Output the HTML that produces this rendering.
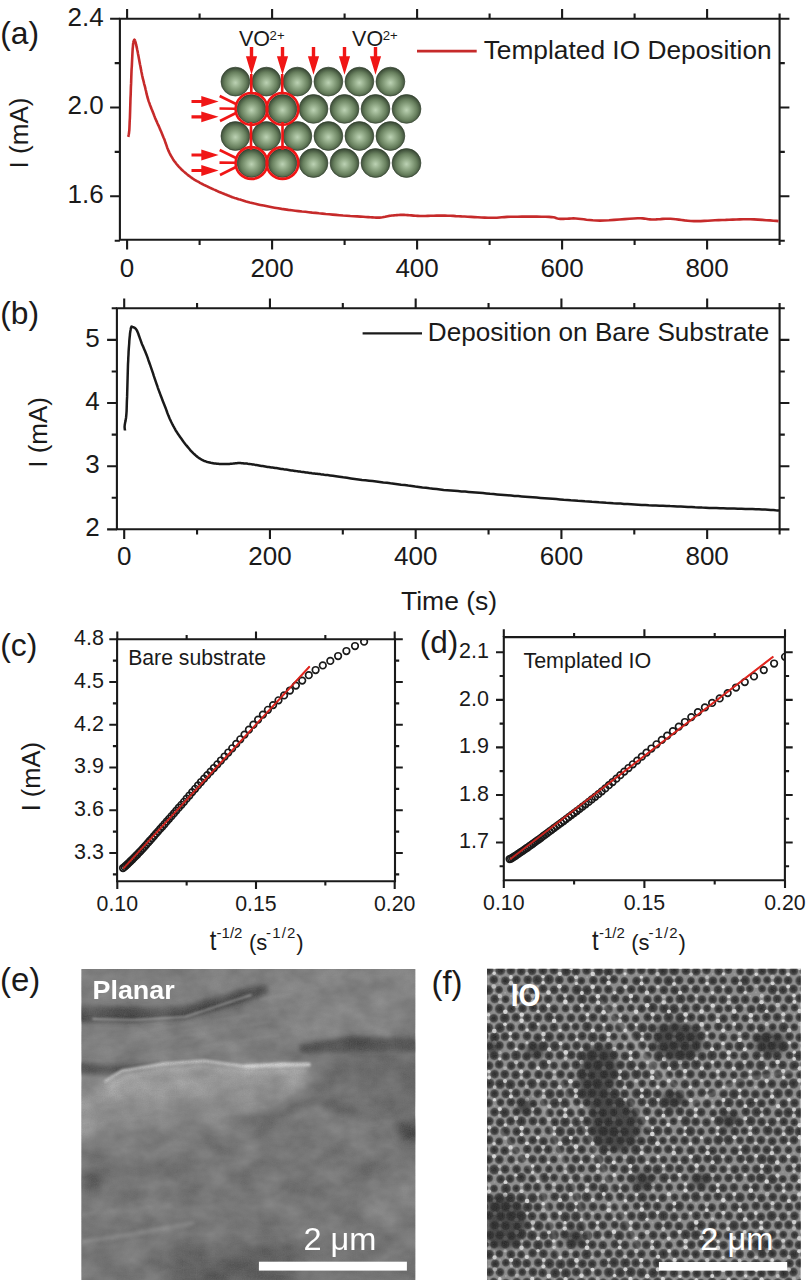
<!DOCTYPE html><html><head><meta charset="utf-8"><style>html,body{margin:0;padding:0;background:#fff;width:809px;height:1280px;overflow:hidden}svg{display:block}</style></head><body>
<svg width="809" height="1280" viewBox="0 0 809 1280" style="font-family:'Liberation Sans',sans-serif">
<defs>
<radialGradient id="sph" cx="50%" cy="54%" r="52%"><stop offset="0" stop-color="#bcd2b4"/><stop offset="0.3" stop-color="#98b08e"/><stop offset="0.7" stop-color="#68805e"/><stop offset="1" stop-color="#3a4a36"/></radialGradient>
</defs>
<rect width="809" height="1280" fill="#fff"/>
<path d="M119.90 18.70 H779.60 V239.80 H119.90 Z" fill="none" stroke="#1a1a1a" stroke-width="2.10"/>
<path d="M127.10 18.70 V8.90 M127.10 239.80 V249.60 M199.60 18.70 V13.50 M199.60 239.80 V245.00 M272.10 18.70 V8.90 M272.10 239.80 V249.60 M344.60 18.70 V13.50 M344.60 239.80 V245.00 M417.10 18.70 V8.90 M417.10 239.80 V249.60 M489.60 18.70 V13.50 M489.60 239.80 V245.00 M562.10 18.70 V8.90 M562.10 239.80 V249.60 M634.60 18.70 V13.50 M634.60 239.80 V245.00 M707.10 18.70 V8.90 M707.10 239.80 V249.60 M779.60 18.70 V13.50 M779.60 239.80 V245.00 M119.90 18.70 H110.10 M779.60 18.70 H789.40 M119.90 63.10 H114.70 M779.60 63.10 H784.80 M119.90 107.50 H110.10 M779.60 107.50 H789.40 M119.90 151.90 H114.70 M779.60 151.90 H784.80 M119.90 196.30 H110.10 M779.60 196.30 H789.40 M119.90 240.70 H114.70 M779.60 240.70 H784.80" fill="none" stroke="#1a1a1a" stroke-width="2.10"/>
<text x="127.10" y="277.00" font-size="26.00" text-anchor="middle" fill="#1a1a1a" font-weight="normal" >0</text>
<text x="272.10" y="277.00" font-size="26.00" text-anchor="middle" fill="#1a1a1a" font-weight="normal" >200</text>
<text x="417.10" y="277.00" font-size="26.00" text-anchor="middle" fill="#1a1a1a" font-weight="normal" >400</text>
<text x="562.10" y="277.00" font-size="26.00" text-anchor="middle" fill="#1a1a1a" font-weight="normal" >600</text>
<text x="707.10" y="277.00" font-size="26.00" text-anchor="middle" fill="#1a1a1a" font-weight="normal" >800</text>
<text x="103.70" y="25.50" font-size="26.00" text-anchor="end" fill="#1a1a1a" font-weight="normal" >2.4</text>
<text x="103.70" y="114.30" font-size="26.00" text-anchor="end" fill="#1a1a1a" font-weight="normal" >2.0</text>
<text x="103.70" y="203.10" font-size="26.00" text-anchor="end" fill="#1a1a1a" font-weight="normal" >1.6</text>
<text x="0.20" y="44.30" font-size="31.80" text-anchor="start" fill="#1a1a1a" font-weight="normal" >(a)</text>
<text transform="translate(27.9,133.0) rotate(-90)" font-size="26" text-anchor="middle" fill="#1a1a1a">I (mA)</text>
<line x1="417.00" y1="51.10" x2="476.70" y2="51.10" stroke="#c62a2a" stroke-width="2.90"/>
<text x="483.70" y="59.40" font-size="26.30" text-anchor="start" fill="#1a1a1a" font-weight="normal" >Templated IO Deposition</text>
<path d="M128.3 136.9 L128.4 136.4 L128.5 135.7 L128.6 135.0 L128.8 134.2 L129.0 133.1 L129.1 131.9 L129.3 130.3 L129.4 128.5 L129.5 126.3 L129.6 123.8 L129.7 121.0 L129.9 118.0 L130.0 114.8 L130.1 111.6 L130.2 108.3 L130.3 105.0 L130.4 101.6 L130.5 98.1 L130.7 94.4 L130.8 90.7 L130.9 87.0 L131.1 83.4 L131.2 80.0 L131.3 76.9 L131.4 74.1 L131.5 71.4 L131.6 69.0 L131.8 66.6 L131.9 64.4 L132.0 62.2 L132.1 60.2 L132.2 58.1 L132.3 56.1 L132.4 54.0 L132.5 52.1 L132.6 50.2 L132.7 48.4 L132.9 46.8 L133.0 45.4 L133.1 44.1 L133.2 43.1 L133.4 42.2 L133.5 41.5 L133.7 40.9 L133.8 40.5 L134.0 40.2 L134.1 40.0 L134.3 39.8 L134.4 39.7 L134.6 39.8 L134.7 39.9 L134.9 40.2 L135.0 40.6 L135.2 41.0 L135.3 41.6 L135.5 42.2 L135.7 42.9 L135.9 43.8 L136.1 44.7 L136.4 45.8 L136.6 46.9 L136.9 48.1 L137.1 49.3 L137.4 50.6 L137.7 51.9 L137.9 53.3 L138.2 54.8 L138.5 56.3 L138.8 57.9 L139.1 59.5 L139.4 61.2 L139.7 62.8 L140.0 64.5 L140.4 66.3 L140.7 68.1 L141.1 69.9 L141.4 71.7 L141.8 73.5 L142.1 75.3 L142.5 76.9 L142.8 78.4 L143.2 79.9 L143.6 81.3 L143.9 82.7 L144.2 84.1 L144.6 85.4 L145.0 86.8 L145.3 88.2 L145.6 89.6 L146.0 91.0 L146.3 92.4 L146.6 93.9 L147.0 95.3 L147.3 96.7 L147.7 98.0 L148.1 99.4 L148.5 100.7 L149.0 102.1 L149.5 103.4 L149.9 104.7 L150.4 105.9 L150.9 107.2 L151.4 108.5 L151.9 109.7 L152.4 110.9 L152.8 112.1 L153.3 113.3 L153.8 114.5 L154.2 115.7 L154.7 116.8 L155.1 118.0 L155.6 119.1 L156.1 120.2 L156.5 121.2 L157.0 122.2 L157.4 123.2 L157.9 124.3 L158.4 125.3 L158.9 126.4 L159.4 127.6 L159.9 128.9 L160.5 130.2 L161.1 131.6 L161.7 133.0 L162.3 134.4 L162.9 135.9 L163.5 137.4 L164.1 138.8 L164.7 140.3 L165.2 141.8 L165.7 143.3 L166.3 144.9 L166.8 146.4 L167.3 147.9 L167.9 149.3 L168.4 150.6 L169.0 151.8 L169.5 153.0 L170.1 154.1 L170.6 155.2 L171.2 156.2 L171.8 157.2 L172.4 158.2 L173.0 159.2 L173.7 160.2 L174.4 161.2 L175.1 162.1 L175.8 163.1 L176.5 164.0 L177.3 164.9 L178.0 165.8 L178.8 166.6 L179.5 167.4 L180.3 168.2 L181.0 169.0 L181.8 169.7 L182.6 170.4 L183.3 171.1 L184.2 171.9 L185.0 172.6 L185.9 173.3 L186.8 174.1 L187.7 174.9 L188.7 175.6 L189.6 176.3 L190.6 177.1 L191.6 177.7 L192.5 178.4 L193.4 179.0 L194.3 179.6 L195.2 180.1 L196.1 180.7 L197.0 181.2 L198.0 181.7 L199.0 182.2 L200.0 182.8 L201.1 183.4 L202.3 184.0 L203.4 184.6 L204.7 185.2 L205.9 185.8 L207.2 186.4 L208.4 187.0 L209.7 187.6 L211.0 188.2 L212.2 188.8 L213.5 189.4 L214.8 189.9 L216.1 190.5 L217.4 191.1 L218.7 191.7 L220.0 192.2 L221.3 192.7 L222.5 193.3 L223.8 193.8 L225.0 194.3 L226.3 194.8 L227.5 195.3 L228.8 195.8 L230.0 196.3 L231.2 196.7 L232.4 197.2 L233.6 197.6 L234.7 198.0 L235.9 198.3 L237.2 198.7 L238.5 199.2 L240.0 199.6 L241.5 200.1 L243.0 200.5 L244.5 201.0 L246.1 201.5 L247.9 202.0 L249.8 202.5 L252.0 203.0 L254.4 203.6 L257.2 204.2 L260.3 204.9 L263.7 205.6 L267.2 206.3 L270.8 207.0 L274.5 207.7 L278.1 208.3 L281.6 208.9 L285.0 209.4 L288.4 209.9 L291.8 210.3 L295.2 210.7 L298.6 211.1 L302.0 211.5 L305.4 211.8 L308.8 212.2 L312.2 212.6 L315.6 212.9 L319.0 213.3 L322.4 213.6 L325.8 214.0 L329.2 214.3 L332.6 214.6 L336.0 214.9 L339.5 215.2 L343.1 215.5 L346.7 215.7 L350.3 216.0 L353.8 216.2 L357.2 216.4 L360.3 216.6 L363.2 216.8 L365.8 217.0 L368.2 217.1 L370.3 217.3 L372.4 217.4 L374.3 217.5 L376.1 217.6 L377.8 217.6 L379.5 217.6 L381.1 217.5 L382.5 217.3 L383.9 217.0 L385.1 216.8 L386.4 216.5 L387.6 216.2 L388.9 215.9 L390.4 215.7 L392.0 215.5 L393.6 215.4 L395.2 215.2 L396.9 215.1 L398.6 215.0 L400.4 214.9 L402.2 214.9 L404.0 214.9 L405.8 215.0 L407.7 215.1 L409.5 215.2 L411.5 215.4 L413.4 215.6 L415.5 215.8 L417.7 215.9 L420.0 216.0 L422.5 216.0 L425.1 216.0 L427.9 215.9 L430.8 215.8 L433.7 215.7 L436.6 215.6 L439.5 215.6 L442.3 215.6 L445.0 215.6 L447.8 215.7 L450.4 215.8 L453.1 215.9 L455.8 216.1 L458.6 216.2 L461.5 216.4 L464.5 216.5 L467.7 216.7 L471.0 216.9 L474.4 217.1 L477.8 217.3 L481.3 217.5 L484.7 217.6 L488.0 217.7 L491.2 217.8 L494.1 217.8 L496.8 217.7 L499.3 217.5 L501.8 217.3 L504.4 217.1 L507.1 216.9 L510.1 216.8 L513.5 216.7 L517.5 216.7 L522.0 216.6 L526.9 216.6 L531.9 216.6 L536.9 216.6 L541.5 216.7 L545.6 216.8 L549.0 216.9 L551.5 217.1 L553.4 217.3 L554.8 217.6 L555.8 217.9 L556.7 218.2 L557.7 218.5 L558.8 218.8 L560.2 218.9 L561.9 218.9 L563.6 218.9 L565.3 218.8 L567.2 218.7 L569.1 218.6 L571.2 218.5 L573.4 218.4 L575.8 218.5 L578.3 218.7 L580.9 219.0 L583.7 219.3 L586.5 219.7 L589.6 220.0 L592.8 220.3 L596.3 220.5 L600.0 220.6 L604.2 220.5 L609.0 220.3 L614.2 219.9 L619.4 219.5 L624.6 219.1 L629.5 218.7 L633.9 218.5 L637.6 218.3 L640.5 218.3 L642.7 218.4 L644.4 218.6 L645.8 218.8 L647.1 219.0 L648.4 219.3 L649.9 219.4 L651.7 219.5 L653.8 219.5 L656.0 219.4 L658.2 219.2 L660.5 219.1 L662.9 218.9 L665.4 218.8 L667.9 218.8 L670.5 218.8 L673.2 219.0 L675.9 219.2 L678.8 219.6 L681.7 220.0 L684.6 220.4 L687.7 220.7 L690.8 221.0 L694.0 221.1 L697.3 221.1 L700.7 221.1 L704.2 220.9 L707.8 220.7 L711.4 220.5 L715.0 220.3 L718.6 220.1 L722.1 220.0 L725.6 219.9 L729.1 219.7 L732.7 219.6 L736.2 219.5 L739.7 219.4 L743.2 219.3 L746.8 219.3 L750.3 219.3 L754.0 219.4 L758.0 219.6 L762.1 219.9 L766.2 220.2 L770.0 220.4 L773.4 220.7 L776.3 220.9 L778.5 221.1" fill="none" stroke="#c62a2a" stroke-width="2.6" stroke-linejoin="round"/>
<circle cx="235.4" cy="81.6" r="14.4" fill="url(#sph)" stroke="#34422f" stroke-width="0.7"/>
<circle cx="266.4" cy="81.6" r="14.4" fill="url(#sph)" stroke="#34422f" stroke-width="0.7"/>
<circle cx="297.4" cy="81.6" r="14.4" fill="url(#sph)" stroke="#34422f" stroke-width="0.7"/>
<circle cx="328.4" cy="81.6" r="14.4" fill="url(#sph)" stroke="#34422f" stroke-width="0.7"/>
<circle cx="359.4" cy="81.6" r="14.4" fill="url(#sph)" stroke="#34422f" stroke-width="0.7"/>
<circle cx="390.4" cy="81.6" r="14.4" fill="url(#sph)" stroke="#34422f" stroke-width="0.7"/>
<circle cx="251.5" cy="108.9" r="14.4" fill="url(#sph)" stroke="#34422f" stroke-width="0.7"/>
<circle cx="282.5" cy="108.9" r="14.4" fill="url(#sph)" stroke="#34422f" stroke-width="0.7"/>
<circle cx="313.5" cy="108.9" r="14.4" fill="url(#sph)" stroke="#34422f" stroke-width="0.7"/>
<circle cx="344.5" cy="108.9" r="14.4" fill="url(#sph)" stroke="#34422f" stroke-width="0.7"/>
<circle cx="375.5" cy="108.9" r="14.4" fill="url(#sph)" stroke="#34422f" stroke-width="0.7"/>
<circle cx="406.5" cy="108.9" r="14.4" fill="url(#sph)" stroke="#34422f" stroke-width="0.7"/>
<circle cx="235.4" cy="136.0" r="14.4" fill="url(#sph)" stroke="#34422f" stroke-width="0.7"/>
<circle cx="266.4" cy="136.0" r="14.4" fill="url(#sph)" stroke="#34422f" stroke-width="0.7"/>
<circle cx="297.4" cy="136.0" r="14.4" fill="url(#sph)" stroke="#34422f" stroke-width="0.7"/>
<circle cx="328.4" cy="136.0" r="14.4" fill="url(#sph)" stroke="#34422f" stroke-width="0.7"/>
<circle cx="359.4" cy="136.0" r="14.4" fill="url(#sph)" stroke="#34422f" stroke-width="0.7"/>
<circle cx="390.4" cy="136.0" r="14.4" fill="url(#sph)" stroke="#34422f" stroke-width="0.7"/>
<circle cx="251.5" cy="163.0" r="14.4" fill="url(#sph)" stroke="#34422f" stroke-width="0.7"/>
<circle cx="282.5" cy="163.0" r="14.4" fill="url(#sph)" stroke="#34422f" stroke-width="0.7"/>
<circle cx="313.5" cy="163.0" r="14.4" fill="url(#sph)" stroke="#34422f" stroke-width="0.7"/>
<circle cx="344.5" cy="163.0" r="14.4" fill="url(#sph)" stroke="#34422f" stroke-width="0.7"/>
<circle cx="375.5" cy="163.0" r="14.4" fill="url(#sph)" stroke="#34422f" stroke-width="0.7"/>
<circle cx="406.5" cy="163.0" r="14.4" fill="url(#sph)" stroke="#34422f" stroke-width="0.7"/>
<g fill="none" stroke="#f01616" stroke-width="2.6"><circle cx="251.5" cy="108.9" r="15.9"/><circle cx="282.5" cy="108.9" r="15.9"/><circle cx="251.5" cy="163.0" r="15.9"/><circle cx="282.5" cy="163.0" r="15.9"/><path d="M251 122 V150 M282.5 122 V150 M251.3 74 V93 M282.2 74 V93"/><path d="M219.7 96 L236 104 M219.5 108.5 L235.6 108.7 M220 121 L236 113 M219.7 150 L236 158 M219.5 162.6 L235.6 162.8 M220 175 L236 167"/></g>
<path d="M249.8 47 L249.8 56.3 L245.9 56.3 L251.5 74.8 L257.1 56.3 L253.2 56.3 L253.2 47 Z" fill="#f01616"/>
<path d="M280.8 47 L280.8 56.3 L276.9 56.3 L282.5 74.8 L288.1 56.3 L284.2 56.3 L284.2 47 Z" fill="#f01616"/>
<path d="M311.8 47 L311.8 56.3 L307.9 56.3 L313.5 74.8 L319.1 56.3 L315.2 56.3 L315.2 47 Z" fill="#f01616"/>
<path d="M342.8 47 L342.8 56.3 L338.9 56.3 L344.5 74.8 L350.1 56.3 L346.2 56.3 L346.2 47 Z" fill="#f01616"/>
<path d="M373.8 47 L373.8 56.3 L369.9 56.3 L375.5 74.8 L381.1 56.3 L377.2 56.3 L377.2 47 Z" fill="#f01616"/>
<path d="M191.5 99.9 L201.3 99.9 L201.3 96.1 L218.6 101.5 L201.3 106.9 L201.3 103.1 L191.5 103.1 Z" fill="#f01616"/>
<path d="M191.5 115.2 L201.3 115.2 L201.3 111.4 L218.6 116.8 L201.3 122.2 L201.3 118.4 L191.5 118.4 Z" fill="#f01616"/>
<path d="M191.5 153.4 L201.3 153.4 L201.3 149.6 L218.6 155.0 L201.3 160.4 L201.3 156.6 L191.5 156.6 Z" fill="#f01616"/>
<path d="M191.5 168.9 L201.3 168.9 L201.3 165.1 L218.6 170.5 L201.3 175.9 L201.3 172.1 L191.5 172.1 Z" fill="#f01616"/>
<text x="239.0" y="45.9" font-size="21.5" fill="#1a1a1a">VO</text>
<text x="269.6" y="40.0" font-size="13.2" fill="#1a1a1a">2+</text>
<text x="352.1" y="45.9" font-size="21.5" fill="#1a1a1a">VO</text>
<text x="382.7" y="40.0" font-size="13.2" fill="#1a1a1a">2+</text>
<path d="M116.90 308.30 H779.60 V529.30 H116.90 Z" fill="none" stroke="#1a1a1a" stroke-width="2.10"/>
<path d="M124.20 308.30 V298.50 M124.20 529.30 V539.10 M197.07 308.30 V303.10 M197.07 529.30 V534.50 M269.94 308.30 V298.50 M269.94 529.30 V539.10 M342.81 308.30 V303.10 M342.81 529.30 V534.50 M415.68 308.30 V298.50 M415.68 529.30 V539.10 M488.55 308.30 V303.10 M488.55 529.30 V534.50 M561.42 308.30 V298.50 M561.42 529.30 V539.10 M634.29 308.30 V303.10 M634.29 529.30 V534.50 M707.16 308.30 V298.50 M707.16 529.30 V539.10 M779.60 308.30 V303.10 M779.60 529.30 V534.50 M116.90 308.32 H111.70 M779.60 308.32 H784.80 M116.90 339.90 H107.10 M779.60 339.90 H789.40 M116.90 371.47 H111.70 M779.60 371.47 H784.80 M116.90 403.05 H107.10 M779.60 403.05 H789.40 M116.90 434.62 H111.70 M779.60 434.62 H784.80 M116.90 466.20 H107.10 M779.60 466.20 H789.40 M116.90 497.77 H111.70 M779.60 497.77 H784.80 M116.90 529.35 H107.10 M779.60 529.35 H789.40" fill="none" stroke="#1a1a1a" stroke-width="2.10"/>
<text x="124.20" y="565.20" font-size="26.00" text-anchor="middle" fill="#1a1a1a" font-weight="normal" >0</text>
<text x="269.94" y="565.20" font-size="26.00" text-anchor="middle" fill="#1a1a1a" font-weight="normal" >200</text>
<text x="415.68" y="565.20" font-size="26.00" text-anchor="middle" fill="#1a1a1a" font-weight="normal" >400</text>
<text x="561.42" y="565.20" font-size="26.00" text-anchor="middle" fill="#1a1a1a" font-weight="normal" >600</text>
<text x="707.16" y="565.20" font-size="26.00" text-anchor="middle" fill="#1a1a1a" font-weight="normal" >800</text>
<text x="99.70" y="346.80" font-size="26.00" text-anchor="end" fill="#1a1a1a" font-weight="normal" >5</text>
<text x="99.70" y="409.95" font-size="26.00" text-anchor="end" fill="#1a1a1a" font-weight="normal" >4</text>
<text x="99.70" y="473.10" font-size="26.00" text-anchor="end" fill="#1a1a1a" font-weight="normal" >3</text>
<text x="99.70" y="536.25" font-size="26.00" text-anchor="end" fill="#1a1a1a" font-weight="normal" >2</text>
<text x="0.20" y="323.90" font-size="31.80" text-anchor="start" fill="#1a1a1a" font-weight="normal" >(b)</text>
<text transform="translate(46.6,432.4) rotate(-90)" font-size="26" text-anchor="middle" fill="#1a1a1a">I (mA)</text>
<line x1="362.60" y1="333.30" x2="422.00" y2="333.30" stroke="#1a1a1a" stroke-width="2.30"/>
<text x="427.80" y="340.90" font-size="26.15" text-anchor="start" fill="#1a1a1a" font-weight="normal" >Deposition on Bare Substrate</text>
<text x="401.00" y="609.80" font-size="26.50" text-anchor="start" fill="#1a1a1a" font-weight="normal" >Time (s)</text>
<path d="M125.0 430.6 L125.0 430.3 L124.9 429.8 L124.8 429.4 L124.7 428.8 L124.7 428.1 L124.6 427.4 L124.6 426.5 L124.7 425.5 L124.8 424.5 L125.0 423.4 L125.2 422.3 L125.5 421.1 L125.7 419.7 L126.0 418.0 L126.2 416.1 L126.4 413.8 L126.6 411.1 L126.7 407.9 L126.8 404.4 L126.9 400.7 L127.1 396.9 L127.2 393.0 L127.3 389.2 L127.4 385.6 L127.5 382.0 L127.6 378.4 L127.7 374.7 L127.8 371.1 L127.9 367.5 L128.0 364.0 L128.2 360.7 L128.3 357.5 L128.5 354.5 L128.6 351.6 L128.8 348.7 L129.0 346.0 L129.2 343.5 L129.3 341.1 L129.5 338.9 L129.7 336.9 L129.9 335.1 L130.0 333.6 L130.2 332.2 L130.4 330.9 L130.6 329.9 L130.7 329.0 L130.9 328.2 L131.1 327.5 L131.3 327.0 L131.4 326.7 L131.6 326.6 L131.7 326.6 L131.9 326.7 L132.1 326.8 L132.3 326.9 L132.5 327.0 L132.8 327.1 L133.1 327.2 L133.5 327.3 L133.8 327.4 L134.2 327.6 L134.6 327.8 L135.0 328.1 L135.3 328.4 L135.6 328.7 L135.9 329.0 L136.2 329.4 L136.4 329.7 L136.7 330.2 L137.0 330.7 L137.3 331.4 L137.7 332.2 L138.1 333.2 L138.5 334.3 L138.9 335.5 L139.4 336.9 L139.9 338.3 L140.4 339.7 L140.9 341.1 L141.4 342.5 L141.9 343.9 L142.5 345.2 L143.1 346.6 L143.7 348.0 L144.3 349.4 L144.9 350.8 L145.5 352.3 L146.1 353.8 L146.7 355.3 L147.3 356.9 L147.9 358.5 L148.4 360.2 L149.0 361.8 L149.6 363.5 L150.2 365.2 L150.8 366.9 L151.4 368.6 L152.0 370.4 L152.6 372.1 L153.2 373.9 L153.7 375.7 L154.3 377.4 L154.9 379.2 L155.5 380.9 L156.1 382.6 L156.7 384.3 L157.3 386.0 L157.8 387.6 L158.4 389.3 L159.0 390.9 L159.6 392.5 L160.2 394.1 L160.8 395.7 L161.4 397.2 L162.0 398.8 L162.5 400.3 L163.1 401.8 L163.7 403.3 L164.3 404.8 L164.9 406.3 L165.5 407.8 L166.1 409.4 L166.7 411.0 L167.2 412.5 L167.8 414.1 L168.4 415.6 L169.0 417.0 L169.6 418.4 L170.2 419.7 L170.8 421.0 L171.4 422.3 L172.0 423.5 L172.6 424.6 L173.2 425.8 L173.8 426.8 L174.3 427.8 L174.8 428.7 L175.2 429.4 L175.5 430.1 L175.9 430.7 L176.3 431.3 L176.7 432.0 L177.3 432.8 L177.9 433.8 L178.7 434.9 L179.6 436.2 L180.5 437.6 L181.6 439.1 L182.6 440.5 L183.7 442.0 L184.8 443.4 L185.8 444.7 L186.8 445.9 L187.8 447.1 L188.8 448.3 L189.8 449.5 L190.7 450.6 L191.7 451.6 L192.7 452.6 L193.7 453.6 L194.7 454.5 L195.7 455.4 L196.7 456.2 L197.6 457.0 L198.6 457.7 L199.6 458.4 L200.6 459.0 L201.6 459.6 L202.6 460.1 L203.6 460.6 L204.5 461.0 L205.5 461.3 L206.5 461.7 L207.5 462.0 L208.5 462.2 L209.6 462.5 L210.7 462.8 L211.9 463.0 L213.1 463.2 L214.4 463.4 L215.6 463.5 L216.9 463.7 L218.2 463.8 L219.4 463.9 L220.6 464.0 L221.9 464.0 L223.1 464.0 L224.3 464.0 L225.6 464.0 L226.8 464.0 L228.1 463.9 L229.3 463.9 L230.5 463.8 L231.8 463.7 L233.0 463.6 L234.2 463.4 L235.5 463.3 L236.7 463.2 L238.0 463.1 L239.2 463.1 L240.4 463.1 L241.7 463.2 L242.9 463.2 L244.1 463.4 L245.4 463.5 L246.6 463.6 L247.9 463.8 L249.1 463.9 L250.3 464.1 L251.6 464.2 L252.8 464.4 L254.1 464.6 L255.3 464.9 L256.5 465.1 L257.8 465.3 L259.0 465.5 L260.2 465.7 L261.5 465.9 L262.7 466.1 L263.9 466.3 L265.2 466.5 L266.4 466.7 L267.7 466.9 L268.9 467.1 L270.1 467.3 L271.4 467.5 L272.6 467.6 L273.8 467.8 L275.1 468.0 L276.3 468.1 L277.6 468.3 L278.8 468.5 L280.0 468.7 L281.3 468.9 L282.5 469.1 L283.8 469.3 L285.0 469.4 L286.2 469.6 L287.5 469.8 L288.7 470.0 L289.9 470.2 L291.2 470.4 L292.4 470.5 L293.7 470.7 L294.9 470.9 L296.1 471.1 L297.4 471.2 L298.6 471.4 L299.8 471.6 L301.1 471.8 L302.3 471.9 L303.5 472.1 L304.7 472.3 L305.9 472.5 L307.2 472.6 L308.4 472.8 L309.6 473.0 L310.8 473.1 L312.0 473.3 L313.2 473.4 L314.5 473.5 L315.7 473.7 L317.0 473.8 L318.3 474.0 L319.6 474.1 L320.7 474.3 L321.8 474.4 L323.0 474.5 L324.3 474.7 L325.9 474.9 L327.7 475.1 L330.0 475.4 L332.8 475.8 L335.9 476.2 L339.4 476.7 L343.2 477.3 L347.0 477.8 L350.9 478.4 L354.7 478.9 L358.4 479.4 L362.0 479.9 L365.5 480.3 L369.1 480.7 L372.6 481.1 L376.2 481.5 L379.8 481.9 L383.3 482.4 L386.9 482.8 L390.5 483.3 L394.0 483.7 L397.6 484.2 L401.1 484.7 L404.7 485.1 L408.2 485.6 L411.8 486.0 L415.3 486.5 L418.8 486.9 L422.4 487.4 L425.9 487.8 L429.5 488.3 L433.0 488.7 L436.6 489.1 L440.1 489.5 L443.7 489.9 L447.3 490.2 L450.8 490.5 L454.4 490.8 L457.9 491.1 L461.5 491.4 L465.1 491.6 L468.6 491.9 L472.2 492.2 L475.8 492.5 L479.3 492.8 L482.9 493.1 L486.4 493.4 L490.0 493.8 L493.5 494.1 L497.1 494.4 L500.6 494.7 L504.1 495.0 L507.6 495.3 L511.1 495.6 L514.6 495.9 L518.2 496.1 L521.7 496.4 L525.3 496.7 L529.0 497.0 L532.8 497.3 L536.6 497.6 L540.5 497.9 L544.5 498.2 L548.5 498.5 L552.4 498.8 L556.2 499.1 L560.0 499.4 L563.7 499.7 L567.3 499.9 L570.8 500.2 L574.4 500.4 L577.9 500.7 L581.4 500.9 L584.9 501.2 L588.4 501.4 L592.0 501.7 L595.5 501.9 L599.1 502.2 L602.6 502.4 L606.2 502.7 L609.8 502.9 L613.3 503.2 L616.9 503.4 L620.5 503.6 L624.0 503.9 L627.6 504.1 L631.1 504.3 L634.7 504.5 L638.2 504.7 L641.8 504.9 L645.3 505.1 L648.8 505.3 L652.4 505.4 L655.9 505.5 L659.5 505.7 L663.0 505.8 L666.6 505.9 L670.1 506.1 L673.7 506.2 L677.3 506.4 L680.8 506.5 L684.4 506.7 L688.0 506.9 L691.5 507.1 L695.1 507.3 L698.6 507.4 L702.2 507.6 L705.8 507.7 L709.3 507.9 L712.9 508.0 L716.4 508.1 L720.0 508.2 L723.5 508.3 L727.1 508.4 L730.6 508.5 L734.2 508.6 L737.9 508.7 L741.6 508.8 L745.3 508.9 L749.0 509.0 L752.5 509.1 L755.9 509.2 L759.0 509.3 L762.0 509.4 L765.1 509.6 L768.0 509.8 L770.8 510.0 L773.3 510.1 L775.6 510.3 L777.5 510.4 L779.0 510.5" fill="none" stroke="#1a1a1a" stroke-width="2.5" stroke-linejoin="round"/>
<path d="M117.10 639.30 H395.00 V881.30 H117.10 Z" fill="none" stroke="#1a1a1a" stroke-width="2.10"/>
<path d="M117.30 639.30 V631.50 M117.30 881.30 V889.10 M186.65 639.30 V635.10 M186.65 881.30 V885.50 M256.00 639.30 V631.50 M256.00 881.30 V889.10 M325.35 639.30 V635.10 M325.35 881.30 V885.50 M394.70 639.30 V631.50 M394.70 881.30 V889.10 M117.10 639.30 H109.30 M395.00 639.30 H402.80 M117.10 660.67 H112.90 M395.00 660.67 H399.20 M117.10 682.05 H109.30 M395.00 682.05 H402.80 M117.10 703.42 H112.90 M395.00 703.42 H399.20 M117.10 724.80 H109.30 M395.00 724.80 H402.80 M117.10 746.17 H112.90 M395.00 746.17 H399.20 M117.10 767.55 H109.30 M395.00 767.55 H402.80 M117.10 788.92 H112.90 M395.00 788.92 H399.20 M117.10 810.30 H109.30 M395.00 810.30 H402.80 M117.10 831.67 H112.90 M395.00 831.67 H399.20 M117.10 853.05 H109.30 M395.00 853.05 H402.80 M117.10 874.42 H112.90 M395.00 874.42 H399.20" fill="none" stroke="#1a1a1a" stroke-width="2.10"/>
<text x="117.30" y="911.00" font-size="21.30" text-anchor="middle" fill="#1a1a1a" font-weight="normal" >0.10</text>
<text x="256.00" y="911.00" font-size="21.30" text-anchor="middle" fill="#1a1a1a" font-weight="normal" >0.15</text>
<text x="394.70" y="911.00" font-size="21.30" text-anchor="middle" fill="#1a1a1a" font-weight="normal" >0.20</text>
<text x="103.90" y="645.10" font-size="21.50" text-anchor="end" fill="#1a1a1a" font-weight="normal" >4.8</text>
<text x="103.90" y="687.85" font-size="21.50" text-anchor="end" fill="#1a1a1a" font-weight="normal" >4.5</text>
<text x="103.90" y="730.60" font-size="21.50" text-anchor="end" fill="#1a1a1a" font-weight="normal" >4.2</text>
<text x="103.90" y="773.35" font-size="21.50" text-anchor="end" fill="#1a1a1a" font-weight="normal" >3.9</text>
<text x="103.90" y="816.10" font-size="21.50" text-anchor="end" fill="#1a1a1a" font-weight="normal" >3.6</text>
<text x="103.90" y="858.85" font-size="21.50" text-anchor="end" fill="#1a1a1a" font-weight="normal" >3.3</text>
<text x="0.20" y="655.80" font-size="31.80" text-anchor="start" fill="#1a1a1a" font-weight="normal" >(c)</text>
<text transform="translate(40.4,776.6) rotate(-90)" font-size="25.5" text-anchor="middle" fill="#1a1a1a">I (mA)</text>
<text x="128.20" y="665.20" font-size="21.20" text-anchor="start" fill="#1a1a1a" font-weight="normal" >Bare substrate</text>
<g font-size="22.0" fill="#1a1a1a">
<text transform="translate(209.70,950.00) scale(1.08,1.22)">t</text>
<text x="216.60" y="938.00" font-size="15.0">-1/2</text>
<text x="249.00" y="950.00">(s</text>
<text x="266.10" y="938.00" font-size="15.0" letter-spacing="1.1">-1/2</text>
<text x="296.30" y="950.00">)</text>
</g>
<path d="M123.2 868.6 L309.7 666.3" stroke="#e0261f" stroke-width="1.7"/>
<clipPath id="clipC"><rect x="117.1" y="639.3" width="277.9" height="242.0"/></clipPath>
<g fill="none" stroke="#1a1a1a" stroke-width="1.65" clip-path="url(#clipC)"><circle cx="123.0" cy="868.0" r="3.3"/><circle cx="124.5" cy="866.9" r="3.3"/><circle cx="126.0" cy="865.5" r="3.3"/><circle cx="127.6" cy="864.0" r="3.3"/><circle cx="129.1" cy="862.6" r="3.3"/><circle cx="130.7" cy="861.0" r="3.3"/><circle cx="132.3" cy="859.5" r="3.3"/><circle cx="133.9" cy="857.9" r="3.3"/><circle cx="135.6" cy="856.2" r="3.3"/><circle cx="137.3" cy="854.5" r="3.3"/><circle cx="139.0" cy="852.7" r="3.3"/><circle cx="140.8" cy="850.8" r="3.3"/><circle cx="142.6" cy="848.9" r="3.3"/><circle cx="144.4" cy="846.9" r="3.3"/><circle cx="146.2" cy="844.8" r="3.3"/><circle cx="148.1" cy="842.7" r="3.3"/><circle cx="150.0" cy="840.5" r="3.3"/><circle cx="152.0" cy="838.3" r="3.3"/><circle cx="154.0" cy="836.0" r="3.3"/><circle cx="156.0" cy="833.7" r="3.3"/><circle cx="158.1" cy="831.3" r="3.3"/><circle cx="160.2" cy="828.9" r="3.3"/><circle cx="162.4" cy="826.5" r="3.3"/><circle cx="164.6" cy="824.0" r="3.3"/><circle cx="166.8" cy="821.4" r="3.3"/><circle cx="169.1" cy="818.8" r="3.3"/><circle cx="171.5" cy="816.1" r="3.3"/><circle cx="173.9" cy="813.4" r="3.3"/><circle cx="176.3" cy="810.6" r="3.3"/><circle cx="178.8" cy="807.7" r="3.3"/><circle cx="181.4" cy="804.8" r="3.3"/><circle cx="184.0" cy="801.8" r="3.3"/><circle cx="186.6" cy="798.7" r="3.3"/><circle cx="189.4" cy="795.5" r="3.3"/><circle cx="192.2" cy="792.1" r="3.3"/><circle cx="195.1" cy="788.8" r="3.3"/><circle cx="198.0" cy="785.4" r="3.3"/><circle cx="201.0" cy="782.0" r="3.3"/><circle cx="204.1" cy="778.6" r="3.3"/><circle cx="207.3" cy="775.1" r="3.3"/><circle cx="210.6" cy="771.6" r="3.3"/><circle cx="213.9" cy="768.0" r="3.3"/><circle cx="217.4" cy="764.3" r="3.3"/><circle cx="220.9" cy="760.5" r="3.3"/><circle cx="224.6" cy="756.5" r="3.3"/><circle cx="228.3" cy="752.5" r="3.3"/><circle cx="232.2" cy="748.3" r="3.3"/><circle cx="236.2" cy="743.9" r="3.3"/><circle cx="240.3" cy="739.3" r="3.3"/><circle cx="244.5" cy="734.6" r="3.3"/><circle cx="248.9" cy="729.7" r="3.3"/><circle cx="253.4" cy="724.7" r="3.3"/><circle cx="258.1" cy="719.6" r="3.3"/><circle cx="262.9" cy="714.6" r="3.3"/><circle cx="267.9" cy="709.8" r="3.3"/><circle cx="273.1" cy="705.1" r="3.3"/><circle cx="278.5" cy="700.3" r="3.3"/><circle cx="284.1" cy="695.4" r="3.3"/><circle cx="289.9" cy="690.5" r="3.3"/><circle cx="295.9" cy="685.6" r="3.3"/><circle cx="302.2" cy="680.6" r="3.3"/><circle cx="308.8" cy="675.2" r="3.3"/><circle cx="315.6" cy="670.0" r="3.3"/><circle cx="322.8" cy="665.4" r="3.3"/><circle cx="330.3" cy="660.9" r="3.3"/><circle cx="338.1" cy="656.0" r="3.3"/><circle cx="346.4" cy="651.0" r="3.3"/><circle cx="355.0" cy="646.0" r="3.3"/><circle cx="364.1" cy="641.7" r="3.3"/></g>
<path d="M123.2 868.6 L309.7 666.3" stroke="#e0261f" stroke-width="1.9" opacity="0.85"/>
<path d="M503.80 637.10 H784.90 V880.20 H503.80 Z" fill="none" stroke="#1a1a1a" stroke-width="2.10"/>
<path d="M503.80 637.10 V629.30 M503.80 880.20 V888.00 M574.10 637.10 V632.90 M574.10 880.20 V884.40 M644.40 637.10 V629.30 M644.40 880.20 V888.00 M714.70 637.10 V632.90 M714.70 880.20 V884.40 M785.00 637.10 V629.30 M785.00 880.20 V888.00 M503.80 652.30 H496.00 M784.90 652.30 H792.70 M503.80 676.07 H499.60 M784.90 676.07 H789.10 M503.80 699.85 H496.00 M784.90 699.85 H792.70 M503.80 723.62 H499.60 M784.90 723.62 H789.10 M503.80 747.40 H496.00 M784.90 747.40 H792.70 M503.80 771.17 H499.60 M784.90 771.17 H789.10 M503.80 794.95 H496.00 M784.90 794.95 H792.70 M503.80 818.73 H499.60 M784.90 818.73 H789.10 M503.80 842.50 H496.00 M784.90 842.50 H792.70 M503.80 866.27 H499.60 M784.90 866.27 H789.10" fill="none" stroke="#1a1a1a" stroke-width="2.10"/>
<text x="503.80" y="910.40" font-size="21.30" text-anchor="middle" fill="#1a1a1a" font-weight="normal" >0.10</text>
<text x="644.40" y="910.40" font-size="21.30" text-anchor="middle" fill="#1a1a1a" font-weight="normal" >0.15</text>
<text x="785.00" y="910.40" font-size="21.30" text-anchor="middle" fill="#1a1a1a" font-weight="normal" >0.20</text>
<text x="488.90" y="658.10" font-size="21.50" text-anchor="end" fill="#1a1a1a" font-weight="normal" >2.1</text>
<text x="488.90" y="705.65" font-size="21.50" text-anchor="end" fill="#1a1a1a" font-weight="normal" >2.0</text>
<text x="488.90" y="753.20" font-size="21.50" text-anchor="end" fill="#1a1a1a" font-weight="normal" >1.9</text>
<text x="488.90" y="800.75" font-size="21.50" text-anchor="end" fill="#1a1a1a" font-weight="normal" >1.8</text>
<text x="488.90" y="848.30" font-size="21.50" text-anchor="end" fill="#1a1a1a" font-weight="normal" >1.7</text>
<text x="419.80" y="653.20" font-size="31.50" text-anchor="start" fill="#1a1a1a" font-weight="normal" >(d)</text>
<text x="523.40" y="668.00" font-size="21.50" text-anchor="start" fill="#1a1a1a" font-weight="normal" >Templated IO</text>
<g font-size="22.0" fill="#1a1a1a">
<text transform="translate(592.00,950.00) scale(1.08,1.22)">t</text>
<text x="598.90" y="938.00" font-size="15.0">-1/2</text>
<text x="631.30" y="950.00">(s</text>
<text x="648.40" y="938.00" font-size="15.0" letter-spacing="1.1">-1/2</text>
<text x="678.60" y="950.00">)</text>
</g>
<path d="M510.2 859.3 L773.3 656.6" stroke="#e0261f" stroke-width="1.7"/>
<clipPath id="clipD"><rect x="503.8" y="637.1" width="281.1" height="243.1"/></clipPath>
<g fill="none" stroke="#1a1a1a" stroke-width="1.65" clip-path="url(#clipD)"><circle cx="509.6" cy="859.0" r="3.3"/><circle cx="511.1" cy="858.5" r="3.3"/><circle cx="512.6" cy="857.5" r="3.3"/><circle cx="514.2" cy="856.5" r="3.3"/><circle cx="515.8" cy="855.5" r="3.3"/><circle cx="517.4" cy="854.4" r="3.3"/><circle cx="519.0" cy="853.3" r="3.3"/><circle cx="520.7" cy="852.2" r="3.3"/><circle cx="522.4" cy="851.1" r="3.3"/><circle cx="524.1" cy="849.9" r="3.3"/><circle cx="525.8" cy="848.7" r="3.3"/><circle cx="527.6" cy="847.5" r="3.3"/><circle cx="529.4" cy="846.2" r="3.3"/><circle cx="531.3" cy="844.9" r="3.3"/><circle cx="533.1" cy="843.5" r="3.3"/><circle cx="535.0" cy="842.1" r="3.3"/><circle cx="537.0" cy="840.7" r="3.3"/><circle cx="539.0" cy="839.3" r="3.3"/><circle cx="541.0" cy="837.8" r="3.3"/><circle cx="543.1" cy="836.2" r="3.3"/><circle cx="545.2" cy="834.7" r="3.3"/><circle cx="547.3" cy="833.1" r="3.3"/><circle cx="549.5" cy="831.4" r="3.3"/><circle cx="551.7" cy="829.8" r="3.3"/><circle cx="554.0" cy="828.0" r="3.3"/><circle cx="556.3" cy="826.3" r="3.3"/><circle cx="558.7" cy="824.6" r="3.3"/><circle cx="561.1" cy="822.8" r="3.3"/><circle cx="563.6" cy="821.0" r="3.3"/><circle cx="566.1" cy="819.1" r="3.3"/><circle cx="568.7" cy="817.2" r="3.3"/><circle cx="571.4" cy="815.1" r="3.3"/><circle cx="574.1" cy="813.1" r="3.3"/><circle cx="576.9" cy="811.0" r="3.3"/><circle cx="579.7" cy="808.8" r="3.3"/><circle cx="582.6" cy="806.6" r="3.3"/><circle cx="585.6" cy="804.3" r="3.3"/><circle cx="588.7" cy="801.9" r="3.3"/><circle cx="591.8" cy="799.4" r="3.3"/><circle cx="595.1" cy="796.8" r="3.3"/><circle cx="598.4" cy="794.2" r="3.3"/><circle cx="601.8" cy="791.3" r="3.3"/><circle cx="605.3" cy="788.4" r="3.3"/><circle cx="608.9" cy="785.2" r="3.3"/><circle cx="612.6" cy="782.0" r="3.3"/><circle cx="616.4" cy="778.7" r="3.3"/><circle cx="620.3" cy="775.2" r="3.3"/><circle cx="624.3" cy="771.6" r="3.3"/><circle cx="628.5" cy="768.0" r="3.3"/><circle cx="632.8" cy="764.3" r="3.3"/><circle cx="637.2" cy="760.6" r="3.3"/><circle cx="641.8" cy="756.7" r="3.3"/><circle cx="646.5" cy="752.7" r="3.3"/><circle cx="651.4" cy="748.5" r="3.3"/><circle cx="656.5" cy="744.3" r="3.3"/><circle cx="661.8" cy="739.9" r="3.3"/><circle cx="667.2" cy="735.6" r="3.3"/><circle cx="672.9" cy="731.2" r="3.3"/><circle cx="678.8" cy="726.6" r="3.3"/><circle cx="684.9" cy="722.0" r="3.3"/><circle cx="691.3" cy="717.1" r="3.3"/><circle cx="697.9" cy="712.2" r="3.3"/><circle cx="704.9" cy="707.4" r="3.3"/><circle cx="712.1" cy="702.9" r="3.3"/><circle cx="719.7" cy="698.4" r="3.3"/><circle cx="727.7" cy="693.1" r="3.3"/><circle cx="736.0" cy="687.5" r="3.3"/><circle cx="744.8" cy="682.1" r="3.3"/><circle cx="754.0" cy="676.4" r="3.3"/><circle cx="763.8" cy="670.1" r="3.3"/><circle cx="774.1" cy="663.5" r="3.3"/><circle cx="785.0" cy="656.8" r="3.3"/></g>
<path d="M510.2 859.3 L773.3 656.6" stroke="#e0261f" stroke-width="1.9" opacity="0.85"/>
<defs><clipPath id="clipE"><rect x="81.5" y="969.0" width="333.8" height="311.0"/></clipPath>
<filter id="b10" x="-50%" y="-50%" width="200%" height="200%"><feGaussianBlur stdDeviation="10"/></filter>
<filter id="b6" x="-50%" y="-50%" width="200%" height="200%"><feGaussianBlur stdDeviation="6"/></filter>
<filter id="b4" x="-50%" y="-50%" width="200%" height="200%"><feGaussianBlur stdDeviation="4"/></filter>
<filter id="b25" x="-50%" y="-50%" width="200%" height="200%"><feGaussianBlur stdDeviation="2.5"/></filter>
<filter id="b15" x="-50%" y="-50%" width="200%" height="200%"><feGaussianBlur stdDeviation="1.5"/></filter>
<filter id="b1" x="-50%" y="-50%" width="200%" height="200%"><feGaussianBlur stdDeviation="1.0"/></filter>
<filter id="b06" x="-50%" y="-50%" width="200%" height="200%"><feGaussianBlur stdDeviation="0.6"/></filter>
<filter id="mottle" x="0" y="0" width="100%" height="100%" color-interpolation-filters="sRGB"><feTurbulence type="fractalNoise" baseFrequency="0.035 0.05" numOctaves="3" seed="8"/><feColorMatrix type="matrix" values="1.3 0 0 0 -0.2  1.3 0 0 0 -0.2  1.3 0 0 0 -0.2  0 0 0 0 1"/></filter>
<filter id="grain" x="0" y="0" width="100%" height="100%" color-interpolation-filters="sRGB"><feTurbulence type="fractalNoise" baseFrequency="0.85" numOctaves="2" seed="3"/><feColorMatrix type="matrix" values="0 0 0 0 0.5  0 0 0 0 0.5  0 0 0 0 0.5  0.7 0.7 0 0 -0.35"/></filter>
</defs>
<g clip-path="url(#clipE)">
<rect x="81.5" y="969.0" width="333.8" height="311.0" fill="#7a7a7a"/>
<g filter="url(#b10)">
<path d="M60 960 L260 960 L250 990 L180 1008 L100 1010 L60 1005 Z" fill="#838383"/>
<path d="M260 960 L430 960 L430 1035 L330 1040 L280 1020 Z" fill="#878787"/>
<path d="M60 1025 L200 1020 L300 1030 L310 1050 L200 1055 L60 1062 Z" fill="#838383"/>
<path d="M60 1078 L160 1068 L250 1070 L310 1072 L300 1100 L240 1118 L150 1132 L60 1138 Z" fill="#919191"/>
<path d="M60 1095 L100 1095 L100 1140 L60 1140 Z" fill="#a5a5a5"/>
<path d="M320 1050 L430 1048 L430 1108 L340 1106 Z" fill="#6b6b6b"/>
<path d="M60 1140 L250 1125 L430 1130 L430 1290 L60 1290 Z" fill="#777777"/>
<path d="M170 1250 L300 1248 L300 1290 L170 1290 Z" fill="#555555"/>
<path d="M360 1190 L430 1188 L430 1220 L365 1222 Z" fill="#858585"/>
</g>
<g filter="url(#b4)">
<ellipse cx="92" cy="1182" rx="11" ry="10" fill="#575757"/>
<ellipse cx="360" cy="1167" rx="18" ry="8" fill="#6a6a6a"/>
<path d="M395 1122 L430 1118 L430 1142 L400 1140 Z" fill="#444"/>
<path d="M238 1118 L276 1112 L313 1097 L350 1105 L380 1122 L350 1112 L313 1104 L276 1119 L240 1124 Z" fill="#5c5c5c"/>
</g>
<g filter="url(#b25)">
<path d="M78 1005 L120 1007 L150 1008 L185 1006 L210 998 L249 987 L268 985 L268 994 L249 999 L212 1010 L186 1017 L130 1021 L100 1022 L78 1022 Z" fill="#4c4c4c"/>
<path d="M78 1011 L130 1015 L186 1012 L249 993 L262 990 L262 996 L249 1000 L186 1019 L130 1022 L78 1022 Z" fill="#3c3c3c"/>
<path d="M300 1045 L313 1043 L350 1036 L416 1038 L420 1052 L350 1051 L313 1053 L300 1052 Z" fill="#4a4a4a"/>
<path d="M78 1062 L100 1064 L133 1066 L160 1062 L160 1066 L133 1073 L100 1075 L78 1074 Z" fill="#4e4e4e"/>
</g>
<g filter="url(#b6)">
<path d="M100 1082 L164 1068 L250 1070 L310 1070 L300 1090 L200 1095 L120 1105 L90 1110 Z" fill="#a3a3a3"/>
</g>
<g filter="url(#b25)">
<path d="M106 1083 L122 1073 L164 1066 L205 1063 L247 1069 L280 1068 L309 1067 L305 1074 L250 1076 L205 1071 L164 1074 L125 1082 L110 1090 Z" fill="#b2b2b2"/>
</g>
<g filter="url(#b1)" fill="none" stroke-linecap="round" stroke-linejoin="round">
<path d="M93 1019 L135 1020 L185 1017 L218 1006 L251 995" stroke="#9c9c9c" stroke-width="2"/>
<path d="M106 1081 L122 1071 L164 1064 L205 1061 L247 1067 L280 1066 L309 1065" stroke="#cdcdcd" stroke-width="3.5"/>
<path d="M245 1066 L280 1064 L309 1064" stroke="#dddddd" stroke-width="3"/>
<path d="M82 1242 L120 1236 L160 1229 L193 1223" stroke="#a8a8a8" stroke-width="3.5" opacity="0.6" filter="url(#b15)"/>
<path d="M82 1214 L130 1210 L170 1205" stroke="#8e8e8e" stroke-width="4" opacity="0.5" filter="url(#b15)"/>
<path d="M150 1030 L250 1015 M160 1040 L270 1022 M180 1050 L280 1035 M260 1000 L330 985 M270 1010 L340 995" stroke="#8e8e8e" stroke-width="1.5" opacity="0.6"/>
</g>
<rect x="81.5" y="969.0" width="333.8" height="311.0" filter="url(#mottle)" opacity="0.13"/>
<rect x="81.5" y="969.0" width="333.8" height="311.0" filter="url(#grain)" opacity="0.4"/>
</g>
<text x="0.00" y="990.60" font-size="33.00" text-anchor="start" fill="#1a1a1a" font-weight="normal" >(e)</text>
<text transform="translate(92.50,999.20) scale(1.035,1)" font-size="26.00" text-anchor="start" fill="#fff" font-weight="bold" >Planar</text>
<rect x="258.9" y="1261.7" width="148" height="8.9" fill="#fff"/>
<text transform="translate(303.45,1250.40) scale(1.050,1)" font-size="31.00" text-anchor="start" fill="#fff" font-weight="normal" >2 μm</text>
<defs><clipPath id="clipF"><rect x="487.0" y="968.7" width="313.8" height="311.3"/></clipPath>
<radialGradient id="hg"><stop offset="0" stop-color="#262626"/><stop offset="0.45" stop-color="#333"/><stop offset="0.75" stop-color="#4a4a4a"/><stop offset="1" stop-color="#6a6a6a" stop-opacity="0.5"/></radialGradient>
</defs>
<g clip-path="url(#clipF)">
<rect x="487.0" y="968.7" width="313.8" height="311.3" fill="#8e8e8e"/>
<g filter="url(#b06)" fill="url(#hg)"><circle cx="483.5" cy="961.4" r="4.8"/><circle cx="495.1" cy="961.2" r="4.3"/><circle cx="505.4" cy="961.4" r="4.3"/><circle cx="515.7" cy="961.3" r="4.8"/><circle cx="527.4" cy="961.7" r="4.8"/><circle cx="537.4" cy="960.9" r="4.8"/><circle cx="548.3" cy="961.8" r="5.5"/><circle cx="560.2" cy="960.5" r="4.3"/><circle cx="571.5" cy="962.0" r="4.8"/><circle cx="581.9" cy="961.4" r="4.3"/><circle cx="592.0" cy="960.5" r="4.8"/><circle cx="603.5" cy="960.6" r="4.8"/><circle cx="613.9" cy="960.8" r="4.3"/><circle cx="624.5" cy="961.2" r="4.8"/><circle cx="636.1" cy="961.8" r="4.8"/><circle cx="647.1" cy="961.5" r="4.3"/><circle cx="657.9" cy="961.5" r="4.8"/><circle cx="668.8" cy="960.9" r="4.8"/><circle cx="680.5" cy="962.1" r="5.5"/><circle cx="691.2" cy="961.6" r="5.5"/><circle cx="701.3" cy="960.8" r="4.8"/><circle cx="712.1" cy="960.6" r="4.8"/><circle cx="723.8" cy="961.1" r="4.8"/><circle cx="734.8" cy="961.1" r="5.5"/><circle cx="745.9" cy="961.8" r="4.8"/><circle cx="755.3" cy="960.8" r="4.8"/><circle cx="767.6" cy="961.2" r="4.8"/><circle cx="778.6" cy="961.1" r="4.8"/><circle cx="788.1" cy="961.5" r="5.5"/><circle cx="800.1" cy="960.9" r="5.5"/><circle cx="809.9" cy="961.0" r="5.5"/><circle cx="822.2" cy="961.7" r="4.8"/><circle cx="477.5" cy="970.3" r="4.8"/><circle cx="488.4" cy="970.0" r="5.5"/><circle cx="500.4" cy="970.2" r="5.5"/><circle cx="510.9" cy="970.6" r="4.8"/><circle cx="521.2" cy="971.1" r="4.8"/><circle cx="532.0" cy="970.9" r="4.8"/><circle cx="542.9" cy="970.6" r="4.8"/><circle cx="553.9" cy="970.3" r="4.8"/><circle cx="566.1" cy="971.2" r="5.5"/><circle cx="575.9" cy="971.3" r="4.8"/><circle cx="586.6" cy="970.5" r="4.8"/><circle cx="598.6" cy="970.9" r="5.5"/><circle cx="608.3" cy="971.5" r="5.5"/><circle cx="619.3" cy="970.3" r="4.8"/><circle cx="631.1" cy="970.4" r="4.8"/><circle cx="641.3" cy="970.0" r="4.8"/><circle cx="651.8" cy="970.8" r="4.8"/><circle cx="663.0" cy="970.9" r="5.5"/><circle cx="674.1" cy="970.6" r="5.5"/><circle cx="685.9" cy="970.7" r="4.8"/><circle cx="696.2" cy="971.3" r="4.8"/><circle cx="706.5" cy="970.1" r="4.8"/><circle cx="718.6" cy="971.2" r="4.8"/><circle cx="728.4" cy="970.2" r="4.3"/><circle cx="740.1" cy="971.4" r="4.3"/><circle cx="750.1" cy="971.4" r="4.8"/><circle cx="762.1" cy="970.9" r="4.8"/><circle cx="772.3" cy="970.1" r="5.5"/><circle cx="782.6" cy="971.4" r="4.3"/><circle cx="793.8" cy="971.0" r="4.8"/><circle cx="804.7" cy="971.2" r="5.5"/><circle cx="816.2" cy="970.4" r="4.8"/><circle cx="483.0" cy="980.5" r="4.3"/><circle cx="493.8" cy="979.7" r="4.8"/><circle cx="505.4" cy="980.7" r="4.8"/><circle cx="516.4" cy="979.8" r="4.8"/><circle cx="527.8" cy="979.7" r="4.8"/><circle cx="537.3" cy="979.8" r="5.5"/><circle cx="548.9" cy="979.4" r="5.5"/><circle cx="559.3" cy="979.9" r="4.8"/><circle cx="570.9" cy="979.6" r="4.3"/><circle cx="581.4" cy="980.8" r="4.3"/><circle cx="593.3" cy="980.4" r="4.8"/><circle cx="603.8" cy="980.3" r="4.8"/><circle cx="613.8" cy="979.4" r="4.8"/><circle cx="624.5" cy="980.8" r="4.3"/><circle cx="636.5" cy="980.9" r="4.8"/><circle cx="646.3" cy="980.4" r="4.3"/><circle cx="657.9" cy="980.5" r="4.8"/><circle cx="668.6" cy="980.9" r="5.5"/><circle cx="679.1" cy="980.2" r="4.8"/><circle cx="691.0" cy="980.8" r="4.3"/><circle cx="701.9" cy="980.5" r="4.3"/><circle cx="712.9" cy="980.8" r="4.8"/><circle cx="723.1" cy="980.4" r="4.3"/><circle cx="734.9" cy="980.7" r="4.8"/><circle cx="745.0" cy="980.6" r="5.5"/><circle cx="756.6" cy="980.3" r="4.8"/><circle cx="767.1" cy="980.0" r="4.3"/><circle cx="778.0" cy="980.3" r="4.8"/><circle cx="788.1" cy="980.4" r="4.8"/><circle cx="800.4" cy="980.7" r="5.5"/><circle cx="810.9" cy="980.0" r="4.3"/><circle cx="821.8" cy="980.3" r="4.8"/><circle cx="478.0" cy="990.1" r="4.8"/><circle cx="488.3" cy="990.0" r="5.5"/><circle cx="499.1" cy="989.7" r="4.3"/><circle cx="510.8" cy="989.1" r="4.3"/><circle cx="522.0" cy="989.6" r="4.8"/><circle cx="532.8" cy="990.3" r="4.8"/><circle cx="543.1" cy="988.8" r="4.8"/><circle cx="554.1" cy="989.9" r="4.8"/><circle cx="564.8" cy="989.1" r="4.8"/><circle cx="576.8" cy="989.8" r="5.5"/><circle cx="587.0" cy="990.2" r="5.5"/><circle cx="597.7" cy="989.8" r="4.8"/><circle cx="608.4" cy="989.5" r="4.8"/><circle cx="620.3" cy="990.2" r="4.8"/><circle cx="631.3" cy="989.4" r="4.8"/><circle cx="641.7" cy="989.3" r="4.8"/><circle cx="651.9" cy="989.6" r="4.8"/><circle cx="663.9" cy="990.1" r="4.8"/><circle cx="674.6" cy="990.3" r="4.8"/><circle cx="684.8" cy="989.0" r="4.8"/><circle cx="696.0" cy="989.2" r="4.8"/><circle cx="706.5" cy="989.4" r="4.3"/><circle cx="718.1" cy="989.6" r="4.8"/><circle cx="728.5" cy="990.1" r="4.8"/><circle cx="740.5" cy="989.5" r="4.8"/><circle cx="749.9" cy="988.8" r="4.3"/><circle cx="762.1" cy="988.8" r="4.3"/><circle cx="772.7" cy="989.7" r="5.5"/><circle cx="783.0" cy="990.0" r="4.8"/><circle cx="793.4" cy="989.0" r="4.8"/><circle cx="805.0" cy="988.8" r="5.5"/><circle cx="816.5" cy="989.2" r="4.8"/><circle cx="483.0" cy="998.3" r="4.3"/><circle cx="494.7" cy="998.9" r="4.8"/><circle cx="505.6" cy="999.3" r="4.3"/><circle cx="516.7" cy="999.8" r="4.8"/><circle cx="527.4" cy="998.5" r="4.8"/><circle cx="538.0" cy="998.5" r="4.8"/><circle cx="548.2" cy="999.0" r="4.8"/><circle cx="560.2" cy="998.5" r="4.8"/><circle cx="570.4" cy="998.8" r="4.8"/><circle cx="582.0" cy="999.1" r="5.5"/><circle cx="592.7" cy="999.4" r="4.8"/><circle cx="603.3" cy="999.5" r="5.5"/><circle cx="615.0" cy="998.4" r="4.8"/><circle cx="625.9" cy="999.4" r="4.3"/><circle cx="635.6" cy="998.9" r="4.8"/><circle cx="647.3" cy="999.7" r="4.8"/><circle cx="657.8" cy="999.1" r="4.8"/><circle cx="669.5" cy="999.5" r="4.3"/><circle cx="680.5" cy="999.0" r="5.5"/><circle cx="690.9" cy="998.5" r="4.8"/><circle cx="701.9" cy="999.5" r="4.8"/><circle cx="712.7" cy="999.4" r="4.8"/><circle cx="722.9" cy="999.7" r="4.8"/><circle cx="735.0" cy="999.8" r="4.8"/><circle cx="745.2" cy="999.5" r="4.8"/><circle cx="755.8" cy="999.7" r="4.3"/><circle cx="767.5" cy="998.8" r="4.3"/><circle cx="777.2" cy="998.9" r="4.8"/><circle cx="788.8" cy="999.4" r="4.8"/><circle cx="799.6" cy="998.3" r="4.8"/><circle cx="811.0" cy="998.3" r="4.8"/><circle cx="821.9" cy="998.5" r="5.5"/><circle cx="477.8" cy="1008.9" r="4.3"/><circle cx="488.4" cy="1007.9" r="4.8"/><circle cx="499.9" cy="1008.8" r="5.5"/><circle cx="511.3" cy="1008.8" r="4.8"/><circle cx="522.4" cy="1008.4" r="4.8"/><circle cx="533.3" cy="1007.8" r="4.8"/><circle cx="543.1" cy="1008.5" r="4.8"/><circle cx="554.1" cy="1008.8" r="4.8"/><circle cx="565.5" cy="1008.5" r="4.3"/><circle cx="576.7" cy="1008.6" r="4.8"/><circle cx="586.8" cy="1008.3" r="4.3"/><circle cx="598.6" cy="1009.1" r="4.8"/><circle cx="608.4" cy="1009.0" r="4.8"/><circle cx="620.5" cy="1008.5" r="4.3"/><circle cx="630.8" cy="1008.0" r="4.3"/><circle cx="641.7" cy="1008.5" r="4.8"/><circle cx="652.7" cy="1007.7" r="5.5"/><circle cx="664.2" cy="1008.5" r="5.5"/><circle cx="674.1" cy="1008.9" r="5.5"/><circle cx="685.3" cy="1008.4" r="4.8"/><circle cx="696.4" cy="1007.8" r="4.8"/><circle cx="707.1" cy="1008.3" r="4.3"/><circle cx="718.6" cy="1009.1" r="4.8"/><circle cx="728.4" cy="1008.4" r="4.3"/><circle cx="739.1" cy="1008.4" r="4.8"/><circle cx="751.1" cy="1009.1" r="4.8"/><circle cx="761.5" cy="1008.2" r="5.5"/><circle cx="771.9" cy="1008.6" r="4.8"/><circle cx="784.0" cy="1007.9" r="4.3"/><circle cx="794.6" cy="1007.7" r="4.3"/><circle cx="804.6" cy="1008.0" r="4.3"/><circle cx="816.3" cy="1008.2" r="5.5"/><circle cx="483.3" cy="1018.1" r="4.3"/><circle cx="493.8" cy="1018.3" r="4.8"/><circle cx="504.7" cy="1017.9" r="5.5"/><circle cx="515.9" cy="1017.4" r="4.8"/><circle cx="527.2" cy="1017.8" r="4.8"/><circle cx="537.9" cy="1017.8" r="4.8"/><circle cx="549.0" cy="1017.4" r="5.5"/><circle cx="559.4" cy="1018.1" r="4.8"/><circle cx="571.0" cy="1017.9" r="4.8"/><circle cx="582.2" cy="1018.1" r="4.8"/><circle cx="593.1" cy="1017.5" r="4.8"/><circle cx="603.8" cy="1018.4" r="4.8"/><circle cx="615.0" cy="1017.6" r="4.3"/><circle cx="625.0" cy="1018.6" r="4.8"/><circle cx="635.7" cy="1018.7" r="4.3"/><circle cx="647.7" cy="1017.3" r="4.8"/><circle cx="657.5" cy="1018.3" r="4.8"/><circle cx="668.5" cy="1017.3" r="5.5"/><circle cx="680.3" cy="1017.8" r="5.5"/><circle cx="691.1" cy="1017.3" r="4.8"/><circle cx="701.4" cy="1018.2" r="4.8"/><circle cx="711.7" cy="1017.4" r="4.8"/><circle cx="723.6" cy="1018.6" r="4.8"/><circle cx="735.0" cy="1017.3" r="4.8"/><circle cx="745.2" cy="1018.3" r="4.3"/><circle cx="756.1" cy="1018.2" r="4.3"/><circle cx="766.5" cy="1017.2" r="4.8"/><circle cx="777.2" cy="1017.2" r="4.8"/><circle cx="788.8" cy="1017.9" r="4.8"/><circle cx="799.8" cy="1017.3" r="4.8"/><circle cx="810.0" cy="1017.4" r="5.5"/><circle cx="822.0" cy="1018.7" r="5.5"/><circle cx="478.8" cy="1026.7" r="4.8"/><circle cx="488.3" cy="1028.1" r="5.5"/><circle cx="499.8" cy="1027.8" r="5.5"/><circle cx="510.5" cy="1027.3" r="4.8"/><circle cx="521.7" cy="1027.2" r="4.3"/><circle cx="532.8" cy="1026.6" r="5.5"/><circle cx="543.8" cy="1027.9" r="4.3"/><circle cx="553.9" cy="1027.3" r="4.8"/><circle cx="565.7" cy="1027.2" r="4.8"/><circle cx="575.7" cy="1026.8" r="4.3"/><circle cx="587.1" cy="1026.6" r="5.5"/><circle cx="598.6" cy="1027.8" r="4.8"/><circle cx="609.2" cy="1027.9" r="4.8"/><circle cx="620.0" cy="1027.2" r="5.5"/><circle cx="630.9" cy="1027.3" r="4.8"/><circle cx="642.4" cy="1027.8" r="5.5"/><circle cx="652.1" cy="1028.0" r="4.8"/><circle cx="663.8" cy="1027.8" r="4.8"/><circle cx="674.8" cy="1027.2" r="4.3"/><circle cx="685.8" cy="1027.9" r="4.3"/><circle cx="696.4" cy="1027.8" r="4.8"/><circle cx="707.4" cy="1027.2" r="4.3"/><circle cx="718.3" cy="1026.7" r="4.8"/><circle cx="728.5" cy="1027.3" r="4.3"/><circle cx="738.9" cy="1027.1" r="4.8"/><circle cx="750.8" cy="1027.5" r="4.8"/><circle cx="761.1" cy="1028.0" r="4.8"/><circle cx="772.7" cy="1027.1" r="4.3"/><circle cx="783.6" cy="1027.4" r="5.5"/><circle cx="794.3" cy="1027.2" r="4.3"/><circle cx="805.9" cy="1027.6" r="4.3"/><circle cx="816.3" cy="1027.8" r="4.8"/><circle cx="484.3" cy="1036.0" r="4.8"/><circle cx="494.6" cy="1037.2" r="5.5"/><circle cx="505.0" cy="1036.6" r="4.8"/><circle cx="515.5" cy="1036.3" r="4.8"/><circle cx="527.0" cy="1036.1" r="4.8"/><circle cx="537.7" cy="1037.4" r="4.8"/><circle cx="549.0" cy="1036.8" r="5.5"/><circle cx="560.6" cy="1036.9" r="4.8"/><circle cx="571.5" cy="1037.0" r="4.8"/><circle cx="582.1" cy="1036.1" r="4.8"/><circle cx="592.7" cy="1037.2" r="5.5"/><circle cx="602.7" cy="1037.5" r="4.8"/><circle cx="613.8" cy="1036.7" r="4.3"/><circle cx="624.7" cy="1036.8" r="4.3"/><circle cx="636.3" cy="1036.1" r="5.5"/><circle cx="647.8" cy="1036.7" r="4.8"/><circle cx="658.0" cy="1036.9" r="4.8"/><circle cx="668.6" cy="1036.4" r="4.3"/><circle cx="680.0" cy="1036.9" r="5.5"/><circle cx="690.3" cy="1037.1" r="4.8"/><circle cx="701.2" cy="1036.0" r="4.8"/><circle cx="712.0" cy="1036.0" r="4.3"/><circle cx="722.8" cy="1037.2" r="4.8"/><circle cx="734.1" cy="1037.4" r="4.3"/><circle cx="745.5" cy="1036.1" r="4.8"/><circle cx="756.8" cy="1037.5" r="4.8"/><circle cx="766.3" cy="1037.4" r="5.5"/><circle cx="777.7" cy="1036.7" r="4.3"/><circle cx="789.5" cy="1036.4" r="4.8"/><circle cx="799.7" cy="1037.5" r="4.8"/><circle cx="810.9" cy="1036.7" r="4.8"/><circle cx="822.2" cy="1037.3" r="5.5"/><circle cx="478.3" cy="1045.6" r="4.8"/><circle cx="489.2" cy="1046.1" r="4.3"/><circle cx="499.4" cy="1045.5" r="4.8"/><circle cx="510.8" cy="1045.6" r="4.8"/><circle cx="521.6" cy="1046.5" r="4.3"/><circle cx="532.5" cy="1045.8" r="4.8"/><circle cx="543.6" cy="1046.1" r="5.5"/><circle cx="554.8" cy="1046.3" r="5.5"/><circle cx="566.1" cy="1046.9" r="4.8"/><circle cx="576.6" cy="1045.8" r="4.8"/><circle cx="586.5" cy="1046.8" r="4.8"/><circle cx="598.5" cy="1046.4" r="4.8"/><circle cx="608.7" cy="1045.9" r="4.3"/><circle cx="620.1" cy="1046.3" r="4.3"/><circle cx="630.8" cy="1046.4" r="4.8"/><circle cx="642.0" cy="1045.7" r="4.8"/><circle cx="652.1" cy="1047.0" r="4.8"/><circle cx="664.1" cy="1046.8" r="4.8"/><circle cx="673.6" cy="1045.5" r="4.8"/><circle cx="684.8" cy="1046.1" r="4.8"/><circle cx="696.3" cy="1045.6" r="4.8"/><circle cx="707.1" cy="1045.5" r="4.8"/><circle cx="717.2" cy="1046.5" r="4.8"/><circle cx="728.9" cy="1046.4" r="4.8"/><circle cx="739.5" cy="1046.2" r="5.5"/><circle cx="750.1" cy="1046.0" r="4.3"/><circle cx="761.9" cy="1046.8" r="4.8"/><circle cx="771.7" cy="1045.6" r="4.8"/><circle cx="783.8" cy="1046.4" r="5.5"/><circle cx="794.6" cy="1045.8" r="4.3"/><circle cx="805.0" cy="1045.8" r="4.8"/><circle cx="816.5" cy="1046.0" r="4.8"/><circle cx="483.8" cy="1056.4" r="5.5"/><circle cx="494.2" cy="1055.7" r="4.8"/><circle cx="505.7" cy="1056.3" r="4.8"/><circle cx="516.1" cy="1055.4" r="5.5"/><circle cx="526.5" cy="1056.3" r="4.8"/><circle cx="537.4" cy="1055.0" r="4.3"/><circle cx="549.1" cy="1055.6" r="4.8"/><circle cx="560.1" cy="1055.3" r="4.8"/><circle cx="571.2" cy="1055.0" r="4.8"/><circle cx="581.2" cy="1055.9" r="5.5"/><circle cx="591.9" cy="1055.3" r="5.5"/><circle cx="603.8" cy="1056.0" r="4.8"/><circle cx="614.0" cy="1055.1" r="4.8"/><circle cx="625.0" cy="1056.0" r="4.8"/><circle cx="635.9" cy="1055.0" r="4.8"/><circle cx="647.4" cy="1055.8" r="4.8"/><circle cx="658.6" cy="1056.4" r="5.5"/><circle cx="669.5" cy="1055.6" r="4.3"/><circle cx="680.2" cy="1055.3" r="5.5"/><circle cx="690.4" cy="1055.5" r="5.5"/><circle cx="702.2" cy="1056.3" r="4.8"/><circle cx="712.0" cy="1055.4" r="5.5"/><circle cx="723.1" cy="1055.4" r="4.8"/><circle cx="734.1" cy="1055.5" r="4.3"/><circle cx="744.7" cy="1055.8" r="4.8"/><circle cx="756.5" cy="1055.7" r="4.8"/><circle cx="767.5" cy="1055.8" r="4.8"/><circle cx="777.3" cy="1056.1" r="4.8"/><circle cx="789.4" cy="1055.3" r="4.3"/><circle cx="798.9" cy="1055.7" r="5.5"/><circle cx="810.6" cy="1055.8" r="4.8"/><circle cx="822.2" cy="1055.9" r="4.8"/><circle cx="478.6" cy="1064.4" r="4.8"/><circle cx="489.1" cy="1065.6" r="4.8"/><circle cx="499.2" cy="1064.4" r="4.8"/><circle cx="511.2" cy="1065.7" r="4.8"/><circle cx="521.0" cy="1065.3" r="4.3"/><circle cx="532.0" cy="1065.5" r="4.8"/><circle cx="543.7" cy="1064.7" r="5.5"/><circle cx="554.0" cy="1065.5" r="4.3"/><circle cx="565.3" cy="1065.5" r="4.8"/><circle cx="576.0" cy="1064.8" r="4.8"/><circle cx="587.8" cy="1065.4" r="4.3"/><circle cx="598.0" cy="1065.2" r="5.5"/><circle cx="609.3" cy="1065.4" r="4.8"/><circle cx="620.5" cy="1065.0" r="4.8"/><circle cx="631.2" cy="1065.4" r="5.5"/><circle cx="642.2" cy="1065.6" r="4.8"/><circle cx="653.0" cy="1065.7" r="4.8"/><circle cx="664.1" cy="1065.3" r="4.8"/><circle cx="674.3" cy="1065.4" r="5.5"/><circle cx="685.7" cy="1065.0" r="4.8"/><circle cx="696.0" cy="1064.5" r="5.5"/><circle cx="707.4" cy="1065.9" r="4.8"/><circle cx="717.7" cy="1064.6" r="4.3"/><circle cx="728.3" cy="1065.0" r="4.8"/><circle cx="739.4" cy="1065.8" r="5.5"/><circle cx="749.9" cy="1064.8" r="4.8"/><circle cx="760.9" cy="1065.3" r="5.5"/><circle cx="772.8" cy="1064.6" r="4.3"/><circle cx="782.6" cy="1065.0" r="4.8"/><circle cx="794.3" cy="1065.8" r="5.5"/><circle cx="804.4" cy="1064.5" r="4.8"/><circle cx="815.5" cy="1064.6" r="5.5"/><circle cx="483.1" cy="1074.9" r="4.8"/><circle cx="494.6" cy="1074.1" r="4.8"/><circle cx="504.8" cy="1074.2" r="4.8"/><circle cx="515.7" cy="1074.9" r="4.8"/><circle cx="526.8" cy="1074.6" r="4.8"/><circle cx="538.6" cy="1074.5" r="4.8"/><circle cx="548.6" cy="1075.2" r="4.8"/><circle cx="560.5" cy="1074.3" r="4.8"/><circle cx="570.8" cy="1075.3" r="4.3"/><circle cx="581.6" cy="1074.1" r="5.5"/><circle cx="591.8" cy="1075.3" r="4.3"/><circle cx="603.9" cy="1074.4" r="4.8"/><circle cx="614.4" cy="1074.6" r="4.8"/><circle cx="624.9" cy="1075.3" r="5.5"/><circle cx="636.4" cy="1074.1" r="5.5"/><circle cx="646.3" cy="1074.5" r="4.8"/><circle cx="657.7" cy="1075.0" r="5.5"/><circle cx="669.2" cy="1074.7" r="4.3"/><circle cx="679.2" cy="1074.0" r="4.8"/><circle cx="690.4" cy="1074.2" r="4.8"/><circle cx="702.1" cy="1074.6" r="4.8"/><circle cx="712.7" cy="1075.3" r="4.3"/><circle cx="723.0" cy="1074.6" r="4.3"/><circle cx="733.7" cy="1075.0" r="4.3"/><circle cx="744.4" cy="1075.1" r="4.8"/><circle cx="756.6" cy="1075.1" r="5.5"/><circle cx="766.3" cy="1074.2" r="4.8"/><circle cx="778.2" cy="1073.9" r="4.8"/><circle cx="788.7" cy="1074.5" r="4.8"/><circle cx="800.4" cy="1074.7" r="4.8"/><circle cx="811.1" cy="1074.2" r="4.8"/><circle cx="821.9" cy="1074.4" r="4.8"/><circle cx="478.8" cy="1083.3" r="4.8"/><circle cx="489.5" cy="1083.5" r="5.5"/><circle cx="500.0" cy="1084.0" r="5.5"/><circle cx="510.3" cy="1084.5" r="5.5"/><circle cx="521.4" cy="1083.7" r="4.3"/><circle cx="531.9" cy="1083.7" r="5.5"/><circle cx="543.4" cy="1084.3" r="4.8"/><circle cx="554.2" cy="1084.3" r="4.8"/><circle cx="564.7" cy="1083.8" r="4.8"/><circle cx="576.1" cy="1084.7" r="4.8"/><circle cx="587.6" cy="1084.2" r="4.8"/><circle cx="597.2" cy="1083.8" r="5.5"/><circle cx="609.2" cy="1083.6" r="4.8"/><circle cx="619.9" cy="1083.9" r="4.8"/><circle cx="629.9" cy="1084.8" r="4.8"/><circle cx="642.1" cy="1083.5" r="4.3"/><circle cx="652.7" cy="1083.6" r="4.3"/><circle cx="663.2" cy="1084.0" r="4.3"/><circle cx="674.0" cy="1083.7" r="4.3"/><circle cx="685.0" cy="1084.2" r="4.8"/><circle cx="695.7" cy="1083.5" r="4.8"/><circle cx="707.4" cy="1083.7" r="4.3"/><circle cx="718.6" cy="1084.1" r="4.8"/><circle cx="729.2" cy="1083.7" r="4.3"/><circle cx="740.2" cy="1083.3" r="5.5"/><circle cx="750.0" cy="1083.3" r="4.3"/><circle cx="761.8" cy="1084.3" r="4.8"/><circle cx="771.9" cy="1083.8" r="4.8"/><circle cx="783.8" cy="1084.1" r="4.8"/><circle cx="793.5" cy="1083.5" r="5.5"/><circle cx="804.6" cy="1083.4" r="4.8"/><circle cx="815.9" cy="1083.3" r="4.8"/><circle cx="484.2" cy="1093.3" r="4.8"/><circle cx="494.5" cy="1093.7" r="4.8"/><circle cx="505.8" cy="1093.9" r="4.8"/><circle cx="516.1" cy="1093.1" r="4.8"/><circle cx="527.0" cy="1092.6" r="4.3"/><circle cx="537.9" cy="1093.7" r="4.8"/><circle cx="549.7" cy="1093.9" r="5.5"/><circle cx="560.1" cy="1093.6" r="4.8"/><circle cx="570.0" cy="1093.1" r="5.5"/><circle cx="581.4" cy="1093.7" r="5.5"/><circle cx="591.9" cy="1093.2" r="4.8"/><circle cx="603.5" cy="1093.9" r="4.8"/><circle cx="614.9" cy="1093.6" r="5.5"/><circle cx="624.7" cy="1093.8" r="4.8"/><circle cx="636.8" cy="1093.5" r="5.5"/><circle cx="646.8" cy="1093.4" r="5.5"/><circle cx="657.4" cy="1093.8" r="4.8"/><circle cx="669.6" cy="1093.4" r="4.8"/><circle cx="680.1" cy="1094.0" r="4.8"/><circle cx="690.2" cy="1094.1" r="4.8"/><circle cx="701.8" cy="1092.9" r="4.8"/><circle cx="711.8" cy="1093.0" r="4.8"/><circle cx="723.5" cy="1093.7" r="4.8"/><circle cx="734.0" cy="1094.1" r="5.5"/><circle cx="744.9" cy="1093.4" r="4.8"/><circle cx="755.4" cy="1094.2" r="4.8"/><circle cx="766.4" cy="1094.1" r="4.8"/><circle cx="777.9" cy="1093.5" r="5.5"/><circle cx="788.8" cy="1093.0" r="4.8"/><circle cx="800.3" cy="1094.2" r="4.8"/><circle cx="811.1" cy="1093.6" r="4.8"/><circle cx="820.8" cy="1093.9" r="4.8"/><circle cx="477.8" cy="1103.5" r="4.8"/><circle cx="488.6" cy="1103.0" r="4.8"/><circle cx="500.4" cy="1102.4" r="4.3"/><circle cx="510.9" cy="1102.2" r="4.8"/><circle cx="521.0" cy="1102.3" r="4.8"/><circle cx="533.4" cy="1103.6" r="4.3"/><circle cx="543.8" cy="1102.5" r="4.3"/><circle cx="554.7" cy="1103.2" r="5.5"/><circle cx="565.1" cy="1103.0" r="5.5"/><circle cx="576.7" cy="1102.1" r="4.3"/><circle cx="586.6" cy="1102.8" r="4.3"/><circle cx="597.4" cy="1102.7" r="4.8"/><circle cx="609.0" cy="1102.3" r="4.3"/><circle cx="619.8" cy="1102.5" r="5.5"/><circle cx="630.8" cy="1102.6" r="4.8"/><circle cx="641.8" cy="1102.1" r="4.8"/><circle cx="652.8" cy="1102.3" r="5.5"/><circle cx="664.1" cy="1103.0" r="5.5"/><circle cx="674.3" cy="1102.7" r="4.8"/><circle cx="685.4" cy="1103.2" r="4.3"/><circle cx="696.5" cy="1103.3" r="4.3"/><circle cx="707.0" cy="1103.6" r="4.8"/><circle cx="718.4" cy="1103.4" r="4.3"/><circle cx="728.7" cy="1102.7" r="5.5"/><circle cx="739.8" cy="1103.5" r="4.8"/><circle cx="750.6" cy="1102.9" r="5.5"/><circle cx="761.4" cy="1103.5" r="4.8"/><circle cx="772.1" cy="1102.1" r="4.3"/><circle cx="783.7" cy="1103.5" r="4.8"/><circle cx="794.6" cy="1103.0" r="4.8"/><circle cx="805.5" cy="1102.5" r="4.3"/><circle cx="816.1" cy="1102.2" r="4.8"/><circle cx="482.9" cy="1112.2" r="4.8"/><circle cx="494.5" cy="1112.1" r="4.8"/><circle cx="504.6" cy="1112.6" r="5.5"/><circle cx="516.3" cy="1111.9" r="4.3"/><circle cx="526.8" cy="1112.1" r="4.8"/><circle cx="537.6" cy="1111.6" r="4.8"/><circle cx="549.6" cy="1113.0" r="4.8"/><circle cx="560.1" cy="1112.9" r="4.3"/><circle cx="570.6" cy="1112.8" r="4.8"/><circle cx="581.2" cy="1112.7" r="4.8"/><circle cx="592.7" cy="1112.9" r="4.8"/><circle cx="602.8" cy="1112.8" r="4.8"/><circle cx="613.7" cy="1112.4" r="4.3"/><circle cx="626.0" cy="1111.5" r="4.3"/><circle cx="635.7" cy="1112.0" r="4.8"/><circle cx="646.8" cy="1111.6" r="4.8"/><circle cx="658.6" cy="1112.8" r="4.8"/><circle cx="668.7" cy="1112.1" r="5.5"/><circle cx="679.9" cy="1111.6" r="4.8"/><circle cx="689.9" cy="1112.9" r="4.8"/><circle cx="701.2" cy="1112.3" r="4.8"/><circle cx="713.1" cy="1113.1" r="4.3"/><circle cx="723.3" cy="1111.8" r="4.8"/><circle cx="733.9" cy="1113.0" r="4.3"/><circle cx="745.8" cy="1111.8" r="4.8"/><circle cx="756.6" cy="1112.1" r="5.5"/><circle cx="766.9" cy="1111.8" r="4.8"/><circle cx="778.5" cy="1113.1" r="4.8"/><circle cx="788.3" cy="1112.5" r="5.5"/><circle cx="799.2" cy="1112.9" r="5.5"/><circle cx="809.8" cy="1111.7" r="4.8"/><circle cx="821.8" cy="1112.0" r="5.5"/><circle cx="478.7" cy="1122.3" r="4.8"/><circle cx="489.3" cy="1121.2" r="4.8"/><circle cx="500.2" cy="1122.4" r="4.8"/><circle cx="510.7" cy="1121.1" r="4.8"/><circle cx="521.3" cy="1121.4" r="5.5"/><circle cx="532.9" cy="1121.2" r="4.8"/><circle cx="543.0" cy="1121.3" r="4.8"/><circle cx="554.7" cy="1122.2" r="4.8"/><circle cx="565.1" cy="1122.0" r="5.5"/><circle cx="576.8" cy="1121.9" r="5.5"/><circle cx="586.7" cy="1121.4" r="5.5"/><circle cx="598.7" cy="1122.0" r="4.8"/><circle cx="608.5" cy="1122.0" r="4.8"/><circle cx="619.1" cy="1122.5" r="4.3"/><circle cx="630.6" cy="1121.8" r="4.8"/><circle cx="641.6" cy="1121.0" r="4.8"/><circle cx="652.7" cy="1121.4" r="4.8"/><circle cx="663.0" cy="1122.2" r="4.3"/><circle cx="673.6" cy="1121.4" r="4.3"/><circle cx="685.6" cy="1121.3" r="5.5"/><circle cx="695.7" cy="1121.8" r="4.8"/><circle cx="706.5" cy="1122.4" r="4.8"/><circle cx="718.7" cy="1121.0" r="5.5"/><circle cx="728.7" cy="1122.1" r="4.8"/><circle cx="739.5" cy="1122.4" r="4.8"/><circle cx="750.6" cy="1121.2" r="5.5"/><circle cx="761.6" cy="1122.0" r="4.8"/><circle cx="772.2" cy="1122.0" r="4.8"/><circle cx="783.8" cy="1121.8" r="4.8"/><circle cx="794.2" cy="1122.3" r="4.3"/><circle cx="805.4" cy="1121.8" r="4.8"/><circle cx="816.7" cy="1121.2" r="5.5"/><circle cx="484.0" cy="1130.6" r="5.5"/><circle cx="494.6" cy="1130.8" r="4.8"/><circle cx="505.3" cy="1131.6" r="5.5"/><circle cx="516.7" cy="1131.6" r="4.8"/><circle cx="526.7" cy="1131.2" r="4.3"/><circle cx="537.6" cy="1131.3" r="4.3"/><circle cx="548.9" cy="1130.4" r="4.8"/><circle cx="560.0" cy="1131.5" r="5.5"/><circle cx="570.9" cy="1131.8" r="4.8"/><circle cx="581.1" cy="1130.6" r="5.5"/><circle cx="591.8" cy="1131.2" r="4.8"/><circle cx="603.3" cy="1131.1" r="5.5"/><circle cx="614.0" cy="1131.7" r="5.5"/><circle cx="624.6" cy="1131.8" r="4.8"/><circle cx="636.3" cy="1131.2" r="4.3"/><circle cx="647.5" cy="1130.8" r="4.8"/><circle cx="657.4" cy="1130.9" r="5.5"/><circle cx="668.1" cy="1130.9" r="4.8"/><circle cx="679.9" cy="1131.2" r="4.3"/><circle cx="690.3" cy="1131.3" r="5.5"/><circle cx="700.9" cy="1131.7" r="4.3"/><circle cx="711.9" cy="1130.8" r="4.3"/><circle cx="722.8" cy="1131.5" r="4.8"/><circle cx="734.8" cy="1131.6" r="4.8"/><circle cx="744.4" cy="1131.0" r="4.3"/><circle cx="755.8" cy="1130.7" r="4.8"/><circle cx="767.7" cy="1130.4" r="5.5"/><circle cx="777.8" cy="1131.6" r="4.8"/><circle cx="789.5" cy="1130.6" r="5.5"/><circle cx="799.6" cy="1131.6" r="5.5"/><circle cx="809.8" cy="1130.8" r="5.5"/><circle cx="822.1" cy="1130.6" r="4.3"/><circle cx="477.9" cy="1140.3" r="5.5"/><circle cx="488.9" cy="1139.9" r="4.8"/><circle cx="499.2" cy="1141.4" r="4.3"/><circle cx="511.2" cy="1141.0" r="4.8"/><circle cx="521.3" cy="1140.2" r="4.8"/><circle cx="532.7" cy="1140.2" r="4.8"/><circle cx="543.4" cy="1141.3" r="4.8"/><circle cx="554.2" cy="1140.4" r="4.8"/><circle cx="566.1" cy="1140.8" r="5.5"/><circle cx="575.5" cy="1140.5" r="4.8"/><circle cx="587.3" cy="1139.9" r="5.5"/><circle cx="597.7" cy="1140.9" r="5.5"/><circle cx="609.5" cy="1140.8" r="4.3"/><circle cx="620.4" cy="1140.6" r="4.3"/><circle cx="630.5" cy="1141.2" r="4.8"/><circle cx="641.4" cy="1141.1" r="4.8"/><circle cx="652.0" cy="1140.4" r="5.5"/><circle cx="662.9" cy="1140.7" r="4.3"/><circle cx="673.8" cy="1140.1" r="4.8"/><circle cx="684.7" cy="1140.6" r="4.8"/><circle cx="695.8" cy="1140.5" r="4.8"/><circle cx="707.8" cy="1140.9" r="4.8"/><circle cx="718.5" cy="1140.1" r="5.5"/><circle cx="728.6" cy="1139.9" r="5.5"/><circle cx="740.0" cy="1140.4" r="4.3"/><circle cx="750.2" cy="1139.8" r="4.8"/><circle cx="761.0" cy="1140.2" r="4.8"/><circle cx="772.2" cy="1141.3" r="4.8"/><circle cx="783.6" cy="1140.2" r="4.8"/><circle cx="794.0" cy="1140.1" r="4.8"/><circle cx="805.8" cy="1140.4" r="4.3"/><circle cx="816.4" cy="1141.0" r="4.8"/><circle cx="484.2" cy="1149.3" r="4.3"/><circle cx="494.2" cy="1149.9" r="4.8"/><circle cx="504.7" cy="1150.7" r="4.8"/><circle cx="516.0" cy="1150.5" r="4.3"/><circle cx="527.2" cy="1149.3" r="4.8"/><circle cx="537.9" cy="1149.6" r="4.8"/><circle cx="548.2" cy="1149.5" r="4.8"/><circle cx="560.0" cy="1149.3" r="4.8"/><circle cx="570.4" cy="1149.9" r="4.8"/><circle cx="581.7" cy="1149.5" r="4.8"/><circle cx="592.9" cy="1149.7" r="4.3"/><circle cx="603.8" cy="1150.3" r="5.5"/><circle cx="613.8" cy="1149.6" r="4.3"/><circle cx="624.9" cy="1150.4" r="4.3"/><circle cx="636.0" cy="1149.9" r="5.5"/><circle cx="647.6" cy="1149.6" r="4.8"/><circle cx="657.6" cy="1149.8" r="4.8"/><circle cx="668.4" cy="1149.3" r="4.8"/><circle cx="679.0" cy="1150.3" r="4.8"/><circle cx="690.8" cy="1150.5" r="4.8"/><circle cx="702.3" cy="1149.7" r="4.8"/><circle cx="712.7" cy="1150.7" r="4.8"/><circle cx="722.9" cy="1150.4" r="4.3"/><circle cx="734.5" cy="1150.8" r="4.8"/><circle cx="745.7" cy="1149.6" r="5.5"/><circle cx="756.3" cy="1149.4" r="4.8"/><circle cx="766.8" cy="1149.9" r="4.8"/><circle cx="777.1" cy="1149.9" r="4.8"/><circle cx="788.5" cy="1150.0" r="4.3"/><circle cx="799.3" cy="1149.5" r="4.3"/><circle cx="810.4" cy="1150.0" r="4.8"/><circle cx="820.9" cy="1150.3" r="4.8"/><circle cx="477.7" cy="1158.8" r="4.8"/><circle cx="488.7" cy="1159.4" r="4.8"/><circle cx="499.3" cy="1159.6" r="4.8"/><circle cx="511.1" cy="1159.6" r="4.3"/><circle cx="522.0" cy="1158.7" r="4.8"/><circle cx="532.4" cy="1159.3" r="4.8"/><circle cx="542.8" cy="1159.3" r="4.8"/><circle cx="553.7" cy="1159.5" r="4.3"/><circle cx="565.4" cy="1159.4" r="4.3"/><circle cx="575.9" cy="1159.1" r="4.8"/><circle cx="586.3" cy="1159.2" r="4.8"/><circle cx="598.6" cy="1159.6" r="5.5"/><circle cx="608.5" cy="1159.8" r="4.8"/><circle cx="619.3" cy="1159.4" r="4.3"/><circle cx="630.9" cy="1160.2" r="5.5"/><circle cx="641.4" cy="1159.6" r="4.8"/><circle cx="653.2" cy="1159.9" r="4.3"/><circle cx="663.6" cy="1159.7" r="4.3"/><circle cx="674.2" cy="1159.4" r="4.3"/><circle cx="684.8" cy="1160.0" r="4.8"/><circle cx="696.7" cy="1159.3" r="5.5"/><circle cx="707.7" cy="1158.8" r="4.8"/><circle cx="717.3" cy="1159.5" r="5.5"/><circle cx="728.5" cy="1159.3" r="4.8"/><circle cx="740.5" cy="1158.9" r="4.8"/><circle cx="750.1" cy="1159.1" r="4.8"/><circle cx="761.8" cy="1159.1" r="5.5"/><circle cx="771.6" cy="1159.6" r="5.5"/><circle cx="783.1" cy="1159.1" r="4.8"/><circle cx="794.2" cy="1159.7" r="4.8"/><circle cx="805.2" cy="1159.7" r="5.5"/><circle cx="816.1" cy="1160.0" r="4.3"/><circle cx="484.3" cy="1168.7" r="4.8"/><circle cx="494.2" cy="1169.6" r="5.5"/><circle cx="505.1" cy="1169.3" r="4.8"/><circle cx="516.6" cy="1169.2" r="4.8"/><circle cx="527.9" cy="1169.5" r="4.8"/><circle cx="537.5" cy="1169.1" r="4.8"/><circle cx="548.9" cy="1169.0" r="4.3"/><circle cx="559.6" cy="1168.6" r="4.3"/><circle cx="571.1" cy="1169.0" r="5.5"/><circle cx="581.2" cy="1168.5" r="4.3"/><circle cx="592.3" cy="1168.4" r="4.8"/><circle cx="603.5" cy="1168.3" r="4.8"/><circle cx="613.7" cy="1168.2" r="4.8"/><circle cx="624.6" cy="1169.3" r="4.8"/><circle cx="635.5" cy="1168.9" r="4.8"/><circle cx="647.5" cy="1168.9" r="4.8"/><circle cx="657.4" cy="1169.5" r="5.5"/><circle cx="669.4" cy="1168.2" r="4.8"/><circle cx="679.4" cy="1168.9" r="4.8"/><circle cx="691.1" cy="1168.8" r="4.8"/><circle cx="701.9" cy="1168.5" r="4.3"/><circle cx="712.8" cy="1168.7" r="4.8"/><circle cx="723.1" cy="1169.3" r="4.3"/><circle cx="734.8" cy="1169.5" r="4.8"/><circle cx="745.3" cy="1168.8" r="4.8"/><circle cx="756.4" cy="1169.1" r="4.8"/><circle cx="767.5" cy="1169.4" r="5.5"/><circle cx="777.3" cy="1168.7" r="4.3"/><circle cx="789.0" cy="1168.5" r="4.3"/><circle cx="799.1" cy="1168.2" r="4.8"/><circle cx="810.7" cy="1169.6" r="4.8"/><circle cx="822.2" cy="1168.3" r="4.8"/><circle cx="478.4" cy="1178.2" r="4.3"/><circle cx="489.2" cy="1178.2" r="4.3"/><circle cx="500.6" cy="1179.2" r="4.8"/><circle cx="510.1" cy="1178.7" r="4.8"/><circle cx="521.1" cy="1177.6" r="5.5"/><circle cx="532.3" cy="1178.7" r="4.3"/><circle cx="544.3" cy="1177.8" r="5.5"/><circle cx="554.1" cy="1177.6" r="4.3"/><circle cx="565.4" cy="1178.3" r="4.8"/><circle cx="576.0" cy="1178.1" r="4.8"/><circle cx="587.6" cy="1178.9" r="4.8"/><circle cx="597.7" cy="1178.2" r="4.8"/><circle cx="609.1" cy="1178.8" r="4.8"/><circle cx="620.6" cy="1178.2" r="4.3"/><circle cx="631.0" cy="1178.4" r="4.8"/><circle cx="642.1" cy="1177.8" r="4.8"/><circle cx="652.0" cy="1177.7" r="4.3"/><circle cx="664.1" cy="1178.0" r="5.5"/><circle cx="674.3" cy="1177.8" r="4.8"/><circle cx="684.9" cy="1177.6" r="4.3"/><circle cx="696.2" cy="1177.8" r="4.8"/><circle cx="707.2" cy="1178.0" r="5.5"/><circle cx="717.5" cy="1178.3" r="4.8"/><circle cx="728.6" cy="1178.0" r="4.8"/><circle cx="739.0" cy="1177.7" r="4.8"/><circle cx="751.2" cy="1178.1" r="4.8"/><circle cx="760.8" cy="1177.9" r="5.5"/><circle cx="772.4" cy="1179.2" r="5.5"/><circle cx="782.8" cy="1179.0" r="4.3"/><circle cx="794.2" cy="1178.2" r="4.8"/><circle cx="805.6" cy="1178.2" r="4.3"/><circle cx="815.3" cy="1178.5" r="4.8"/><circle cx="483.8" cy="1188.0" r="4.8"/><circle cx="494.1" cy="1188.5" r="4.3"/><circle cx="505.9" cy="1188.6" r="5.5"/><circle cx="516.2" cy="1188.3" r="4.3"/><circle cx="527.5" cy="1187.3" r="4.8"/><circle cx="537.3" cy="1187.3" r="4.8"/><circle cx="548.3" cy="1187.1" r="4.3"/><circle cx="559.6" cy="1188.2" r="4.8"/><circle cx="570.4" cy="1187.8" r="5.5"/><circle cx="580.9" cy="1187.3" r="4.8"/><circle cx="593.3" cy="1187.0" r="4.8"/><circle cx="603.5" cy="1188.3" r="5.5"/><circle cx="614.8" cy="1188.2" r="4.8"/><circle cx="625.1" cy="1188.3" r="4.8"/><circle cx="636.7" cy="1188.2" r="4.8"/><circle cx="647.8" cy="1187.2" r="4.8"/><circle cx="658.7" cy="1187.7" r="4.8"/><circle cx="669.2" cy="1187.4" r="4.3"/><circle cx="680.4" cy="1187.1" r="4.3"/><circle cx="690.8" cy="1187.4" r="4.8"/><circle cx="701.4" cy="1187.6" r="4.8"/><circle cx="712.7" cy="1188.3" r="4.8"/><circle cx="723.1" cy="1188.0" r="4.8"/><circle cx="734.0" cy="1187.5" r="4.8"/><circle cx="745.8" cy="1187.5" r="4.3"/><circle cx="755.4" cy="1187.5" r="4.8"/><circle cx="767.3" cy="1187.4" r="4.8"/><circle cx="778.2" cy="1187.9" r="4.8"/><circle cx="789.0" cy="1187.3" r="4.8"/><circle cx="799.0" cy="1187.2" r="4.3"/><circle cx="810.3" cy="1187.7" r="5.5"/><circle cx="820.7" cy="1187.8" r="4.3"/><circle cx="477.9" cy="1197.0" r="4.8"/><circle cx="489.1" cy="1198.0" r="4.8"/><circle cx="499.4" cy="1197.9" r="5.5"/><circle cx="510.5" cy="1197.7" r="5.5"/><circle cx="521.1" cy="1198.0" r="5.5"/><circle cx="532.5" cy="1198.0" r="5.5"/><circle cx="543.1" cy="1197.1" r="4.8"/><circle cx="554.7" cy="1196.7" r="4.8"/><circle cx="564.9" cy="1197.5" r="4.8"/><circle cx="576.9" cy="1197.0" r="4.8"/><circle cx="586.6" cy="1197.0" r="5.5"/><circle cx="598.8" cy="1196.7" r="4.8"/><circle cx="609.1" cy="1197.1" r="4.8"/><circle cx="620.0" cy="1196.8" r="4.8"/><circle cx="630.9" cy="1197.9" r="4.8"/><circle cx="642.2" cy="1197.5" r="5.5"/><circle cx="652.5" cy="1197.4" r="4.3"/><circle cx="662.8" cy="1197.8" r="4.8"/><circle cx="674.6" cy="1197.2" r="4.3"/><circle cx="685.5" cy="1197.1" r="4.8"/><circle cx="695.9" cy="1196.8" r="5.5"/><circle cx="707.2" cy="1197.4" r="4.8"/><circle cx="717.9" cy="1196.5" r="4.8"/><circle cx="729.0" cy="1197.2" r="4.8"/><circle cx="739.8" cy="1197.4" r="5.5"/><circle cx="751.3" cy="1196.7" r="4.8"/><circle cx="761.4" cy="1198.0" r="4.8"/><circle cx="772.8" cy="1197.0" r="4.8"/><circle cx="783.7" cy="1198.0" r="4.8"/><circle cx="794.0" cy="1197.8" r="4.3"/><circle cx="804.5" cy="1198.0" r="4.8"/><circle cx="816.0" cy="1196.8" r="4.8"/><circle cx="484.1" cy="1206.9" r="4.8"/><circle cx="495.2" cy="1207.2" r="5.5"/><circle cx="505.8" cy="1206.7" r="5.5"/><circle cx="517.0" cy="1206.0" r="4.8"/><circle cx="527.7" cy="1207.0" r="5.5"/><circle cx="537.7" cy="1207.2" r="4.8"/><circle cx="548.9" cy="1206.8" r="4.8"/><circle cx="560.4" cy="1206.2" r="4.8"/><circle cx="570.4" cy="1206.9" r="5.5"/><circle cx="581.0" cy="1206.8" r="5.5"/><circle cx="593.0" cy="1206.7" r="4.8"/><circle cx="603.0" cy="1207.2" r="4.3"/><circle cx="614.9" cy="1207.1" r="4.3"/><circle cx="625.3" cy="1207.3" r="4.3"/><circle cx="636.6" cy="1206.1" r="4.3"/><circle cx="646.8" cy="1206.1" r="4.8"/><circle cx="657.2" cy="1206.4" r="4.8"/><circle cx="669.4" cy="1207.2" r="4.8"/><circle cx="679.1" cy="1206.2" r="5.5"/><circle cx="690.5" cy="1207.3" r="4.3"/><circle cx="701.7" cy="1207.3" r="4.3"/><circle cx="711.8" cy="1207.5" r="4.8"/><circle cx="722.9" cy="1206.9" r="4.8"/><circle cx="734.9" cy="1207.1" r="4.8"/><circle cx="744.7" cy="1207.0" r="4.8"/><circle cx="755.9" cy="1205.9" r="4.8"/><circle cx="766.7" cy="1206.4" r="4.8"/><circle cx="778.1" cy="1206.3" r="4.8"/><circle cx="788.9" cy="1207.0" r="4.8"/><circle cx="799.1" cy="1206.1" r="4.8"/><circle cx="810.9" cy="1206.6" r="5.5"/><circle cx="820.9" cy="1206.1" r="4.8"/><circle cx="478.8" cy="1216.3" r="4.8"/><circle cx="488.8" cy="1215.6" r="4.8"/><circle cx="500.7" cy="1216.4" r="4.8"/><circle cx="511.2" cy="1215.9" r="5.5"/><circle cx="521.4" cy="1216.0" r="5.5"/><circle cx="532.0" cy="1216.3" r="4.8"/><circle cx="543.4" cy="1216.6" r="4.8"/><circle cx="554.3" cy="1216.1" r="4.8"/><circle cx="565.3" cy="1216.8" r="5.5"/><circle cx="576.0" cy="1216.5" r="5.5"/><circle cx="586.7" cy="1216.3" r="4.8"/><circle cx="597.7" cy="1216.7" r="4.3"/><circle cx="608.6" cy="1216.7" r="4.8"/><circle cx="620.1" cy="1216.1" r="4.8"/><circle cx="631.4" cy="1216.0" r="4.8"/><circle cx="642.0" cy="1216.3" r="5.5"/><circle cx="652.4" cy="1215.4" r="4.8"/><circle cx="663.3" cy="1215.8" r="5.5"/><circle cx="674.2" cy="1216.9" r="4.8"/><circle cx="684.9" cy="1216.4" r="4.3"/><circle cx="696.4" cy="1215.7" r="4.8"/><circle cx="706.9" cy="1215.5" r="4.3"/><circle cx="718.5" cy="1215.7" r="4.3"/><circle cx="728.7" cy="1215.9" r="4.8"/><circle cx="740.2" cy="1216.7" r="4.8"/><circle cx="750.7" cy="1216.2" r="4.8"/><circle cx="760.9" cy="1216.8" r="4.8"/><circle cx="771.7" cy="1215.9" r="5.5"/><circle cx="783.1" cy="1216.5" r="4.8"/><circle cx="794.5" cy="1215.9" r="4.8"/><circle cx="805.7" cy="1216.9" r="4.3"/><circle cx="815.2" cy="1216.3" r="4.3"/><circle cx="483.5" cy="1225.4" r="4.3"/><circle cx="494.4" cy="1225.3" r="4.8"/><circle cx="505.6" cy="1225.7" r="4.8"/><circle cx="517.0" cy="1226.3" r="4.3"/><circle cx="527.9" cy="1225.4" r="4.3"/><circle cx="538.6" cy="1225.8" r="5.5"/><circle cx="549.3" cy="1226.4" r="4.8"/><circle cx="559.2" cy="1225.5" r="4.3"/><circle cx="570.6" cy="1225.8" r="4.8"/><circle cx="581.2" cy="1226.4" r="5.5"/><circle cx="592.1" cy="1225.4" r="4.8"/><circle cx="602.9" cy="1225.4" r="4.8"/><circle cx="614.7" cy="1224.9" r="4.3"/><circle cx="624.7" cy="1225.8" r="5.5"/><circle cx="636.3" cy="1226.0" r="4.8"/><circle cx="646.7" cy="1226.1" r="4.3"/><circle cx="658.3" cy="1226.0" r="4.8"/><circle cx="668.2" cy="1225.5" r="4.8"/><circle cx="679.0" cy="1226.1" r="4.8"/><circle cx="691.4" cy="1226.2" r="5.5"/><circle cx="700.8" cy="1225.3" r="5.5"/><circle cx="712.5" cy="1225.6" r="4.8"/><circle cx="722.7" cy="1226.0" r="4.3"/><circle cx="733.9" cy="1225.6" r="5.5"/><circle cx="744.5" cy="1225.7" r="4.8"/><circle cx="755.5" cy="1224.9" r="4.8"/><circle cx="767.0" cy="1225.2" r="4.8"/><circle cx="778.3" cy="1225.2" r="4.8"/><circle cx="788.6" cy="1224.9" r="4.8"/><circle cx="799.2" cy="1225.5" r="4.8"/><circle cx="810.6" cy="1225.5" r="4.8"/><circle cx="822.0" cy="1224.9" r="4.3"/><circle cx="478.7" cy="1234.5" r="4.8"/><circle cx="489.8" cy="1235.1" r="4.8"/><circle cx="499.8" cy="1235.2" r="4.8"/><circle cx="511.4" cy="1235.8" r="4.8"/><circle cx="521.6" cy="1234.2" r="5.5"/><circle cx="532.0" cy="1235.5" r="5.5"/><circle cx="543.9" cy="1235.4" r="4.8"/><circle cx="553.9" cy="1235.1" r="5.5"/><circle cx="564.5" cy="1234.4" r="4.8"/><circle cx="575.9" cy="1235.8" r="4.3"/><circle cx="587.3" cy="1235.6" r="5.5"/><circle cx="597.3" cy="1234.9" r="4.8"/><circle cx="608.2" cy="1234.6" r="4.8"/><circle cx="619.2" cy="1235.7" r="5.5"/><circle cx="630.4" cy="1235.0" r="4.8"/><circle cx="641.8" cy="1235.6" r="4.3"/><circle cx="653.2" cy="1235.1" r="4.8"/><circle cx="663.4" cy="1235.7" r="4.3"/><circle cx="674.1" cy="1234.7" r="4.8"/><circle cx="685.6" cy="1234.6" r="5.5"/><circle cx="695.9" cy="1234.9" r="5.5"/><circle cx="707.0" cy="1234.8" r="4.8"/><circle cx="717.8" cy="1234.9" r="4.8"/><circle cx="728.1" cy="1235.5" r="4.8"/><circle cx="739.0" cy="1235.1" r="4.8"/><circle cx="750.7" cy="1234.9" r="4.8"/><circle cx="761.1" cy="1234.4" r="4.8"/><circle cx="772.2" cy="1234.7" r="4.8"/><circle cx="783.3" cy="1234.6" r="4.3"/><circle cx="794.6" cy="1235.0" r="4.3"/><circle cx="804.3" cy="1234.9" r="4.3"/><circle cx="816.7" cy="1234.2" r="4.8"/><circle cx="483.7" cy="1245.2" r="5.5"/><circle cx="494.2" cy="1244.6" r="4.3"/><circle cx="505.1" cy="1244.1" r="4.8"/><circle cx="516.4" cy="1244.6" r="4.8"/><circle cx="526.9" cy="1244.4" r="4.8"/><circle cx="538.1" cy="1244.9" r="5.5"/><circle cx="548.2" cy="1243.8" r="4.8"/><circle cx="559.5" cy="1244.1" r="4.3"/><circle cx="571.2" cy="1244.3" r="5.5"/><circle cx="582.2" cy="1244.3" r="4.8"/><circle cx="592.2" cy="1244.7" r="4.8"/><circle cx="602.8" cy="1245.2" r="4.8"/><circle cx="614.9" cy="1244.2" r="4.8"/><circle cx="625.0" cy="1245.0" r="4.8"/><circle cx="636.6" cy="1244.7" r="4.8"/><circle cx="646.3" cy="1244.9" r="4.8"/><circle cx="657.2" cy="1244.7" r="4.8"/><circle cx="668.9" cy="1245.1" r="4.3"/><circle cx="680.0" cy="1243.7" r="4.3"/><circle cx="691.3" cy="1244.9" r="4.8"/><circle cx="701.7" cy="1243.7" r="4.8"/><circle cx="712.8" cy="1244.3" r="4.8"/><circle cx="723.6" cy="1245.2" r="4.8"/><circle cx="734.9" cy="1243.8" r="4.8"/><circle cx="745.6" cy="1244.4" r="4.8"/><circle cx="756.5" cy="1244.3" r="4.3"/><circle cx="766.9" cy="1244.3" r="4.3"/><circle cx="777.2" cy="1244.2" r="5.5"/><circle cx="789.1" cy="1243.8" r="4.8"/><circle cx="799.0" cy="1245.0" r="4.8"/><circle cx="810.8" cy="1244.5" r="4.8"/><circle cx="820.8" cy="1243.8" r="4.8"/><circle cx="477.8" cy="1254.6" r="4.8"/><circle cx="489.1" cy="1254.6" r="5.5"/><circle cx="499.4" cy="1253.8" r="4.3"/><circle cx="510.9" cy="1254.4" r="4.8"/><circle cx="521.1" cy="1254.5" r="4.3"/><circle cx="532.6" cy="1253.1" r="4.8"/><circle cx="543.4" cy="1253.7" r="4.8"/><circle cx="554.7" cy="1254.6" r="4.8"/><circle cx="565.3" cy="1254.2" r="4.3"/><circle cx="576.0" cy="1254.3" r="4.3"/><circle cx="586.5" cy="1254.3" r="5.5"/><circle cx="597.5" cy="1254.0" r="4.3"/><circle cx="608.4" cy="1253.6" r="4.8"/><circle cx="619.3" cy="1253.6" r="4.8"/><circle cx="630.8" cy="1253.9" r="4.8"/><circle cx="641.4" cy="1254.0" r="4.8"/><circle cx="653.0" cy="1253.7" r="4.3"/><circle cx="663.5" cy="1253.9" r="5.5"/><circle cx="675.1" cy="1253.6" r="4.8"/><circle cx="685.5" cy="1253.5" r="4.8"/><circle cx="695.7" cy="1254.3" r="4.8"/><circle cx="707.1" cy="1253.5" r="4.8"/><circle cx="717.2" cy="1254.4" r="4.8"/><circle cx="728.6" cy="1254.2" r="4.8"/><circle cx="739.6" cy="1254.1" r="4.8"/><circle cx="750.7" cy="1254.7" r="4.3"/><circle cx="762.2" cy="1253.8" r="4.8"/><circle cx="772.4" cy="1253.5" r="4.8"/><circle cx="783.7" cy="1253.3" r="4.8"/><circle cx="793.9" cy="1254.4" r="5.5"/><circle cx="804.4" cy="1254.2" r="4.8"/><circle cx="816.1" cy="1254.0" r="4.8"/><circle cx="483.3" cy="1262.8" r="4.3"/><circle cx="495.2" cy="1263.8" r="4.8"/><circle cx="505.8" cy="1262.7" r="4.3"/><circle cx="516.7" cy="1262.9" r="5.5"/><circle cx="526.7" cy="1263.4" r="4.8"/><circle cx="538.2" cy="1262.7" r="4.8"/><circle cx="549.4" cy="1263.5" r="5.5"/><circle cx="560.5" cy="1264.0" r="5.5"/><circle cx="571.1" cy="1263.1" r="5.5"/><circle cx="582.4" cy="1263.7" r="4.8"/><circle cx="592.2" cy="1263.9" r="4.8"/><circle cx="603.8" cy="1263.0" r="4.8"/><circle cx="613.9" cy="1262.6" r="5.5"/><circle cx="625.3" cy="1262.9" r="5.5"/><circle cx="635.8" cy="1262.9" r="4.8"/><circle cx="646.5" cy="1263.3" r="4.8"/><circle cx="657.6" cy="1263.0" r="5.5"/><circle cx="668.5" cy="1263.3" r="4.8"/><circle cx="680.3" cy="1262.8" r="4.8"/><circle cx="691.2" cy="1263.9" r="4.8"/><circle cx="701.7" cy="1263.4" r="4.8"/><circle cx="712.8" cy="1263.4" r="4.8"/><circle cx="723.6" cy="1264.0" r="4.8"/><circle cx="734.7" cy="1262.9" r="4.3"/><circle cx="744.4" cy="1264.0" r="4.3"/><circle cx="755.8" cy="1263.8" r="5.5"/><circle cx="766.5" cy="1263.3" r="4.3"/><circle cx="777.6" cy="1263.7" r="4.8"/><circle cx="789.5" cy="1263.3" r="4.8"/><circle cx="799.8" cy="1263.1" r="4.8"/><circle cx="810.1" cy="1264.0" r="4.8"/><circle cx="820.8" cy="1264.0" r="4.8"/><circle cx="478.4" cy="1272.1" r="4.8"/><circle cx="489.6" cy="1272.1" r="4.8"/><circle cx="500.0" cy="1272.2" r="4.8"/><circle cx="511.6" cy="1272.5" r="4.8"/><circle cx="522.3" cy="1272.1" r="4.3"/><circle cx="532.9" cy="1272.1" r="4.8"/><circle cx="542.7" cy="1272.9" r="4.8"/><circle cx="555.2" cy="1273.1" r="5.5"/><circle cx="565.9" cy="1273.2" r="5.5"/><circle cx="576.2" cy="1272.1" r="4.8"/><circle cx="587.1" cy="1272.3" r="4.8"/><circle cx="598.0" cy="1272.5" r="4.3"/><circle cx="608.9" cy="1272.3" r="5.5"/><circle cx="620.1" cy="1272.6" r="5.5"/><circle cx="630.7" cy="1272.1" r="5.5"/><circle cx="641.6" cy="1272.9" r="5.5"/><circle cx="653.3" cy="1272.9" r="5.5"/><circle cx="662.8" cy="1272.5" r="4.8"/><circle cx="674.0" cy="1273.1" r="4.8"/><circle cx="685.9" cy="1273.5" r="4.8"/><circle cx="696.8" cy="1273.5" r="4.8"/><circle cx="707.6" cy="1273.5" r="4.8"/><circle cx="717.1" cy="1272.8" r="4.8"/><circle cx="728.9" cy="1273.1" r="4.3"/><circle cx="739.9" cy="1273.0" r="4.8"/><circle cx="751.3" cy="1272.1" r="4.8"/><circle cx="761.5" cy="1273.5" r="4.8"/><circle cx="771.7" cy="1272.1" r="4.8"/><circle cx="783.9" cy="1273.5" r="5.5"/><circle cx="793.4" cy="1272.0" r="4.8"/><circle cx="805.6" cy="1273.1" r="4.8"/><circle cx="816.0" cy="1272.9" r="4.8"/><circle cx="484.0" cy="1282.7" r="4.8"/><circle cx="493.7" cy="1281.5" r="4.3"/><circle cx="505.8" cy="1283.0" r="4.8"/><circle cx="516.8" cy="1282.1" r="4.8"/><circle cx="526.9" cy="1282.0" r="4.8"/><circle cx="537.3" cy="1282.6" r="5.5"/><circle cx="548.6" cy="1282.3" r="4.3"/><circle cx="559.9" cy="1281.9" r="4.8"/><circle cx="571.0" cy="1282.1" r="4.8"/><circle cx="581.2" cy="1282.8" r="5.5"/><circle cx="592.0" cy="1281.6" r="4.8"/><circle cx="603.1" cy="1282.2" r="4.3"/><circle cx="614.8" cy="1281.9" r="4.8"/><circle cx="624.8" cy="1282.5" r="5.5"/><circle cx="635.8" cy="1282.2" r="4.3"/><circle cx="646.7" cy="1282.8" r="5.5"/><circle cx="657.4" cy="1281.8" r="4.8"/><circle cx="668.5" cy="1281.9" r="4.8"/><circle cx="680.1" cy="1282.5" r="4.8"/><circle cx="691.1" cy="1282.3" r="4.3"/><circle cx="700.9" cy="1282.6" r="4.3"/><circle cx="712.0" cy="1281.8" r="4.8"/><circle cx="723.2" cy="1283.0" r="4.8"/><circle cx="734.0" cy="1282.0" r="4.8"/><circle cx="745.8" cy="1283.0" r="4.8"/><circle cx="755.9" cy="1281.6" r="4.8"/><circle cx="767.4" cy="1282.7" r="4.8"/><circle cx="777.6" cy="1282.7" r="4.8"/><circle cx="788.6" cy="1281.9" r="4.8"/><circle cx="799.8" cy="1282.6" r="4.3"/><circle cx="810.5" cy="1282.7" r="4.8"/><circle cx="820.7" cy="1282.2" r="5.5"/><circle cx="477.9" cy="1291.0" r="4.8"/><circle cx="489.7" cy="1291.1" r="4.8"/><circle cx="499.4" cy="1292.3" r="4.8"/><circle cx="511.5" cy="1292.3" r="4.3"/><circle cx="521.4" cy="1292.3" r="4.3"/><circle cx="532.0" cy="1292.0" r="4.8"/><circle cx="544.2" cy="1291.2" r="4.3"/><circle cx="553.8" cy="1291.9" r="4.3"/><circle cx="565.9" cy="1292.0" r="5.5"/><circle cx="576.9" cy="1291.6" r="5.5"/><circle cx="586.9" cy="1291.0" r="4.3"/><circle cx="597.6" cy="1292.4" r="4.8"/><circle cx="608.2" cy="1291.1" r="4.8"/><circle cx="619.6" cy="1290.9" r="4.8"/><circle cx="630.4" cy="1291.1" r="5.5"/><circle cx="641.0" cy="1291.7" r="4.8"/><circle cx="652.6" cy="1291.8" r="4.8"/><circle cx="663.8" cy="1291.7" r="4.8"/><circle cx="675.0" cy="1291.0" r="4.3"/><circle cx="684.8" cy="1291.0" r="5.5"/><circle cx="695.8" cy="1292.1" r="4.8"/><circle cx="707.7" cy="1291.7" r="4.8"/><circle cx="717.4" cy="1291.4" r="4.8"/><circle cx="728.9" cy="1291.3" r="4.8"/><circle cx="740.2" cy="1292.4" r="4.8"/><circle cx="750.5" cy="1291.8" r="4.8"/><circle cx="762.1" cy="1291.6" r="5.5"/><circle cx="771.9" cy="1292.4" r="5.5"/><circle cx="784.1" cy="1290.9" r="4.3"/><circle cx="794.6" cy="1291.5" r="4.8"/><circle cx="804.4" cy="1291.1" r="4.8"/><circle cx="815.5" cy="1292.0" r="4.3"/></g>
<g fill="#dedede" filter="url(#b06)"><circle cx="489.0" cy="964.2" r="1.7" opacity="0.50"/><circle cx="483.1" cy="967.2" r="1.0" opacity="0.30"/><circle cx="500.3" cy="964.3" r="1.0" opacity="0.10"/><circle cx="494.6" cy="967.1" r="1.0" opacity="0.10"/><circle cx="510.7" cy="964.4" r="1.0" opacity="0.20"/><circle cx="505.5" cy="967.4" r="2.0" opacity="0.90"/><circle cx="521.4" cy="964.7" r="2.3" opacity="1.00"/><circle cx="515.9" cy="967.7" r="1.0" opacity="0.20"/><circle cx="532.3" cy="964.5" r="1.0" opacity="0.20"/><circle cx="526.9" cy="967.9" r="1.0" opacity="0.10"/><circle cx="542.9" cy="964.4" r="1.0" opacity="0.20"/><circle cx="537.4" cy="967.5" r="2.1" opacity="1.00"/><circle cx="554.1" cy="964.2" r="1.7" opacity="0.90"/><circle cx="548.4" cy="967.6" r="1.0" opacity="0.30"/><circle cx="565.9" cy="964.6" r="1.0" opacity="0.10"/><circle cx="560.1" cy="967.3" r="1.0" opacity="0.10"/><circle cx="576.4" cy="964.9" r="1.0" opacity="0.30"/><circle cx="571.2" cy="968.2" r="2.0" opacity="1.00"/><circle cx="586.8" cy="964.2" r="2.2" opacity="1.00"/><circle cx="581.5" cy="967.8" r="1.0" opacity="0.30"/><circle cx="598.0" cy="964.0" r="1.0" opacity="0.20"/><circle cx="592.4" cy="967.3" r="1.0" opacity="0.10"/><circle cx="608.5" cy="964.3" r="1.0" opacity="0.10"/><circle cx="603.4" cy="967.7" r="2.1" opacity="0.70"/><circle cx="619.2" cy="964.1" r="2.3" opacity="0.90"/><circle cx="613.8" cy="967.5" r="1.0" opacity="0.10"/><circle cx="630.6" cy="964.5" r="1.0" opacity="0.20"/><circle cx="625.0" cy="967.3" r="1.0" opacity="0.10"/><circle cx="641.5" cy="964.4" r="1.0" opacity="0.20"/><circle cx="636.2" cy="967.4" r="1.7" opacity="1.00"/><circle cx="652.3" cy="964.6" r="1.8" opacity="1.00"/><circle cx="646.7" cy="967.4" r="1.0" opacity="0.20"/><circle cx="663.2" cy="964.4" r="1.0" opacity="0.10"/><circle cx="657.6" cy="967.7" r="1.0" opacity="0.20"/><circle cx="674.5" cy="964.5" r="1.0" opacity="0.20"/><circle cx="668.6" cy="967.5" r="1.6" opacity="1.00"/><circle cx="685.9" cy="964.8" r="1.9" opacity="0.70"/><circle cx="680.2" cy="967.8" r="1.0" opacity="0.10"/><circle cx="696.2" cy="964.6" r="1.0" opacity="0.20"/><circle cx="691.1" cy="967.9" r="1.0" opacity="0.20"/><circle cx="706.6" cy="963.8" r="1.0" opacity="0.30"/><circle cx="701.3" cy="967.4" r="2.1" opacity="1.00"/><circle cx="718.1" cy="964.3" r="2.1" opacity="0.70"/><circle cx="712.4" cy="967.3" r="1.0" opacity="0.20"/><circle cx="729.0" cy="964.1" r="1.0" opacity="0.20"/><circle cx="723.6" cy="967.5" r="1.0" opacity="0.30"/><circle cx="740.3" cy="964.8" r="1.0" opacity="0.30"/><circle cx="734.4" cy="967.6" r="1.7" opacity="1.00"/><circle cx="750.4" cy="964.7" r="1.6" opacity="0.50"/><circle cx="745.4" cy="968.2" r="1.0" opacity="0.30"/><circle cx="761.7" cy="964.3" r="1.0" opacity="0.20"/><circle cx="755.8" cy="967.7" r="1.0" opacity="0.10"/><circle cx="772.8" cy="964.1" r="1.0" opacity="0.30"/><circle cx="767.3" cy="967.4" r="1.7" opacity="0.70"/><circle cx="783.1" cy="964.7" r="2.0" opacity="1.00"/><circle cx="777.8" cy="967.5" r="1.0" opacity="0.30"/><circle cx="794.0" cy="964.5" r="1.0" opacity="0.20"/><circle cx="788.1" cy="968.0" r="1.0" opacity="0.10"/><circle cx="804.9" cy="964.4" r="1.0" opacity="0.10"/><circle cx="799.5" cy="967.7" r="2.2" opacity="1.00"/><circle cx="816.1" cy="964.3" r="2.0" opacity="1.00"/><circle cx="810.3" cy="967.5" r="1.0" opacity="0.30"/><circle cx="483.0" cy="973.6" r="1.0" opacity="0.20"/><circle cx="494.2" cy="973.3" r="1.7" opacity="1.00"/><circle cx="488.4" cy="976.7" r="1.0" opacity="0.30"/><circle cx="505.6" cy="973.8" r="1.0" opacity="0.10"/><circle cx="499.9" cy="976.9" r="1.0" opacity="0.30"/><circle cx="516.2" cy="973.8" r="1.0" opacity="0.10"/><circle cx="510.9" cy="977.0" r="1.9" opacity="1.00"/><circle cx="527.0" cy="973.9" r="1.8" opacity="0.50"/><circle cx="521.8" cy="976.8" r="1.0" opacity="0.10"/><circle cx="537.4" cy="973.8" r="1.0" opacity="0.20"/><circle cx="532.4" cy="976.8" r="1.0" opacity="0.10"/><circle cx="548.6" cy="973.4" r="1.0" opacity="0.20"/><circle cx="543.0" cy="976.6" r="1.7" opacity="0.90"/><circle cx="559.8" cy="973.8" r="2.1" opacity="1.00"/><circle cx="554.0" cy="976.6" r="1.0" opacity="0.20"/><circle cx="570.9" cy="974.0" r="1.0" opacity="0.20"/><circle cx="565.4" cy="976.9" r="1.0" opacity="0.20"/><circle cx="581.3" cy="974.2" r="1.0" opacity="0.10"/><circle cx="576.1" cy="977.2" r="1.9" opacity="0.90"/><circle cx="592.8" cy="973.9" r="2.2" opacity="1.00"/><circle cx="587.1" cy="977.2" r="1.0" opacity="0.30"/><circle cx="603.5" cy="974.2" r="1.0" opacity="0.30"/><circle cx="598.5" cy="977.2" r="1.0" opacity="0.20"/><circle cx="613.8" cy="973.7" r="1.0" opacity="0.30"/><circle cx="608.6" cy="977.1" r="2.1" opacity="0.70"/><circle cx="625.0" cy="973.8" r="1.6" opacity="1.00"/><circle cx="619.2" cy="976.8" r="1.0" opacity="0.30"/><circle cx="636.3" cy="973.8" r="1.0" opacity="0.20"/><circle cx="630.7" cy="977.4" r="1.0" opacity="0.10"/><circle cx="646.5" cy="973.7" r="1.0" opacity="0.30"/><circle cx="641.3" cy="977.1" r="1.7" opacity="1.00"/><circle cx="657.6" cy="974.1" r="2.1" opacity="0.70"/><circle cx="652.0" cy="977.2" r="1.0" opacity="0.20"/><circle cx="668.5" cy="974.1" r="1.0" opacity="0.10"/><circle cx="663.2" cy="977.4" r="1.0" opacity="0.10"/><circle cx="679.7" cy="973.8" r="1.0" opacity="0.20"/><circle cx="673.9" cy="977.3" r="1.8" opacity="0.50"/><circle cx="691.1" cy="974.2" r="1.8" opacity="0.70"/><circle cx="685.3" cy="977.2" r="1.0" opacity="0.10"/><circle cx="701.5" cy="974.0" r="1.0" opacity="0.30"/><circle cx="696.4" cy="977.5" r="1.0" opacity="0.30"/><circle cx="712.7" cy="974.1" r="1.0" opacity="0.30"/><circle cx="707.1" cy="977.1" r="1.9" opacity="0.70"/><circle cx="723.4" cy="973.9" r="1.7" opacity="0.90"/><circle cx="718.2" cy="977.5" r="1.0" opacity="0.10"/><circle cx="734.5" cy="974.1" r="1.0" opacity="0.20"/><circle cx="728.8" cy="977.1" r="1.0" opacity="0.10"/><circle cx="745.1" cy="974.5" r="1.0" opacity="0.10"/><circle cx="740.0" cy="977.6" r="2.1" opacity="0.50"/><circle cx="756.3" cy="974.2" r="1.7" opacity="1.00"/><circle cx="750.6" cy="977.4" r="1.0" opacity="0.20"/><circle cx="767.2" cy="973.6" r="1.0" opacity="0.20"/><circle cx="762.0" cy="977.0" r="1.0" opacity="0.10"/><circle cx="777.6" cy="973.9" r="1.0" opacity="0.30"/><circle cx="772.5" cy="976.8" r="2.2" opacity="0.50"/><circle cx="788.1" cy="974.3" r="1.9" opacity="0.90"/><circle cx="782.9" cy="977.4" r="1.0" opacity="0.10"/><circle cx="799.6" cy="974.3" r="1.0" opacity="0.20"/><circle cx="794.1" cy="977.4" r="1.0" opacity="0.10"/><circle cx="810.6" cy="973.8" r="1.0" opacity="0.20"/><circle cx="805.4" cy="977.3" r="2.3" opacity="0.50"/><circle cx="816.3" cy="976.9" r="1.0" opacity="0.20"/><circle cx="488.4" cy="983.4" r="1.0" opacity="0.30"/><circle cx="483.1" cy="986.9" r="1.0" opacity="0.20"/><circle cx="499.5" cy="983.4" r="1.0" opacity="0.30"/><circle cx="493.7" cy="986.5" r="2.3" opacity="0.70"/><circle cx="510.9" cy="983.2" r="2.2" opacity="0.90"/><circle cx="505.1" cy="986.5" r="1.0" opacity="0.10"/><circle cx="522.1" cy="983.0" r="1.0" opacity="0.10"/><circle cx="516.4" cy="986.2" r="1.0" opacity="0.10"/><circle cx="532.6" cy="983.2" r="1.0" opacity="0.20"/><circle cx="527.5" cy="986.5" r="1.8" opacity="1.00"/><circle cx="543.1" cy="982.7" r="1.7" opacity="1.00"/><circle cx="537.7" cy="986.3" r="1.0" opacity="0.30"/><circle cx="554.1" cy="983.1" r="1.0" opacity="0.20"/><circle cx="548.7" cy="986.0" r="1.0" opacity="0.10"/><circle cx="565.0" cy="982.8" r="1.0" opacity="0.10"/><circle cx="559.4" cy="986.3" r="2.2" opacity="1.00"/><circle cx="576.4" cy="983.4" r="1.6" opacity="0.90"/><circle cx="570.8" cy="986.1" r="1.0" opacity="0.20"/><circle cx="587.3" cy="983.8" r="1.0" opacity="0.20"/><circle cx="581.8" cy="986.9" r="1.0" opacity="0.20"/><circle cx="598.3" cy="983.5" r="1.0" opacity="0.20"/><circle cx="592.7" cy="986.8" r="2.3" opacity="1.00"/><circle cx="608.6" cy="983.0" r="2.2" opacity="1.00"/><circle cx="603.3" cy="986.5" r="1.0" opacity="0.10"/><circle cx="619.5" cy="983.5" r="1.0" opacity="0.20"/><circle cx="614.2" cy="986.4" r="1.0" opacity="0.10"/><circle cx="630.8" cy="983.7" r="1.0" opacity="0.20"/><circle cx="625.4" cy="986.8" r="2.1" opacity="0.90"/><circle cx="641.5" cy="983.5" r="1.9" opacity="1.00"/><circle cx="636.5" cy="986.5" r="1.0" opacity="0.10"/><circle cx="652.0" cy="983.5" r="1.0" opacity="0.10"/><circle cx="646.6" cy="986.4" r="1.0" opacity="0.20"/><circle cx="663.5" cy="983.9" r="1.0" opacity="0.20"/><circle cx="657.9" cy="986.7" r="1.8" opacity="0.90"/><circle cx="674.1" cy="983.8" r="1.9" opacity="1.00"/><circle cx="669.0" cy="987.1" r="1.0" opacity="0.30"/><circle cx="685.0" cy="983.3" r="1.0" opacity="0.20"/><circle cx="679.5" cy="986.5" r="1.0" opacity="0.20"/><circle cx="696.3" cy="983.5" r="1.0" opacity="0.10"/><circle cx="690.6" cy="986.3" r="1.9" opacity="0.50"/><circle cx="707.1" cy="983.6" r="1.8" opacity="1.00"/><circle cx="701.5" cy="986.4" r="1.0" opacity="0.20"/><circle cx="718.0" cy="983.6" r="1.0" opacity="0.10"/><circle cx="712.5" cy="986.6" r="1.0" opacity="0.20"/><circle cx="728.8" cy="983.8" r="1.0" opacity="0.30"/><circle cx="723.2" cy="986.7" r="1.6" opacity="0.90"/><circle cx="740.1" cy="983.6" r="2.1" opacity="0.70"/><circle cx="734.6" cy="986.8" r="1.0" opacity="0.10"/><circle cx="750.5" cy="983.2" r="1.0" opacity="0.10"/><circle cx="745.1" cy="986.3" r="1.0" opacity="0.10"/><circle cx="762.0" cy="983.0" r="1.0" opacity="0.20"/><circle cx="756.2" cy="986.0" r="2.0" opacity="0.50"/><circle cx="772.6" cy="983.3" r="1.9" opacity="1.00"/><circle cx="767.3" cy="986.2" r="1.0" opacity="0.30"/><circle cx="783.0" cy="983.6" r="1.0" opacity="0.30"/><circle cx="777.9" cy="986.7" r="1.0" opacity="0.10"/><circle cx="794.0" cy="983.4" r="1.0" opacity="0.10"/><circle cx="788.2" cy="986.5" r="1.9" opacity="1.00"/><circle cx="805.5" cy="983.2" r="2.1" opacity="1.00"/><circle cx="799.6" cy="986.2" r="1.0" opacity="0.30"/><circle cx="816.4" cy="983.1" r="1.0" opacity="0.20"/><circle cx="810.8" cy="986.0" r="1.0" opacity="0.10"/><circle cx="483.1" cy="992.8" r="1.8" opacity="0.90"/><circle cx="494.0" cy="992.9" r="1.0" opacity="0.30"/><circle cx="488.7" cy="995.7" r="1.0" opacity="0.20"/><circle cx="505.2" cy="992.7" r="1.0" opacity="0.30"/><circle cx="499.8" cy="996.0" r="2.2" opacity="0.70"/><circle cx="516.5" cy="992.8" r="2.1" opacity="1.00"/><circle cx="511.0" cy="996.1" r="1.0" opacity="0.30"/><circle cx="527.4" cy="992.8" r="1.0" opacity="0.30"/><circle cx="522.1" cy="996.0" r="1.0" opacity="0.30"/><circle cx="538.0" cy="992.5" r="1.0" opacity="0.30"/><circle cx="532.7" cy="995.8" r="2.2" opacity="0.50"/><circle cx="548.5" cy="992.5" r="2.2" opacity="1.00"/><circle cx="543.1" cy="995.4" r="1.0" opacity="0.30"/><circle cx="559.7" cy="992.5" r="1.0" opacity="0.30"/><circle cx="554.1" cy="995.8" r="1.0" opacity="0.30"/><circle cx="570.7" cy="992.6" r="1.0" opacity="0.10"/><circle cx="565.1" cy="995.4" r="2.0" opacity="0.70"/><circle cx="581.9" cy="993.0" r="1.9" opacity="1.00"/><circle cx="576.4" cy="995.9" r="1.0" opacity="0.10"/><circle cx="592.5" cy="993.2" r="1.0" opacity="0.30"/><circle cx="587.2" cy="996.2" r="1.0" opacity="0.20"/><circle cx="603.1" cy="992.9" r="1.0" opacity="0.10"/><circle cx="597.9" cy="996.3" r="2.2" opacity="1.00"/><circle cx="614.6" cy="992.7" r="1.7" opacity="0.90"/><circle cx="608.9" cy="995.8" r="1.0" opacity="0.20"/><circle cx="625.8" cy="993.0" r="1.0" opacity="0.10"/><circle cx="620.4" cy="996.0" r="1.0" opacity="0.20"/><circle cx="636.2" cy="992.5" r="1.0" opacity="0.10"/><circle cx="630.9" cy="995.9" r="2.2" opacity="1.00"/><circle cx="647.0" cy="992.8" r="2.2" opacity="0.90"/><circle cx="641.5" cy="996.0" r="1.0" opacity="0.10"/><circle cx="657.9" cy="992.9" r="1.0" opacity="0.20"/><circle cx="652.3" cy="996.1" r="1.0" opacity="0.30"/><circle cx="669.3" cy="993.3" r="1.0" opacity="0.20"/><circle cx="663.7" cy="996.3" r="2.1" opacity="0.50"/><circle cx="680.0" cy="992.8" r="2.0" opacity="1.00"/><circle cx="674.9" cy="996.3" r="1.0" opacity="0.10"/><circle cx="690.6" cy="992.3" r="1.0" opacity="0.10"/><circle cx="685.4" cy="995.5" r="1.0" opacity="0.20"/><circle cx="701.5" cy="992.7" r="1.0" opacity="0.20"/><circle cx="696.3" cy="995.8" r="1.8" opacity="0.70"/><circle cx="712.4" cy="992.8" r="1.7" opacity="1.00"/><circle cx="707.0" cy="996.1" r="1.0" opacity="0.20"/><circle cx="723.2" cy="993.1" r="1.0" opacity="0.10"/><circle cx="717.9" cy="996.2" r="1.0" opacity="0.20"/><circle cx="734.7" cy="993.1" r="1.0" opacity="0.10"/><circle cx="728.8" cy="996.5" r="1.8" opacity="1.00"/><circle cx="745.2" cy="992.6" r="1.7" opacity="0.90"/><circle cx="740.2" cy="996.3" r="1.0" opacity="0.20"/><circle cx="755.9" cy="992.5" r="1.0" opacity="0.20"/><circle cx="750.3" cy="996.0" r="1.0" opacity="0.30"/><circle cx="767.4" cy="992.4" r="1.0" opacity="0.20"/><circle cx="761.8" cy="995.8" r="2.0" opacity="0.70"/><circle cx="777.6" cy="992.9" r="2.0" opacity="0.50"/><circle cx="772.5" cy="995.8" r="1.0" opacity="0.30"/><circle cx="788.4" cy="992.8" r="1.0" opacity="0.30"/><circle cx="783.0" cy="996.1" r="1.0" opacity="0.10"/><circle cx="799.4" cy="992.0" r="1.0" opacity="0.30"/><circle cx="794.0" cy="995.6" r="1.8" opacity="1.00"/><circle cx="810.9" cy="992.1" r="2.2" opacity="1.00"/><circle cx="805.2" cy="995.1" r="1.0" opacity="0.30"/><circle cx="816.5" cy="995.3" r="1.0" opacity="0.30"/><circle cx="488.7" cy="1001.7" r="1.0" opacity="0.20"/><circle cx="483.1" cy="1005.0" r="2.1" opacity="0.90"/><circle cx="500.0" cy="1002.3" r="1.8" opacity="0.50"/><circle cx="494.3" cy="1005.2" r="1.0" opacity="0.10"/><circle cx="511.2" cy="1002.6" r="1.0" opacity="0.10"/><circle cx="505.6" cy="1005.6" r="1.0" opacity="0.10"/><circle cx="522.2" cy="1002.2" r="1.0" opacity="0.30"/><circle cx="516.8" cy="1005.7" r="2.3" opacity="0.50"/><circle cx="532.9" cy="1001.6" r="2.1" opacity="0.50"/><circle cx="527.7" cy="1004.9" r="1.0" opacity="0.10"/><circle cx="543.1" cy="1002.0" r="1.0" opacity="0.10"/><circle cx="538.1" cy="1004.9" r="1.0" opacity="0.10"/><circle cx="554.1" cy="1002.1" r="1.0" opacity="0.20"/><circle cx="548.4" cy="1005.4" r="2.0" opacity="1.00"/><circle cx="565.4" cy="1001.9" r="2.3" opacity="1.00"/><circle cx="559.9" cy="1005.3" r="1.0" opacity="0.20"/><circle cx="576.4" cy="1002.1" r="1.0" opacity="0.10"/><circle cx="570.9" cy="1005.3" r="1.0" opacity="0.30"/><circle cx="587.2" cy="1002.2" r="1.0" opacity="0.20"/><circle cx="581.8" cy="1005.3" r="2.1" opacity="1.00"/><circle cx="598.2" cy="1002.7" r="2.1" opacity="1.00"/><circle cx="592.7" cy="1005.6" r="1.0" opacity="0.30"/><circle cx="608.9" cy="1002.3" r="1.0" opacity="0.30"/><circle cx="603.4" cy="1005.9" r="1.0" opacity="0.30"/><circle cx="620.5" cy="1002.1" r="1.0" opacity="0.20"/><circle cx="614.7" cy="1005.3" r="2.1" opacity="0.70"/><circle cx="630.8" cy="1002.1" r="1.7" opacity="0.70"/><circle cx="625.8" cy="1005.3" r="1.0" opacity="0.10"/><circle cx="641.5" cy="1002.4" r="1.0" opacity="0.10"/><circle cx="636.0" cy="1005.1" r="1.0" opacity="0.30"/><circle cx="652.6" cy="1002.2" r="1.0" opacity="0.10"/><circle cx="647.2" cy="1005.3" r="2.3" opacity="1.00"/><circle cx="663.8" cy="1002.4" r="2.2" opacity="0.90"/><circle cx="658.2" cy="1005.1" r="1.0" opacity="0.30"/><circle cx="674.7" cy="1002.5" r="1.0" opacity="0.30"/><circle cx="669.2" cy="1005.6" r="1.0" opacity="0.10"/><circle cx="685.6" cy="1002.0" r="1.0" opacity="0.30"/><circle cx="680.0" cy="1005.4" r="2.3" opacity="0.50"/><circle cx="696.4" cy="1001.9" r="1.6" opacity="0.50"/><circle cx="690.9" cy="1004.9" r="1.0" opacity="0.30"/><circle cx="707.2" cy="1002.4" r="1.0" opacity="0.30"/><circle cx="701.8" cy="1005.2" r="1.0" opacity="0.20"/><circle cx="718.1" cy="1002.7" r="1.0" opacity="0.10"/><circle cx="712.8" cy="1005.6" r="2.2" opacity="1.00"/><circle cx="728.8" cy="1002.6" r="2.2" opacity="0.70"/><circle cx="723.3" cy="1005.7" r="1.0" opacity="0.30"/><circle cx="739.8" cy="1002.5" r="1.0" opacity="0.20"/><circle cx="734.2" cy="1005.5" r="1.0" opacity="0.30"/><circle cx="750.7" cy="1002.8" r="1.0" opacity="0.20"/><circle cx="745.1" cy="1005.6" r="1.9" opacity="0.50"/><circle cx="761.6" cy="1002.2" r="2.1" opacity="1.00"/><circle cx="756.1" cy="1005.6" r="1.0" opacity="0.30"/><circle cx="772.2" cy="1002.1" r="1.0" opacity="0.30"/><circle cx="767.0" cy="1005.2" r="1.0" opacity="0.20"/><circle cx="783.3" cy="1002.1" r="1.0" opacity="0.20"/><circle cx="777.7" cy="1005.1" r="2.3" opacity="0.70"/><circle cx="794.4" cy="1001.8" r="1.9" opacity="1.00"/><circle cx="789.2" cy="1005.0" r="1.0" opacity="0.30"/><circle cx="805.1" cy="1001.5" r="1.0" opacity="0.10"/><circle cx="799.6" cy="1004.7" r="1.0" opacity="0.10"/><circle cx="816.4" cy="1001.7" r="1.0" opacity="0.10"/><circle cx="810.7" cy="1004.8" r="2.3" opacity="0.70"/><circle cx="483.2" cy="1011.6" r="1.0" opacity="0.10"/><circle cx="494.1" cy="1011.7" r="1.0" opacity="0.10"/><circle cx="488.5" cy="1014.8" r="1.8" opacity="1.00"/><circle cx="505.3" cy="1011.8" r="2.2" opacity="1.00"/><circle cx="499.5" cy="1015.0" r="1.0" opacity="0.10"/><circle cx="516.5" cy="1011.5" r="1.0" opacity="0.30"/><circle cx="510.6" cy="1014.7" r="1.0" opacity="0.10"/><circle cx="527.6" cy="1011.3" r="1.0" opacity="0.30"/><circle cx="521.8" cy="1014.6" r="2.2" opacity="1.00"/><circle cx="538.1" cy="1011.4" r="1.7" opacity="0.90"/><circle cx="532.8" cy="1014.5" r="1.0" opacity="0.30"/><circle cx="548.7" cy="1011.6" r="1.0" opacity="0.10"/><circle cx="543.3" cy="1014.5" r="1.0" opacity="0.20"/><circle cx="559.7" cy="1011.8" r="1.0" opacity="0.10"/><circle cx="554.1" cy="1014.8" r="1.8" opacity="0.50"/><circle cx="571.1" cy="1011.7" r="1.8" opacity="0.50"/><circle cx="565.3" cy="1014.8" r="1.0" opacity="0.30"/><circle cx="581.9" cy="1011.6" r="1.0" opacity="0.30"/><circle cx="576.6" cy="1014.9" r="1.0" opacity="0.10"/><circle cx="592.8" cy="1011.6" r="1.0" opacity="0.30"/><circle cx="587.4" cy="1014.6" r="1.9" opacity="1.00"/><circle cx="603.6" cy="1012.2" r="2.2" opacity="1.00"/><circle cx="598.5" cy="1015.0" r="1.0" opacity="0.20"/><circle cx="614.7" cy="1011.7" r="1.0" opacity="0.10"/><circle cx="609.1" cy="1015.0" r="1.0" opacity="0.30"/><circle cx="625.4" cy="1011.7" r="1.0" opacity="0.30"/><circle cx="620.2" cy="1014.9" r="2.0" opacity="0.70"/><circle cx="636.1" cy="1011.7" r="2.2" opacity="1.00"/><circle cx="630.5" cy="1015.1" r="1.0" opacity="0.20"/><circle cx="647.3" cy="1011.2" r="1.0" opacity="0.20"/><circle cx="641.7" cy="1014.8" r="1.0" opacity="0.10"/><circle cx="658.1" cy="1011.5" r="1.0" opacity="0.10"/><circle cx="652.6" cy="1014.4" r="2.1" opacity="0.90"/><circle cx="668.9" cy="1011.6" r="2.0" opacity="1.00"/><circle cx="663.4" cy="1014.7" r="1.0" opacity="0.30"/><circle cx="679.9" cy="1011.7" r="1.0" opacity="0.10"/><circle cx="674.3" cy="1014.7" r="1.0" opacity="0.10"/><circle cx="690.9" cy="1011.2" r="1.0" opacity="0.30"/><circle cx="685.6" cy="1014.5" r="2.3" opacity="1.00"/><circle cx="701.6" cy="1011.4" r="2.2" opacity="1.00"/><circle cx="696.3" cy="1014.4" r="1.0" opacity="0.30"/><circle cx="712.5" cy="1011.6" r="1.0" opacity="0.10"/><circle cx="706.7" cy="1014.6" r="1.0" opacity="0.30"/><circle cx="723.6" cy="1012.0" r="1.0" opacity="0.20"/><circle cx="718.0" cy="1015.0" r="2.2" opacity="0.50"/><circle cx="734.2" cy="1011.4" r="2.3" opacity="1.00"/><circle cx="729.0" cy="1014.8" r="1.0" opacity="0.20"/><circle cx="745.1" cy="1011.9" r="1.0" opacity="0.20"/><circle cx="739.8" cy="1014.6" r="1.0" opacity="0.10"/><circle cx="756.2" cy="1011.8" r="1.0" opacity="0.30"/><circle cx="750.8" cy="1015.2" r="2.2" opacity="1.00"/><circle cx="766.6" cy="1011.3" r="1.8" opacity="1.00"/><circle cx="761.3" cy="1014.5" r="1.0" opacity="0.30"/><circle cx="777.7" cy="1011.2" r="1.0" opacity="0.10"/><circle cx="771.9" cy="1014.3" r="1.0" opacity="0.10"/><circle cx="789.2" cy="1011.2" r="1.0" opacity="0.30"/><circle cx="783.3" cy="1014.3" r="2.0" opacity="0.90"/><circle cx="799.7" cy="1011.0" r="2.2" opacity="0.90"/><circle cx="794.4" cy="1014.3" r="1.0" opacity="0.30"/><circle cx="810.3" cy="1011.2" r="1.0" opacity="0.30"/><circle cx="804.8" cy="1014.3" r="1.0" opacity="0.10"/><circle cx="816.1" cy="1014.8" r="2.0" opacity="0.90"/><circle cx="488.5" cy="1021.5" r="1.8" opacity="0.50"/><circle cx="483.5" cy="1024.3" r="1.0" opacity="0.30"/><circle cx="499.5" cy="1021.3" r="1.0" opacity="0.20"/><circle cx="494.0" cy="1024.7" r="1.0" opacity="0.20"/><circle cx="510.4" cy="1020.9" r="1.0" opacity="0.30"/><circle cx="505.0" cy="1024.3" r="1.8" opacity="1.00"/><circle cx="521.6" cy="1020.8" r="2.2" opacity="1.00"/><circle cx="516.0" cy="1024.0" r="1.0" opacity="0.20"/><circle cx="532.6" cy="1020.7" r="1.0" opacity="0.30"/><circle cx="527.2" cy="1023.9" r="1.0" opacity="0.30"/><circle cx="543.6" cy="1021.0" r="1.0" opacity="0.20"/><circle cx="538.1" cy="1024.1" r="1.6" opacity="0.90"/><circle cx="554.1" cy="1020.9" r="2.2" opacity="1.00"/><circle cx="548.9" cy="1024.2" r="1.0" opacity="0.10"/><circle cx="565.3" cy="1021.1" r="1.0" opacity="0.20"/><circle cx="559.6" cy="1024.2" r="1.0" opacity="0.30"/><circle cx="576.3" cy="1020.9" r="1.0" opacity="0.20"/><circle cx="570.8" cy="1024.0" r="1.6" opacity="0.70"/><circle cx="587.5" cy="1020.7" r="1.8" opacity="0.50"/><circle cx="581.7" cy="1023.8" r="1.0" opacity="0.30"/><circle cx="598.5" cy="1021.2" r="1.0" opacity="0.30"/><circle cx="593.0" cy="1024.0" r="1.0" opacity="0.10"/><circle cx="609.4" cy="1021.3" r="1.0" opacity="0.30"/><circle cx="603.9" cy="1024.7" r="1.7" opacity="1.00"/><circle cx="620.0" cy="1021.1" r="2.0" opacity="0.70"/><circle cx="614.7" cy="1024.2" r="1.0" opacity="0.20"/><circle cx="630.5" cy="1021.5" r="1.0" opacity="0.20"/><circle cx="625.3" cy="1024.4" r="1.0" opacity="0.30"/><circle cx="641.9" cy="1021.3" r="1.0" opacity="0.20"/><circle cx="636.3" cy="1024.6" r="1.6" opacity="1.00"/><circle cx="652.4" cy="1021.2" r="1.9" opacity="0.50"/><circle cx="647.4" cy="1024.4" r="1.0" opacity="0.30"/><circle cx="663.3" cy="1021.1" r="1.0" opacity="0.30"/><circle cx="657.8" cy="1024.7" r="1.0" opacity="0.10"/><circle cx="674.5" cy="1020.7" r="1.0" opacity="0.20"/><circle cx="669.0" cy="1024.1" r="1.7" opacity="0.70"/><circle cx="685.7" cy="1021.0" r="1.8" opacity="1.00"/><circle cx="680.3" cy="1024.3" r="1.0" opacity="0.20"/><circle cx="696.3" cy="1021.1" r="1.0" opacity="0.20"/><circle cx="691.1" cy="1024.3" r="1.0" opacity="0.30"/><circle cx="706.8" cy="1020.9" r="1.0" opacity="0.30"/><circle cx="701.7" cy="1024.4" r="2.3" opacity="0.90"/><circle cx="717.9" cy="1020.9" r="2.2" opacity="0.90"/><circle cx="712.5" cy="1023.8" r="1.0" opacity="0.10"/><circle cx="729.1" cy="1021.0" r="1.0" opacity="0.30"/><circle cx="723.5" cy="1024.2" r="1.0" opacity="0.30"/><circle cx="739.7" cy="1020.9" r="1.0" opacity="0.10"/><circle cx="734.2" cy="1023.9" r="1.9" opacity="1.00"/><circle cx="750.7" cy="1021.3" r="2.3" opacity="0.70"/><circle cx="745.0" cy="1024.3" r="1.0" opacity="0.10"/><circle cx="761.2" cy="1021.2" r="1.0" opacity="0.30"/><circle cx="756.0" cy="1024.6" r="1.0" opacity="0.30"/><circle cx="772.1" cy="1020.5" r="1.0" opacity="0.30"/><circle cx="766.7" cy="1024.1" r="2.0" opacity="0.70"/><circle cx="783.2" cy="1020.8" r="1.6" opacity="1.00"/><circle cx="777.8" cy="1023.9" r="1.0" opacity="0.20"/><circle cx="794.3" cy="1020.8" r="1.0" opacity="0.20"/><circle cx="788.9" cy="1024.2" r="1.0" opacity="0.10"/><circle cx="805.2" cy="1020.8" r="1.0" opacity="0.20"/><circle cx="800.0" cy="1024.0" r="2.1" opacity="0.50"/><circle cx="816.1" cy="1021.3" r="2.1" opacity="0.50"/><circle cx="810.8" cy="1024.2" r="1.0" opacity="0.20"/><circle cx="483.8" cy="1030.3" r="1.0" opacity="0.30"/><circle cx="494.3" cy="1031.0" r="2.3" opacity="0.90"/><circle cx="489.1" cy="1033.7" r="1.0" opacity="0.30"/><circle cx="505.1" cy="1030.6" r="1.0" opacity="0.10"/><circle cx="499.8" cy="1033.8" r="1.0" opacity="0.30"/><circle cx="515.9" cy="1030.3" r="1.0" opacity="0.20"/><circle cx="510.3" cy="1033.4" r="1.8" opacity="1.00"/><circle cx="527.1" cy="1030.0" r="1.7" opacity="1.00"/><circle cx="521.4" cy="1033.2" r="1.0" opacity="0.30"/><circle cx="538.1" cy="1030.6" r="1.0" opacity="0.20"/><circle cx="532.5" cy="1033.4" r="1.0" opacity="0.20"/><circle cx="548.9" cy="1030.6" r="1.0" opacity="0.30"/><circle cx="543.5" cy="1034.0" r="2.2" opacity="0.90"/><circle cx="560.1" cy="1030.4" r="1.7" opacity="1.00"/><circle cx="554.5" cy="1033.6" r="1.0" opacity="0.20"/><circle cx="571.0" cy="1030.3" r="1.0" opacity="0.10"/><circle cx="565.9" cy="1033.7" r="1.0" opacity="0.10"/><circle cx="581.7" cy="1029.8" r="1.0" opacity="0.10"/><circle cx="576.5" cy="1033.3" r="1.7" opacity="0.50"/><circle cx="592.8" cy="1030.5" r="2.1" opacity="1.00"/><circle cx="587.3" cy="1033.3" r="1.0" opacity="0.20"/><circle cx="603.5" cy="1031.1" r="1.0" opacity="0.10"/><circle cx="598.0" cy="1034.2" r="1.0" opacity="0.20"/><circle cx="614.3" cy="1030.6" r="1.0" opacity="0.10"/><circle cx="608.6" cy="1034.0" r="2.2" opacity="1.00"/><circle cx="625.2" cy="1030.4" r="1.8" opacity="1.00"/><circle cx="619.5" cy="1033.6" r="1.0" opacity="0.20"/><circle cx="636.5" cy="1030.4" r="1.0" opacity="0.20"/><circle cx="630.6" cy="1033.4" r="1.0" opacity="0.10"/><circle cx="647.4" cy="1030.8" r="1.0" opacity="0.10"/><circle cx="642.2" cy="1033.5" r="1.8" opacity="0.70"/><circle cx="658.0" cy="1030.9" r="2.2" opacity="0.70"/><circle cx="652.6" cy="1033.9" r="1.0" opacity="0.20"/><circle cx="669.1" cy="1030.5" r="1.0" opacity="0.30"/><circle cx="663.5" cy="1033.7" r="1.0" opacity="0.20"/><circle cx="680.2" cy="1030.7" r="1.0" opacity="0.20"/><circle cx="674.5" cy="1033.5" r="1.9" opacity="0.90"/><circle cx="690.8" cy="1030.9" r="1.8" opacity="0.70"/><circle cx="685.4" cy="1034.0" r="1.0" opacity="0.30"/><circle cx="701.7" cy="1030.3" r="1.0" opacity="0.20"/><circle cx="696.0" cy="1033.6" r="1.0" opacity="0.10"/><circle cx="712.6" cy="1030.0" r="1.0" opacity="0.20"/><circle cx="706.9" cy="1033.1" r="1.6" opacity="1.00"/><circle cx="723.2" cy="1030.4" r="2.0" opacity="1.00"/><circle cx="717.7" cy="1033.3" r="1.0" opacity="0.10"/><circle cx="733.8" cy="1030.6" r="1.0" opacity="0.10"/><circle cx="728.5" cy="1034.0" r="1.0" opacity="0.30"/><circle cx="745.1" cy="1030.2" r="1.0" opacity="0.10"/><circle cx="739.5" cy="1033.5" r="1.8" opacity="0.70"/><circle cx="756.2" cy="1031.0" r="1.8" opacity="0.70"/><circle cx="751.1" cy="1033.7" r="1.0" opacity="0.30"/><circle cx="766.7" cy="1030.9" r="1.0" opacity="0.20"/><circle cx="761.4" cy="1034.3" r="1.0" opacity="0.10"/><circle cx="778.0" cy="1030.4" r="1.0" opacity="0.10"/><circle cx="772.2" cy="1033.7" r="2.0" opacity="0.50"/><circle cx="789.1" cy="1030.3" r="2.2" opacity="0.70"/><circle cx="783.6" cy="1033.5" r="1.0" opacity="0.10"/><circle cx="799.9" cy="1030.7" r="1.0" opacity="0.10"/><circle cx="794.5" cy="1033.7" r="1.0" opacity="0.20"/><circle cx="811.0" cy="1030.7" r="1.0" opacity="0.30"/><circle cx="805.5" cy="1033.9" r="1.6" opacity="0.90"/><circle cx="816.5" cy="1033.9" r="1.0" opacity="0.10"/><circle cx="489.4" cy="1039.8" r="1.0" opacity="0.20"/><circle cx="483.9" cy="1042.6" r="1.0" opacity="0.10"/><circle cx="499.7" cy="1039.8" r="1.0" opacity="0.10"/><circle cx="494.4" cy="1042.9" r="2.3" opacity="0.70"/><circle cx="510.4" cy="1039.5" r="2.0" opacity="0.70"/><circle cx="505.1" cy="1042.6" r="1.0" opacity="0.10"/><circle cx="521.4" cy="1039.6" r="1.0" opacity="0.20"/><circle cx="516.0" cy="1042.8" r="1.0" opacity="0.30"/><circle cx="532.4" cy="1039.8" r="1.0" opacity="0.20"/><circle cx="527.0" cy="1042.8" r="1.6" opacity="1.00"/><circle cx="543.4" cy="1040.1" r="1.7" opacity="0.90"/><circle cx="537.9" cy="1043.1" r="1.0" opacity="0.20"/><circle cx="554.8" cy="1040.0" r="1.0" opacity="0.10"/><circle cx="549.2" cy="1043.0" r="1.0" opacity="0.10"/><circle cx="566.1" cy="1040.3" r="1.0" opacity="0.30"/><circle cx="560.5" cy="1043.4" r="1.9" opacity="0.90"/><circle cx="576.8" cy="1039.6" r="1.6" opacity="1.00"/><circle cx="571.4" cy="1043.2" r="1.0" opacity="0.20"/><circle cx="587.1" cy="1040.0" r="1.0" opacity="0.30"/><circle cx="581.7" cy="1042.9" r="1.0" opacity="0.10"/><circle cx="598.0" cy="1040.4" r="1.0" opacity="0.30"/><circle cx="592.5" cy="1043.5" r="1.9" opacity="0.70"/><circle cx="608.4" cy="1040.0" r="2.1" opacity="0.70"/><circle cx="603.3" cy="1043.2" r="1.0" opacity="0.10"/><circle cx="619.5" cy="1039.9" r="1.0" opacity="0.10"/><circle cx="614.2" cy="1043.0" r="1.0" opacity="0.20"/><circle cx="630.6" cy="1039.8" r="1.0" opacity="0.20"/><circle cx="625.2" cy="1043.2" r="1.8" opacity="0.50"/><circle cx="642.0" cy="1039.5" r="2.0" opacity="0.90"/><circle cx="636.4" cy="1042.7" r="1.0" opacity="0.20"/><circle cx="652.6" cy="1040.2" r="1.0" opacity="0.10"/><circle cx="647.3" cy="1043.1" r="1.0" opacity="0.30"/><circle cx="663.6" cy="1040.1" r="1.0" opacity="0.10"/><circle cx="658.1" cy="1043.6" r="1.6" opacity="1.00"/><circle cx="674.1" cy="1039.6" r="2.2" opacity="1.00"/><circle cx="668.8" cy="1042.9" r="1.0" opacity="0.10"/><circle cx="685.0" cy="1040.0" r="1.0" opacity="0.10"/><circle cx="679.5" cy="1042.8" r="1.0" opacity="0.10"/><circle cx="695.9" cy="1039.6" r="1.0" opacity="0.30"/><circle cx="690.5" cy="1042.9" r="1.9" opacity="1.00"/><circle cx="706.8" cy="1039.2" r="1.7" opacity="0.50"/><circle cx="701.5" cy="1042.4" r="1.0" opacity="0.10"/><circle cx="717.4" cy="1039.9" r="1.0" opacity="0.10"/><circle cx="712.1" cy="1042.7" r="1.0" opacity="0.20"/><circle cx="728.6" cy="1040.3" r="1.0" opacity="0.10"/><circle cx="723.0" cy="1043.4" r="1.8" opacity="1.00"/><circle cx="739.7" cy="1039.9" r="2.2" opacity="1.00"/><circle cx="734.2" cy="1043.3" r="1.0" opacity="0.10"/><circle cx="750.8" cy="1039.8" r="1.0" opacity="0.30"/><circle cx="745.1" cy="1042.7" r="1.0" opacity="0.10"/><circle cx="761.7" cy="1040.6" r="1.0" opacity="0.10"/><circle cx="756.3" cy="1043.4" r="1.8" opacity="0.50"/><circle cx="771.9" cy="1039.9" r="2.0" opacity="1.00"/><circle cx="766.6" cy="1043.3" r="1.0" opacity="0.10"/><circle cx="783.7" cy="1039.8" r="1.0" opacity="0.30"/><circle cx="777.8" cy="1042.9" r="1.0" opacity="0.20"/><circle cx="794.6" cy="1039.9" r="1.0" opacity="0.20"/><circle cx="789.3" cy="1042.8" r="1.7" opacity="1.00"/><circle cx="805.2" cy="1040.0" r="2.0" opacity="0.70"/><circle cx="799.8" cy="1043.0" r="1.0" opacity="0.30"/><circle cx="816.5" cy="1040.0" r="1.0" opacity="0.30"/><circle cx="810.8" cy="1042.9" r="1.0" opacity="0.20"/><circle cx="483.8" cy="1049.4" r="2.2" opacity="0.70"/><circle cx="494.3" cy="1049.1" r="1.0" opacity="0.20"/><circle cx="489.1" cy="1052.8" r="1.0" opacity="0.30"/><circle cx="505.3" cy="1049.1" r="1.0" opacity="0.10"/><circle cx="499.8" cy="1052.5" r="1.8" opacity="0.70"/><circle cx="516.2" cy="1049.2" r="1.6" opacity="1.00"/><circle cx="510.9" cy="1052.5" r="1.0" opacity="0.20"/><circle cx="526.9" cy="1049.5" r="1.0" opacity="0.20"/><circle cx="521.4" cy="1052.7" r="1.0" opacity="0.10"/><circle cx="537.8" cy="1049.0" r="1.0" opacity="0.20"/><circle cx="532.1" cy="1052.4" r="1.8" opacity="0.90"/><circle cx="549.2" cy="1049.3" r="2.1" opacity="0.90"/><circle cx="543.4" cy="1052.2" r="1.0" opacity="0.20"/><circle cx="560.4" cy="1049.5" r="1.0" opacity="0.30"/><circle cx="554.7" cy="1052.4" r="1.0" opacity="0.30"/><circle cx="571.3" cy="1049.2" r="1.0" opacity="0.10"/><circle cx="565.8" cy="1052.4" r="2.3" opacity="1.00"/><circle cx="581.4" cy="1049.5" r="2.0" opacity="0.70"/><circle cx="576.3" cy="1052.2" r="1.0" opacity="0.30"/><circle cx="592.3" cy="1049.5" r="1.0" opacity="0.30"/><circle cx="586.5" cy="1052.7" r="1.0" opacity="0.30"/><circle cx="603.6" cy="1049.4" r="1.0" opacity="0.10"/><circle cx="598.0" cy="1052.6" r="1.9" opacity="0.50"/><circle cx="614.3" cy="1049.1" r="2.1" opacity="1.00"/><circle cx="608.8" cy="1052.3" r="1.0" opacity="0.10"/><circle cx="625.3" cy="1049.6" r="1.0" opacity="0.30"/><circle cx="619.7" cy="1052.5" r="1.0" opacity="0.10"/><circle cx="636.3" cy="1049.1" r="1.0" opacity="0.20"/><circle cx="630.6" cy="1052.5" r="1.9" opacity="1.00"/><circle cx="647.2" cy="1049.5" r="2.2" opacity="0.50"/><circle cx="641.8" cy="1052.2" r="1.0" opacity="0.30"/><circle cx="658.3" cy="1050.1" r="1.0" opacity="0.30"/><circle cx="652.7" cy="1053.0" r="1.0" opacity="0.20"/><circle cx="669.0" cy="1049.3" r="1.0" opacity="0.10"/><circle cx="664.1" cy="1052.9" r="2.1" opacity="0.50"/><circle cx="679.5" cy="1049.0" r="1.7" opacity="1.00"/><circle cx="674.4" cy="1052.1" r="1.0" opacity="0.10"/><circle cx="690.5" cy="1049.1" r="1.0" opacity="0.30"/><circle cx="685.1" cy="1052.3" r="1.0" opacity="0.20"/><circle cx="701.9" cy="1049.1" r="1.0" opacity="0.10"/><circle cx="696.3" cy="1052.5" r="1.7" opacity="0.50"/><circle cx="712.1" cy="1049.2" r="2.0" opacity="1.00"/><circle cx="707.1" cy="1052.4" r="1.0" opacity="0.30"/><circle cx="723.1" cy="1049.5" r="1.0" opacity="0.30"/><circle cx="717.5" cy="1052.5" r="1.0" opacity="0.10"/><circle cx="734.2" cy="1049.4" r="1.0" opacity="0.20"/><circle cx="728.7" cy="1052.4" r="2.2" opacity="1.00"/><circle cx="744.8" cy="1049.3" r="2.0" opacity="1.00"/><circle cx="739.4" cy="1052.5" r="1.0" opacity="0.30"/><circle cx="756.2" cy="1049.5" r="1.0" opacity="0.30"/><circle cx="750.4" cy="1052.5" r="1.0" opacity="0.10"/><circle cx="767.0" cy="1049.4" r="1.0" opacity="0.10"/><circle cx="762.0" cy="1052.7" r="1.7" opacity="1.00"/><circle cx="777.6" cy="1049.4" r="1.7" opacity="0.70"/><circle cx="772.2" cy="1052.5" r="1.0" opacity="0.30"/><circle cx="789.3" cy="1049.2" r="1.0" opacity="0.10"/><circle cx="783.5" cy="1052.6" r="1.0" opacity="0.20"/><circle cx="799.5" cy="1049.1" r="1.0" opacity="0.10"/><circle cx="794.3" cy="1052.2" r="1.6" opacity="1.00"/><circle cx="810.7" cy="1049.2" r="1.8" opacity="1.00"/><circle cx="804.8" cy="1052.4" r="1.0" opacity="0.10"/><circle cx="816.4" cy="1052.6" r="1.0" opacity="0.20"/><circle cx="489.0" cy="1059.2" r="1.0" opacity="0.10"/><circle cx="483.8" cy="1062.1" r="1.7" opacity="1.00"/><circle cx="499.7" cy="1058.8" r="1.6" opacity="1.00"/><circle cx="494.2" cy="1061.9" r="1.0" opacity="0.10"/><circle cx="511.0" cy="1059.2" r="1.0" opacity="0.30"/><circle cx="505.4" cy="1062.2" r="1.0" opacity="0.10"/><circle cx="521.2" cy="1059.0" r="1.0" opacity="0.20"/><circle cx="516.1" cy="1062.2" r="2.0" opacity="0.70"/><circle cx="532.0" cy="1058.9" r="1.7" opacity="0.70"/><circle cx="526.5" cy="1062.4" r="1.0" opacity="0.30"/><circle cx="543.4" cy="1058.4" r="1.0" opacity="0.30"/><circle cx="537.7" cy="1061.7" r="1.0" opacity="0.20"/><circle cx="554.4" cy="1058.8" r="1.0" opacity="0.30"/><circle cx="548.9" cy="1061.9" r="2.0" opacity="0.90"/><circle cx="565.6" cy="1058.6" r="1.8" opacity="0.70"/><circle cx="559.8" cy="1062.1" r="1.0" opacity="0.20"/><circle cx="576.1" cy="1058.6" r="1.0" opacity="0.30"/><circle cx="570.9" cy="1061.8" r="1.0" opacity="0.30"/><circle cx="587.0" cy="1058.9" r="1.0" opacity="0.10"/><circle cx="581.7" cy="1062.0" r="2.2" opacity="0.90"/><circle cx="597.9" cy="1058.8" r="1.7" opacity="1.00"/><circle cx="592.6" cy="1062.0" r="1.0" opacity="0.30"/><circle cx="609.0" cy="1058.8" r="1.0" opacity="0.10"/><circle cx="603.7" cy="1062.2" r="1.0" opacity="0.20"/><circle cx="619.8" cy="1058.7" r="1.0" opacity="0.30"/><circle cx="614.6" cy="1061.8" r="1.6" opacity="0.50"/><circle cx="630.7" cy="1058.8" r="2.1" opacity="1.00"/><circle cx="625.6" cy="1062.1" r="1.0" opacity="0.30"/><circle cx="641.8" cy="1058.8" r="1.0" opacity="0.10"/><circle cx="636.4" cy="1062.0" r="1.0" opacity="0.10"/><circle cx="653.0" cy="1059.3" r="1.0" opacity="0.10"/><circle cx="647.5" cy="1062.4" r="1.7" opacity="0.70"/><circle cx="664.1" cy="1059.1" r="2.2" opacity="1.00"/><circle cx="658.6" cy="1062.5" r="1.0" opacity="0.20"/><circle cx="674.7" cy="1058.8" r="1.0" opacity="0.10"/><circle cx="669.3" cy="1062.1" r="1.0" opacity="0.20"/><circle cx="685.4" cy="1058.6" r="1.0" opacity="0.10"/><circle cx="680.1" cy="1061.9" r="2.2" opacity="0.70"/><circle cx="696.2" cy="1058.8" r="2.0" opacity="0.70"/><circle cx="690.7" cy="1061.7" r="1.0" opacity="0.30"/><circle cx="707.2" cy="1059.2" r="1.0" opacity="0.10"/><circle cx="701.9" cy="1062.2" r="1.0" opacity="0.30"/><circle cx="717.6" cy="1058.5" r="1.0" opacity="0.30"/><circle cx="712.4" cy="1062.0" r="1.8" opacity="1.00"/><circle cx="728.5" cy="1058.6" r="2.0" opacity="0.90"/><circle cx="723.1" cy="1061.7" r="1.0" opacity="0.10"/><circle cx="739.4" cy="1059.0" r="1.0" opacity="0.30"/><circle cx="733.9" cy="1062.1" r="1.0" opacity="0.20"/><circle cx="750.4" cy="1058.8" r="1.0" opacity="0.10"/><circle cx="744.6" cy="1062.1" r="2.1" opacity="0.70"/><circle cx="761.6" cy="1058.9" r="2.1" opacity="0.70"/><circle cx="755.8" cy="1061.9" r="1.0" opacity="0.20"/><circle cx="772.6" cy="1058.8" r="1.0" opacity="0.10"/><circle cx="767.1" cy="1061.9" r="1.0" opacity="0.20"/><circle cx="783.1" cy="1058.8" r="1.0" opacity="0.10"/><circle cx="777.6" cy="1061.9" r="2.2" opacity="1.00"/><circle cx="794.2" cy="1058.9" r="1.8" opacity="1.00"/><circle cx="788.8" cy="1062.0" r="1.0" opacity="0.30"/><circle cx="804.6" cy="1058.6" r="1.0" opacity="0.10"/><circle cx="799.2" cy="1062.0" r="1.0" opacity="0.30"/><circle cx="816.1" cy="1058.8" r="1.0" opacity="0.10"/><circle cx="810.2" cy="1061.6" r="2.0" opacity="1.00"/><circle cx="483.6" cy="1068.3" r="1.0" opacity="0.30"/><circle cx="494.3" cy="1068.0" r="1.0" opacity="0.10"/><circle cx="488.9" cy="1071.5" r="1.8" opacity="1.00"/><circle cx="505.1" cy="1068.1" r="1.9" opacity="0.50"/><circle cx="499.6" cy="1070.9" r="1.0" opacity="0.20"/><circle cx="516.0" cy="1068.7" r="1.0" opacity="0.10"/><circle cx="510.6" cy="1071.6" r="1.0" opacity="0.30"/><circle cx="526.6" cy="1068.5" r="1.0" opacity="0.20"/><circle cx="521.2" cy="1071.6" r="2.0" opacity="1.00"/><circle cx="538.1" cy="1068.2" r="1.9" opacity="1.00"/><circle cx="532.5" cy="1071.5" r="1.0" opacity="0.10"/><circle cx="548.8" cy="1068.5" r="1.0" opacity="0.30"/><circle cx="543.6" cy="1071.4" r="1.0" opacity="0.10"/><circle cx="559.9" cy="1068.4" r="1.0" opacity="0.30"/><circle cx="554.3" cy="1071.7" r="1.8" opacity="0.70"/><circle cx="570.7" cy="1068.5" r="1.6" opacity="0.50"/><circle cx="565.6" cy="1071.7" r="1.0" opacity="0.10"/><circle cx="581.8" cy="1068.1" r="1.0" opacity="0.30"/><circle cx="576.2" cy="1071.4" r="1.0" opacity="0.30"/><circle cx="592.6" cy="1068.6" r="1.0" opacity="0.10"/><circle cx="587.1" cy="1071.6" r="2.0" opacity="1.00"/><circle cx="603.7" cy="1068.3" r="2.2" opacity="1.00"/><circle cx="597.9" cy="1071.6" r="1.0" opacity="0.20"/><circle cx="614.7" cy="1068.3" r="1.0" opacity="0.30"/><circle cx="609.2" cy="1071.4" r="1.0" opacity="0.10"/><circle cx="625.5" cy="1068.5" r="1.0" opacity="0.20"/><circle cx="619.9" cy="1071.6" r="2.0" opacity="1.00"/><circle cx="636.6" cy="1068.4" r="2.1" opacity="0.70"/><circle cx="630.8" cy="1071.6" r="1.0" opacity="0.20"/><circle cx="647.2" cy="1068.6" r="1.0" opacity="0.30"/><circle cx="641.6" cy="1071.4" r="1.0" opacity="0.10"/><circle cx="658.3" cy="1068.7" r="1.0" opacity="0.30"/><circle cx="652.3" cy="1071.7" r="2.3" opacity="0.90"/><circle cx="669.2" cy="1068.5" r="2.0" opacity="1.00"/><circle cx="663.7" cy="1071.7" r="1.0" opacity="0.10"/><circle cx="679.7" cy="1068.1" r="1.0" opacity="0.20"/><circle cx="674.2" cy="1071.4" r="1.0" opacity="0.20"/><circle cx="690.7" cy="1067.9" r="1.0" opacity="0.20"/><circle cx="685.1" cy="1071.0" r="2.1" opacity="1.00"/><circle cx="701.8" cy="1068.3" r="2.1" opacity="1.00"/><circle cx="696.2" cy="1071.1" r="1.0" opacity="0.10"/><circle cx="712.6" cy="1068.6" r="1.0" opacity="0.20"/><circle cx="707.4" cy="1071.9" r="1.0" opacity="0.10"/><circle cx="723.0" cy="1068.0" r="1.0" opacity="0.30"/><circle cx="717.8" cy="1071.5" r="1.9" opacity="0.90"/><circle cx="733.8" cy="1068.6" r="2.0" opacity="1.00"/><circle cx="728.3" cy="1071.5" r="1.0" opacity="0.20"/><circle cx="744.5" cy="1068.6" r="1.0" opacity="0.10"/><circle cx="739.1" cy="1072.0" r="1.0" opacity="0.10"/><circle cx="755.8" cy="1068.4" r="1.0" opacity="0.10"/><circle cx="750.3" cy="1071.6" r="1.8" opacity="1.00"/><circle cx="766.7" cy="1068.0" r="1.8" opacity="1.00"/><circle cx="761.3" cy="1071.5" r="1.0" opacity="0.30"/><circle cx="777.9" cy="1067.8" r="1.0" opacity="0.20"/><circle cx="772.4" cy="1070.9" r="1.0" opacity="0.30"/><circle cx="788.6" cy="1068.4" r="1.0" opacity="0.30"/><circle cx="783.2" cy="1071.1" r="2.1" opacity="0.90"/><circle cx="799.7" cy="1068.3" r="2.1" opacity="1.00"/><circle cx="794.5" cy="1071.6" r="1.0" opacity="0.20"/><circle cx="810.3" cy="1067.8" r="1.0" opacity="0.10"/><circle cx="805.3" cy="1071.1" r="1.0" opacity="0.30"/><circle cx="816.2" cy="1071.1" r="2.0" opacity="0.50"/><circle cx="489.1" cy="1077.5" r="1.9" opacity="1.00"/><circle cx="483.8" cy="1080.6" r="1.0" opacity="0.30"/><circle cx="499.8" cy="1077.4" r="1.0" opacity="0.10"/><circle cx="494.7" cy="1080.5" r="1.0" opacity="0.20"/><circle cx="510.3" cy="1077.9" r="1.0" opacity="0.30"/><circle cx="505.0" cy="1080.9" r="2.0" opacity="0.90"/><circle cx="521.3" cy="1077.7" r="1.7" opacity="0.70"/><circle cx="515.8" cy="1081.0" r="1.0" opacity="0.10"/><circle cx="532.4" cy="1077.6" r="1.0" opacity="0.30"/><circle cx="526.7" cy="1080.7" r="1.0" opacity="0.10"/><circle cx="543.5" cy="1078.0" r="1.0" opacity="0.10"/><circle cx="538.0" cy="1080.8" r="2.0" opacity="0.70"/><circle cx="554.4" cy="1077.9" r="2.3" opacity="0.50"/><circle cx="548.7" cy="1081.3" r="1.0" opacity="0.30"/><circle cx="565.3" cy="1077.8" r="1.0" opacity="0.20"/><circle cx="559.8" cy="1080.8" r="1.0" opacity="0.10"/><circle cx="576.2" cy="1078.0" r="1.0" opacity="0.30"/><circle cx="570.5" cy="1081.3" r="2.3" opacity="1.00"/><circle cx="587.0" cy="1077.9" r="1.7" opacity="1.00"/><circle cx="581.8" cy="1081.0" r="1.0" opacity="0.10"/><circle cx="597.7" cy="1077.8" r="1.0" opacity="0.20"/><circle cx="592.2" cy="1081.1" r="1.0" opacity="0.20"/><circle cx="609.2" cy="1077.5" r="1.0" opacity="0.20"/><circle cx="603.5" cy="1080.6" r="1.8" opacity="0.50"/><circle cx="619.7" cy="1077.9" r="2.0" opacity="1.00"/><circle cx="614.5" cy="1080.7" r="1.0" opacity="0.30"/><circle cx="630.4" cy="1078.1" r="1.0" opacity="0.10"/><circle cx="624.9" cy="1081.3" r="1.0" opacity="0.30"/><circle cx="641.6" cy="1077.4" r="1.0" opacity="0.30"/><circle cx="636.1" cy="1080.8" r="1.9" opacity="0.70"/><circle cx="652.2" cy="1077.7" r="2.3" opacity="1.00"/><circle cx="647.0" cy="1080.5" r="1.0" opacity="0.30"/><circle cx="663.4" cy="1077.9" r="1.0" opacity="0.20"/><circle cx="657.9" cy="1080.9" r="1.0" opacity="0.20"/><circle cx="674.1" cy="1077.5" r="1.0" opacity="0.30"/><circle cx="668.8" cy="1080.8" r="2.0" opacity="1.00"/><circle cx="684.9" cy="1077.5" r="1.6" opacity="0.70"/><circle cx="679.4" cy="1080.6" r="1.0" opacity="0.20"/><circle cx="696.1" cy="1077.4" r="1.0" opacity="0.20"/><circle cx="690.4" cy="1080.6" r="1.0" opacity="0.20"/><circle cx="707.4" cy="1077.9" r="1.0" opacity="0.20"/><circle cx="701.7" cy="1080.6" r="1.7" opacity="0.70"/><circle cx="718.1" cy="1078.0" r="1.7" opacity="0.70"/><circle cx="712.9" cy="1081.0" r="1.0" opacity="0.20"/><circle cx="728.6" cy="1077.8" r="1.0" opacity="0.20"/><circle cx="723.6" cy="1080.8" r="1.0" opacity="0.30"/><circle cx="739.4" cy="1077.8" r="1.0" opacity="0.20"/><circle cx="734.4" cy="1080.7" r="1.9" opacity="1.00"/><circle cx="750.3" cy="1077.8" r="2.0" opacity="0.70"/><circle cx="744.9" cy="1080.6" r="1.0" opacity="0.10"/><circle cx="761.6" cy="1077.8" r="1.0" opacity="0.30"/><circle cx="756.1" cy="1080.9" r="1.0" opacity="0.30"/><circle cx="772.1" cy="1077.3" r="1.0" opacity="0.30"/><circle cx="766.7" cy="1080.8" r="2.1" opacity="0.90"/><circle cx="783.6" cy="1077.5" r="1.8" opacity="1.00"/><circle cx="778.0" cy="1080.6" r="1.0" opacity="0.20"/><circle cx="794.2" cy="1077.6" r="1.0" opacity="0.30"/><circle cx="788.7" cy="1080.7" r="1.0" opacity="0.20"/><circle cx="805.4" cy="1077.4" r="1.0" opacity="0.30"/><circle cx="799.5" cy="1080.5" r="2.2" opacity="0.90"/><circle cx="816.3" cy="1077.3" r="1.9" opacity="1.00"/><circle cx="810.5" cy="1080.3" r="1.0" opacity="0.20"/><circle cx="484.2" cy="1086.7" r="1.0" opacity="0.20"/><circle cx="494.7" cy="1087.1" r="1.9" opacity="0.70"/><circle cx="489.4" cy="1090.2" r="1.0" opacity="0.30"/><circle cx="505.3" cy="1087.5" r="1.0" opacity="0.30"/><circle cx="500.1" cy="1090.5" r="1.0" opacity="0.20"/><circle cx="515.9" cy="1087.1" r="1.0" opacity="0.30"/><circle cx="510.7" cy="1090.5" r="1.8" opacity="0.70"/><circle cx="526.8" cy="1086.7" r="2.1" opacity="0.50"/><circle cx="521.5" cy="1089.8" r="1.0" opacity="0.20"/><circle cx="537.8" cy="1087.2" r="1.0" opacity="0.10"/><circle cx="532.3" cy="1090.0" r="1.0" opacity="0.10"/><circle cx="549.1" cy="1087.5" r="1.0" opacity="0.30"/><circle cx="543.7" cy="1090.6" r="1.6" opacity="0.90"/><circle cx="559.7" cy="1087.2" r="2.3" opacity="0.70"/><circle cx="554.7" cy="1090.6" r="1.0" opacity="0.20"/><circle cx="570.3" cy="1087.2" r="1.0" opacity="0.10"/><circle cx="564.9" cy="1090.2" r="1.0" opacity="0.20"/><circle cx="581.7" cy="1087.5" r="1.0" opacity="0.10"/><circle cx="575.8" cy="1090.5" r="2.3" opacity="0.90"/><circle cx="592.3" cy="1087.1" r="1.6" opacity="0.50"/><circle cx="587.0" cy="1090.4" r="1.0" opacity="0.20"/><circle cx="603.3" cy="1087.1" r="1.0" opacity="0.20"/><circle cx="597.5" cy="1090.3" r="1.0" opacity="0.20"/><circle cx="614.7" cy="1087.0" r="1.0" opacity="0.20"/><circle cx="609.2" cy="1090.3" r="2.2" opacity="1.00"/><circle cx="624.8" cy="1087.5" r="2.1" opacity="0.70"/><circle cx="619.8" cy="1090.4" r="1.0" opacity="0.30"/><circle cx="636.3" cy="1087.3" r="1.0" opacity="0.10"/><circle cx="630.5" cy="1090.7" r="1.0" opacity="0.10"/><circle cx="647.2" cy="1086.9" r="1.0" opacity="0.30"/><circle cx="641.9" cy="1090.1" r="2.0" opacity="1.00"/><circle cx="657.8" cy="1087.1" r="1.9" opacity="1.00"/><circle cx="652.3" cy="1090.3" r="1.0" opacity="0.30"/><circle cx="668.9" cy="1087.1" r="1.0" opacity="0.10"/><circle cx="663.4" cy="1090.4" r="1.0" opacity="0.20"/><circle cx="679.7" cy="1087.3" r="1.0" opacity="0.20"/><circle cx="674.6" cy="1090.4" r="1.9" opacity="0.70"/><circle cx="690.3" cy="1087.3" r="1.7" opacity="1.00"/><circle cx="685.1" cy="1090.8" r="1.0" opacity="0.20"/><circle cx="701.6" cy="1086.7" r="1.0" opacity="0.10"/><circle cx="695.9" cy="1090.2" r="1.0" opacity="0.30"/><circle cx="712.6" cy="1086.9" r="1.0" opacity="0.10"/><circle cx="707.0" cy="1089.9" r="1.7" opacity="0.70"/><circle cx="723.7" cy="1087.2" r="1.6" opacity="0.90"/><circle cx="718.0" cy="1090.3" r="1.0" opacity="0.30"/><circle cx="734.5" cy="1087.0" r="1.0" opacity="0.20"/><circle cx="728.9" cy="1090.5" r="1.0" opacity="0.30"/><circle cx="745.1" cy="1086.7" r="1.0" opacity="0.10"/><circle cx="739.7" cy="1090.3" r="1.8" opacity="1.00"/><circle cx="755.8" cy="1087.3" r="1.8" opacity="0.50"/><circle cx="750.1" cy="1090.3" r="1.0" opacity="0.20"/><circle cx="766.7" cy="1087.4" r="1.0" opacity="0.10"/><circle cx="761.2" cy="1090.8" r="1.0" opacity="0.20"/><circle cx="777.9" cy="1087.2" r="1.0" opacity="0.20"/><circle cx="772.1" cy="1090.5" r="1.7" opacity="0.70"/><circle cx="788.7" cy="1086.9" r="1.8" opacity="0.50"/><circle cx="783.5" cy="1090.2" r="1.0" opacity="0.10"/><circle cx="799.5" cy="1087.0" r="1.0" opacity="0.10"/><circle cx="794.2" cy="1090.3" r="1.0" opacity="0.10"/><circle cx="810.5" cy="1086.7" r="1.0" opacity="0.10"/><circle cx="805.3" cy="1090.4" r="2.0" opacity="0.70"/><circle cx="815.9" cy="1090.3" r="1.0" opacity="0.20"/><circle cx="489.1" cy="1096.6" r="1.0" opacity="0.30"/><circle cx="483.5" cy="1099.9" r="1.0" opacity="0.20"/><circle cx="500.2" cy="1096.6" r="1.0" opacity="0.20"/><circle cx="494.5" cy="1099.7" r="1.7" opacity="1.00"/><circle cx="510.9" cy="1096.4" r="2.0" opacity="1.00"/><circle cx="505.7" cy="1099.5" r="1.0" opacity="0.30"/><circle cx="521.3" cy="1096.0" r="1.0" opacity="0.30"/><circle cx="516.0" cy="1099.2" r="1.0" opacity="0.10"/><circle cx="532.8" cy="1096.6" r="1.0" opacity="0.30"/><circle cx="527.1" cy="1099.5" r="2.1" opacity="1.00"/><circle cx="543.8" cy="1096.7" r="2.1" opacity="0.70"/><circle cx="538.3" cy="1099.9" r="1.0" opacity="0.10"/><circle cx="554.8" cy="1096.9" r="1.0" opacity="0.10"/><circle cx="549.4" cy="1099.9" r="1.0" opacity="0.10"/><circle cx="565.1" cy="1096.6" r="1.0" opacity="0.10"/><circle cx="560.0" cy="1099.9" r="2.0" opacity="0.70"/><circle cx="576.0" cy="1096.3" r="2.0" opacity="0.90"/><circle cx="570.6" cy="1099.4" r="1.0" opacity="0.20"/><circle cx="586.6" cy="1096.6" r="1.0" opacity="0.10"/><circle cx="581.6" cy="1099.5" r="1.0" opacity="0.20"/><circle cx="597.6" cy="1096.6" r="1.0" opacity="0.20"/><circle cx="592.0" cy="1099.6" r="2.2" opacity="1.00"/><circle cx="609.1" cy="1096.6" r="1.8" opacity="0.50"/><circle cx="603.3" cy="1099.6" r="1.0" opacity="0.20"/><circle cx="619.8" cy="1096.6" r="1.0" opacity="0.20"/><circle cx="614.6" cy="1099.5" r="1.0" opacity="0.20"/><circle cx="630.8" cy="1096.6" r="1.0" opacity="0.10"/><circle cx="625.1" cy="1099.6" r="1.9" opacity="0.90"/><circle cx="641.8" cy="1096.3" r="2.1" opacity="0.90"/><circle cx="636.5" cy="1099.4" r="1.0" opacity="0.10"/><circle cx="652.3" cy="1096.5" r="1.0" opacity="0.30"/><circle cx="647.1" cy="1099.3" r="1.0" opacity="0.20"/><circle cx="663.7" cy="1096.7" r="1.0" opacity="0.20"/><circle cx="658.1" cy="1099.7" r="1.8" opacity="0.90"/><circle cx="674.7" cy="1096.7" r="1.6" opacity="1.00"/><circle cx="669.3" cy="1099.7" r="1.0" opacity="0.20"/><circle cx="685.2" cy="1097.1" r="1.0" opacity="0.30"/><circle cx="679.9" cy="1099.9" r="1.0" opacity="0.10"/><circle cx="696.1" cy="1096.8" r="1.0" opacity="0.20"/><circle cx="690.7" cy="1100.2" r="2.1" opacity="0.90"/><circle cx="706.8" cy="1096.5" r="2.2" opacity="0.50"/><circle cx="701.7" cy="1099.9" r="1.0" opacity="0.10"/><circle cx="717.9" cy="1096.7" r="1.0" opacity="0.20"/><circle cx="712.4" cy="1100.0" r="1.0" opacity="0.30"/><circle cx="728.7" cy="1096.9" r="1.0" opacity="0.30"/><circle cx="723.5" cy="1100.0" r="1.9" opacity="1.00"/><circle cx="739.6" cy="1097.0" r="1.9" opacity="0.90"/><circle cx="734.1" cy="1100.1" r="1.0" opacity="0.30"/><circle cx="750.3" cy="1096.8" r="1.0" opacity="0.30"/><circle cx="745.1" cy="1099.9" r="1.0" opacity="0.10"/><circle cx="761.1" cy="1097.2" r="1.0" opacity="0.20"/><circle cx="755.8" cy="1100.2" r="1.9" opacity="0.90"/><circle cx="772.1" cy="1096.6" r="2.1" opacity="1.00"/><circle cx="766.6" cy="1099.9" r="1.0" opacity="0.30"/><circle cx="783.5" cy="1096.7" r="1.0" opacity="0.20"/><circle cx="777.9" cy="1099.7" r="1.0" opacity="0.10"/><circle cx="794.6" cy="1096.8" r="1.0" opacity="0.30"/><circle cx="789.0" cy="1099.8" r="1.8" opacity="1.00"/><circle cx="805.6" cy="1096.8" r="2.0" opacity="0.50"/><circle cx="800.1" cy="1099.9" r="1.0" opacity="0.20"/><circle cx="816.0" cy="1096.6" r="1.0" opacity="0.10"/><circle cx="810.9" cy="1099.4" r="1.0" opacity="0.10"/><circle cx="483.1" cy="1106.2" r="2.1" opacity="0.70"/><circle cx="494.5" cy="1105.8" r="1.0" opacity="0.30"/><circle cx="488.7" cy="1109.1" r="1.0" opacity="0.20"/><circle cx="505.3" cy="1105.7" r="1.0" opacity="0.20"/><circle cx="499.8" cy="1109.0" r="2.1" opacity="1.00"/><circle cx="516.0" cy="1105.5" r="2.1" opacity="0.50"/><circle cx="510.6" cy="1108.9" r="1.0" opacity="0.30"/><circle cx="527.1" cy="1106.0" r="1.0" opacity="0.20"/><circle cx="521.4" cy="1108.8" r="1.0" opacity="0.10"/><circle cx="538.3" cy="1105.9" r="1.0" opacity="0.20"/><circle cx="532.6" cy="1109.1" r="1.8" opacity="1.00"/><circle cx="549.3" cy="1106.3" r="2.1" opacity="0.70"/><circle cx="543.7" cy="1109.1" r="1.0" opacity="0.20"/><circle cx="560.0" cy="1106.4" r="1.0" opacity="0.30"/><circle cx="554.8" cy="1109.7" r="1.0" opacity="0.10"/><circle cx="570.8" cy="1106.0" r="1.0" opacity="0.30"/><circle cx="565.3" cy="1109.6" r="2.0" opacity="1.00"/><circle cx="581.5" cy="1105.9" r="2.0" opacity="0.70"/><circle cx="576.2" cy="1109.2" r="1.0" opacity="0.10"/><circle cx="592.2" cy="1106.1" r="1.0" opacity="0.10"/><circle cx="586.8" cy="1109.5" r="1.0" opacity="0.20"/><circle cx="603.1" cy="1105.9" r="1.0" opacity="0.30"/><circle cx="597.6" cy="1109.5" r="2.2" opacity="1.00"/><circle cx="614.2" cy="1105.7" r="1.9" opacity="1.00"/><circle cx="608.5" cy="1109.2" r="1.0" opacity="0.30"/><circle cx="625.5" cy="1105.5" r="1.0" opacity="0.30"/><circle cx="619.9" cy="1108.8" r="1.0" opacity="0.20"/><circle cx="636.1" cy="1105.6" r="1.0" opacity="0.20"/><circle cx="630.8" cy="1108.7" r="1.9" opacity="1.00"/><circle cx="647.1" cy="1105.3" r="1.9" opacity="0.70"/><circle cx="641.4" cy="1108.6" r="1.0" opacity="0.10"/><circle cx="658.5" cy="1106.0" r="1.0" opacity="0.30"/><circle cx="652.7" cy="1108.9" r="1.0" opacity="0.30"/><circle cx="669.0" cy="1105.9" r="1.0" opacity="0.30"/><circle cx="663.8" cy="1109.3" r="1.8" opacity="0.50"/><circle cx="679.8" cy="1105.8" r="1.6" opacity="0.90"/><circle cx="674.3" cy="1108.8" r="1.0" opacity="0.10"/><circle cx="690.6" cy="1106.4" r="1.0" opacity="0.30"/><circle cx="685.1" cy="1109.2" r="1.0" opacity="0.30"/><circle cx="701.6" cy="1106.4" r="1.0" opacity="0.10"/><circle cx="695.9" cy="1109.5" r="2.0" opacity="1.00"/><circle cx="712.9" cy="1106.7" r="1.8" opacity="0.70"/><circle cx="707.1" cy="1109.7" r="1.0" opacity="0.10"/><circle cx="723.5" cy="1106.0" r="1.0" opacity="0.20"/><circle cx="718.3" cy="1109.4" r="1.0" opacity="0.30"/><circle cx="734.1" cy="1106.4" r="1.0" opacity="0.10"/><circle cx="728.6" cy="1109.2" r="2.2" opacity="0.90"/><circle cx="745.4" cy="1106.1" r="1.9" opacity="1.00"/><circle cx="739.8" cy="1109.4" r="1.0" opacity="0.20"/><circle cx="756.2" cy="1106.2" r="1.0" opacity="0.10"/><circle cx="751.0" cy="1108.9" r="1.0" opacity="0.20"/><circle cx="766.8" cy="1105.8" r="1.0" opacity="0.30"/><circle cx="761.6" cy="1109.1" r="2.0" opacity="0.50"/><circle cx="778.1" cy="1106.2" r="2.1" opacity="1.00"/><circle cx="772.5" cy="1109.0" r="1.0" opacity="0.20"/><circle cx="788.8" cy="1106.3" r="1.0" opacity="0.20"/><circle cx="783.5" cy="1109.7" r="1.0" opacity="0.30"/><circle cx="799.7" cy="1106.2" r="1.0" opacity="0.20"/><circle cx="794.0" cy="1109.5" r="2.0" opacity="0.90"/><circle cx="810.5" cy="1105.5" r="1.8" opacity="0.90"/><circle cx="804.8" cy="1109.0" r="1.0" opacity="0.20"/><circle cx="815.9" cy="1108.6" r="1.0" opacity="0.10"/><circle cx="488.9" cy="1115.2" r="1.0" opacity="0.30"/><circle cx="483.7" cy="1118.6" r="2.2" opacity="1.00"/><circle cx="499.8" cy="1115.7" r="1.9" opacity="0.50"/><circle cx="494.7" cy="1118.6" r="1.0" opacity="0.20"/><circle cx="510.5" cy="1115.2" r="1.0" opacity="0.30"/><circle cx="505.2" cy="1118.7" r="1.0" opacity="0.20"/><circle cx="521.5" cy="1115.1" r="1.0" opacity="0.30"/><circle cx="516.1" cy="1118.1" r="2.3" opacity="0.70"/><circle cx="532.5" cy="1115.0" r="1.7" opacity="0.50"/><circle cx="527.0" cy="1118.3" r="1.0" opacity="0.30"/><circle cx="543.4" cy="1115.3" r="1.0" opacity="0.20"/><circle cx="537.9" cy="1118.1" r="1.0" opacity="0.10"/><circle cx="554.8" cy="1116.0" r="1.0" opacity="0.30"/><circle cx="549.1" cy="1118.9" r="2.2" opacity="0.50"/><circle cx="565.3" cy="1115.9" r="2.3" opacity="0.90"/><circle cx="560.0" cy="1119.0" r="1.0" opacity="0.30"/><circle cx="576.2" cy="1115.8" r="1.0" opacity="0.30"/><circle cx="570.8" cy="1118.9" r="1.0" opacity="0.30"/><circle cx="586.8" cy="1115.7" r="1.0" opacity="0.30"/><circle cx="581.6" cy="1118.7" r="2.2" opacity="0.70"/><circle cx="598.0" cy="1115.9" r="2.2" opacity="0.50"/><circle cx="592.7" cy="1118.8" r="1.0" opacity="0.20"/><circle cx="608.4" cy="1115.7" r="1.0" opacity="0.10"/><circle cx="603.3" cy="1118.9" r="1.0" opacity="0.20"/><circle cx="619.6" cy="1115.5" r="1.0" opacity="0.20"/><circle cx="613.8" cy="1118.9" r="2.2" opacity="0.90"/><circle cx="630.8" cy="1115.1" r="2.1" opacity="0.70"/><circle cx="625.2" cy="1118.6" r="1.0" opacity="0.20"/><circle cx="641.4" cy="1114.9" r="1.0" opacity="0.20"/><circle cx="636.0" cy="1118.3" r="1.0" opacity="0.10"/><circle cx="652.7" cy="1115.3" r="1.0" opacity="0.30"/><circle cx="647.0" cy="1118.0" r="2.0" opacity="1.00"/><circle cx="663.4" cy="1115.7" r="1.9" opacity="1.00"/><circle cx="658.1" cy="1118.8" r="1.0" opacity="0.30"/><circle cx="674.1" cy="1115.0" r="1.0" opacity="0.10"/><circle cx="668.4" cy="1118.6" r="1.0" opacity="0.30"/><circle cx="685.1" cy="1115.3" r="1.0" opacity="0.30"/><circle cx="679.7" cy="1118.1" r="2.2" opacity="0.70"/><circle cx="695.6" cy="1115.7" r="2.0" opacity="1.00"/><circle cx="690.4" cy="1118.7" r="1.0" opacity="0.10"/><circle cx="707.0" cy="1115.9" r="1.0" opacity="0.30"/><circle cx="701.2" cy="1118.8" r="1.0" opacity="0.20"/><circle cx="718.4" cy="1115.3" r="1.0" opacity="0.30"/><circle cx="712.8" cy="1118.8" r="1.9" opacity="0.90"/><circle cx="728.7" cy="1115.6" r="1.9" opacity="0.70"/><circle cx="723.6" cy="1118.3" r="1.0" opacity="0.30"/><circle cx="739.7" cy="1115.7" r="1.0" opacity="0.30"/><circle cx="734.1" cy="1119.2" r="1.0" opacity="0.10"/><circle cx="751.0" cy="1115.0" r="1.0" opacity="0.30"/><circle cx="745.3" cy="1118.5" r="2.0" opacity="0.90"/><circle cx="761.7" cy="1115.3" r="2.0" opacity="0.70"/><circle cx="756.3" cy="1118.4" r="1.0" opacity="0.20"/><circle cx="772.5" cy="1115.6" r="1.0" opacity="0.10"/><circle cx="766.9" cy="1118.6" r="1.0" opacity="0.20"/><circle cx="783.5" cy="1115.8" r="1.0" opacity="0.30"/><circle cx="778.1" cy="1118.9" r="2.0" opacity="0.70"/><circle cx="793.9" cy="1115.9" r="2.1" opacity="0.70"/><circle cx="788.7" cy="1118.9" r="1.0" opacity="0.10"/><circle cx="804.8" cy="1115.4" r="1.0" opacity="0.20"/><circle cx="799.6" cy="1119.0" r="1.0" opacity="0.10"/><circle cx="816.1" cy="1115.0" r="1.0" opacity="0.30"/><circle cx="810.6" cy="1118.2" r="2.0" opacity="1.00"/><circle cx="484.0" cy="1124.7" r="1.0" opacity="0.10"/><circle cx="494.7" cy="1124.8" r="1.0" opacity="0.30"/><circle cx="489.3" cy="1127.5" r="1.9" opacity="0.90"/><circle cx="505.4" cy="1125.0" r="1.8" opacity="0.90"/><circle cx="500.0" cy="1128.3" r="1.0" opacity="0.30"/><circle cx="516.2" cy="1124.7" r="1.0" opacity="0.30"/><circle cx="510.9" cy="1128.1" r="1.0" opacity="0.10"/><circle cx="527.0" cy="1124.6" r="1.0" opacity="0.10"/><circle cx="521.6" cy="1128.1" r="2.3" opacity="1.00"/><circle cx="537.8" cy="1124.6" r="1.7" opacity="0.50"/><circle cx="532.4" cy="1127.9" r="1.0" opacity="0.10"/><circle cx="548.9" cy="1124.6" r="1.0" opacity="0.20"/><circle cx="543.2" cy="1127.7" r="1.0" opacity="0.20"/><circle cx="559.9" cy="1125.2" r="1.0" opacity="0.20"/><circle cx="554.5" cy="1128.0" r="1.9" opacity="0.90"/><circle cx="570.9" cy="1125.2" r="1.8" opacity="0.70"/><circle cx="565.3" cy="1128.4" r="1.0" opacity="0.10"/><circle cx="581.5" cy="1124.6" r="1.0" opacity="0.10"/><circle cx="576.3" cy="1128.1" r="1.0" opacity="0.20"/><circle cx="592.4" cy="1124.9" r="1.0" opacity="0.30"/><circle cx="586.5" cy="1127.7" r="1.7" opacity="0.90"/><circle cx="603.5" cy="1125.0" r="1.8" opacity="0.70"/><circle cx="597.9" cy="1128.1" r="1.0" opacity="0.20"/><circle cx="613.9" cy="1125.4" r="1.0" opacity="0.10"/><circle cx="608.6" cy="1128.2" r="1.0" opacity="0.10"/><circle cx="624.8" cy="1125.4" r="1.0" opacity="0.30"/><circle cx="619.2" cy="1128.7" r="1.9" opacity="0.90"/><circle cx="636.2" cy="1124.7" r="2.2" opacity="1.00"/><circle cx="630.5" cy="1128.3" r="1.0" opacity="0.20"/><circle cx="647.3" cy="1124.4" r="1.0" opacity="0.10"/><circle cx="641.8" cy="1127.7" r="1.0" opacity="0.30"/><circle cx="657.7" cy="1124.8" r="1.0" opacity="0.20"/><circle cx="652.5" cy="1127.7" r="1.6" opacity="0.90"/><circle cx="668.3" cy="1124.8" r="2.0" opacity="1.00"/><circle cx="662.8" cy="1128.0" r="1.0" opacity="0.30"/><circle cx="679.7" cy="1124.6" r="1.0" opacity="0.20"/><circle cx="673.9" cy="1127.8" r="1.0" opacity="0.10"/><circle cx="690.5" cy="1124.8" r="1.0" opacity="0.20"/><circle cx="685.3" cy="1128.0" r="1.7" opacity="1.00"/><circle cx="701.0" cy="1125.3" r="1.6" opacity="0.50"/><circle cx="695.6" cy="1128.3" r="1.0" opacity="0.30"/><circle cx="712.4" cy="1124.7" r="1.0" opacity="0.10"/><circle cx="706.4" cy="1128.3" r="1.0" opacity="0.10"/><circle cx="723.4" cy="1124.9" r="1.0" opacity="0.30"/><circle cx="717.8" cy="1127.8" r="1.8" opacity="1.00"/><circle cx="734.3" cy="1125.4" r="1.7" opacity="1.00"/><circle cx="728.8" cy="1128.4" r="1.0" opacity="0.30"/><circle cx="744.9" cy="1124.9" r="1.0" opacity="0.20"/><circle cx="739.6" cy="1128.4" r="1.0" opacity="0.10"/><circle cx="756.0" cy="1124.6" r="1.0" opacity="0.20"/><circle cx="750.3" cy="1127.7" r="2.0" opacity="0.90"/><circle cx="767.2" cy="1124.8" r="1.8" opacity="0.70"/><circle cx="761.7" cy="1127.7" r="1.0" opacity="0.10"/><circle cx="777.9" cy="1125.1" r="1.0" opacity="0.30"/><circle cx="772.6" cy="1128.0" r="1.0" opacity="0.30"/><circle cx="789.2" cy="1124.9" r="1.0" opacity="0.30"/><circle cx="783.7" cy="1128.0" r="2.1" opacity="0.50"/><circle cx="799.7" cy="1125.2" r="2.2" opacity="1.00"/><circle cx="794.4" cy="1128.2" r="1.0" opacity="0.30"/><circle cx="810.6" cy="1124.6" r="1.0" opacity="0.30"/><circle cx="804.9" cy="1128.0" r="1.0" opacity="0.30"/><circle cx="816.2" cy="1127.5" r="2.2" opacity="1.00"/><circle cx="489.2" cy="1133.8" r="1.6" opacity="0.70"/><circle cx="483.6" cy="1137.0" r="1.0" opacity="0.20"/><circle cx="499.7" cy="1134.6" r="1.0" opacity="0.20"/><circle cx="494.2" cy="1137.4" r="1.0" opacity="0.10"/><circle cx="511.1" cy="1134.7" r="1.0" opacity="0.10"/><circle cx="505.2" cy="1138.0" r="1.9" opacity="0.50"/><circle cx="521.6" cy="1134.3" r="1.9" opacity="1.00"/><circle cx="516.4" cy="1137.6" r="1.0" opacity="0.10"/><circle cx="532.3" cy="1134.2" r="1.0" opacity="0.30"/><circle cx="526.9" cy="1137.2" r="1.0" opacity="0.10"/><circle cx="543.3" cy="1134.3" r="1.0" opacity="0.30"/><circle cx="537.9" cy="1137.6" r="1.9" opacity="1.00"/><circle cx="554.4" cy="1134.1" r="1.7" opacity="1.00"/><circle cx="548.9" cy="1137.4" r="1.0" opacity="0.10"/><circle cx="565.6" cy="1134.7" r="1.0" opacity="0.20"/><circle cx="560.1" cy="1137.6" r="1.0" opacity="0.20"/><circle cx="575.8" cy="1134.3" r="1.0" opacity="0.30"/><circle cx="570.8" cy="1137.7" r="2.0" opacity="1.00"/><circle cx="586.8" cy="1133.9" r="1.8" opacity="0.90"/><circle cx="581.3" cy="1137.0" r="1.0" opacity="0.10"/><circle cx="597.6" cy="1134.4" r="1.0" opacity="0.30"/><circle cx="592.3" cy="1137.3" r="1.0" opacity="0.10"/><circle cx="608.9" cy="1134.5" r="1.0" opacity="0.20"/><circle cx="603.5" cy="1137.6" r="1.7" opacity="0.50"/><circle cx="619.7" cy="1134.7" r="2.1" opacity="1.00"/><circle cx="614.6" cy="1137.7" r="1.0" opacity="0.30"/><circle cx="630.5" cy="1134.7" r="1.0" opacity="0.10"/><circle cx="625.2" cy="1137.8" r="1.0" opacity="0.30"/><circle cx="641.7" cy="1134.4" r="1.0" opacity="0.10"/><circle cx="636.1" cy="1137.8" r="1.9" opacity="0.90"/><circle cx="652.3" cy="1134.0" r="2.3" opacity="1.00"/><circle cx="647.0" cy="1137.4" r="1.0" opacity="0.10"/><circle cx="662.8" cy="1134.1" r="1.0" opacity="0.30"/><circle cx="657.4" cy="1137.3" r="1.0" opacity="0.20"/><circle cx="673.9" cy="1134.1" r="1.0" opacity="0.30"/><circle cx="668.3" cy="1137.2" r="1.7" opacity="0.50"/><circle cx="685.0" cy="1134.4" r="1.7" opacity="1.00"/><circle cx="679.5" cy="1137.3" r="1.0" opacity="0.20"/><circle cx="695.7" cy="1134.5" r="1.0" opacity="0.30"/><circle cx="690.3" cy="1137.5" r="1.0" opacity="0.30"/><circle cx="706.9" cy="1134.5" r="1.0" opacity="0.10"/><circle cx="701.5" cy="1137.7" r="1.6" opacity="1.00"/><circle cx="717.7" cy="1134.1" r="1.7" opacity="1.00"/><circle cx="712.7" cy="1137.3" r="1.0" opacity="0.20"/><circle cx="728.7" cy="1134.3" r="1.0" opacity="0.20"/><circle cx="723.3" cy="1137.2" r="1.0" opacity="0.20"/><circle cx="739.7" cy="1134.4" r="1.0" opacity="0.10"/><circle cx="734.5" cy="1137.3" r="2.1" opacity="1.00"/><circle cx="750.2" cy="1133.9" r="2.1" opacity="0.90"/><circle cx="744.9" cy="1137.1" r="1.0" opacity="0.20"/><circle cx="761.5" cy="1133.8" r="1.0" opacity="0.20"/><circle cx="755.7" cy="1136.9" r="1.0" opacity="0.10"/><circle cx="772.6" cy="1134.4" r="1.0" opacity="0.20"/><circle cx="767.0" cy="1137.3" r="1.6" opacity="0.50"/><circle cx="783.7" cy="1134.1" r="1.9" opacity="0.90"/><circle cx="777.9" cy="1137.7" r="1.0" opacity="0.30"/><circle cx="794.4" cy="1134.1" r="1.0" opacity="0.10"/><circle cx="789.0" cy="1137.0" r="1.0" opacity="0.30"/><circle cx="805.1" cy="1134.2" r="1.0" opacity="0.30"/><circle cx="799.8" cy="1137.3" r="2.2" opacity="1.00"/><circle cx="816.1" cy="1134.1" r="1.9" opacity="1.00"/><circle cx="810.7" cy="1137.4" r="1.0" opacity="0.30"/><circle cx="483.7" cy="1143.2" r="1.0" opacity="0.20"/><circle cx="494.1" cy="1143.7" r="1.7" opacity="0.90"/><circle cx="489.1" cy="1146.4" r="1.0" opacity="0.20"/><circle cx="505.0" cy="1144.4" r="1.0" opacity="0.30"/><circle cx="499.3" cy="1147.3" r="1.0" opacity="0.30"/><circle cx="516.2" cy="1143.9" r="1.0" opacity="0.10"/><circle cx="510.6" cy="1147.4" r="2.2" opacity="1.00"/><circle cx="527.0" cy="1143.3" r="1.9" opacity="1.00"/><circle cx="521.5" cy="1146.7" r="1.0" opacity="0.10"/><circle cx="538.0" cy="1143.7" r="1.0" opacity="0.30"/><circle cx="532.6" cy="1146.4" r="1.0" opacity="0.10"/><circle cx="548.6" cy="1143.7" r="1.0" opacity="0.30"/><circle cx="543.2" cy="1146.8" r="2.1" opacity="0.70"/><circle cx="560.1" cy="1143.5" r="2.3" opacity="1.00"/><circle cx="554.1" cy="1146.4" r="1.0" opacity="0.20"/><circle cx="570.7" cy="1143.7" r="1.0" opacity="0.30"/><circle cx="565.5" cy="1146.7" r="1.0" opacity="0.30"/><circle cx="581.5" cy="1143.3" r="1.0" opacity="0.30"/><circle cx="575.9" cy="1146.6" r="2.3" opacity="1.00"/><circle cx="592.7" cy="1143.5" r="1.9" opacity="1.00"/><circle cx="587.3" cy="1146.3" r="1.0" opacity="0.10"/><circle cx="603.7" cy="1144.0" r="1.0" opacity="0.30"/><circle cx="598.1" cy="1147.0" r="1.0" opacity="0.20"/><circle cx="614.6" cy="1143.6" r="1.0" opacity="0.10"/><circle cx="609.0" cy="1146.9" r="1.8" opacity="1.00"/><circle cx="625.3" cy="1144.0" r="2.1" opacity="0.70"/><circle cx="619.7" cy="1146.8" r="1.0" opacity="0.10"/><circle cx="636.0" cy="1144.0" r="1.0" opacity="0.30"/><circle cx="630.5" cy="1147.1" r="1.0" opacity="0.30"/><circle cx="647.0" cy="1143.7" r="1.0" opacity="0.30"/><circle cx="641.7" cy="1146.9" r="1.9" opacity="0.50"/><circle cx="657.5" cy="1143.6" r="2.3" opacity="1.00"/><circle cx="652.4" cy="1146.6" r="1.0" opacity="0.20"/><circle cx="668.4" cy="1143.4" r="1.0" opacity="0.20"/><circle cx="663.0" cy="1146.6" r="1.0" opacity="0.30"/><circle cx="679.2" cy="1143.7" r="1.0" opacity="0.10"/><circle cx="673.7" cy="1146.6" r="1.9" opacity="0.70"/><circle cx="690.4" cy="1143.9" r="1.8" opacity="1.00"/><circle cx="684.8" cy="1147.1" r="1.0" opacity="0.30"/><circle cx="702.0" cy="1143.7" r="1.0" opacity="0.10"/><circle cx="696.3" cy="1146.9" r="1.0" opacity="0.30"/><circle cx="713.0" cy="1143.9" r="1.0" opacity="0.30"/><circle cx="707.6" cy="1147.1" r="2.2" opacity="0.70"/><circle cx="723.3" cy="1143.5" r="1.9" opacity="0.50"/><circle cx="718.0" cy="1147.1" r="1.0" opacity="0.10"/><circle cx="734.4" cy="1143.7" r="1.0" opacity="0.30"/><circle cx="728.7" cy="1147.0" r="1.0" opacity="0.10"/><circle cx="745.3" cy="1143.3" r="1.0" opacity="0.20"/><circle cx="740.1" cy="1146.9" r="1.7" opacity="1.00"/><circle cx="755.8" cy="1143.2" r="1.8" opacity="0.70"/><circle cx="750.7" cy="1146.3" r="1.0" opacity="0.10"/><circle cx="766.7" cy="1143.8" r="1.0" opacity="0.20"/><circle cx="761.4" cy="1146.5" r="1.0" opacity="0.10"/><circle cx="777.7" cy="1143.8" r="1.0" opacity="0.30"/><circle cx="772.1" cy="1147.0" r="1.6" opacity="0.70"/><circle cx="788.7" cy="1143.5" r="1.8" opacity="1.00"/><circle cx="783.1" cy="1146.7" r="1.0" opacity="0.20"/><circle cx="799.7" cy="1143.3" r="1.0" opacity="0.10"/><circle cx="793.9" cy="1146.5" r="1.0" opacity="0.10"/><circle cx="810.9" cy="1143.8" r="1.0" opacity="0.30"/><circle cx="805.2" cy="1146.6" r="2.0" opacity="0.90"/><circle cx="815.9" cy="1147.1" r="1.0" opacity="0.10"/><circle cx="489.0" cy="1152.8" r="1.0" opacity="0.20"/><circle cx="483.5" cy="1155.8" r="1.0" opacity="0.30"/><circle cx="499.4" cy="1153.4" r="1.0" opacity="0.10"/><circle cx="494.1" cy="1156.3" r="2.1" opacity="1.00"/><circle cx="510.6" cy="1153.6" r="1.6" opacity="0.70"/><circle cx="505.0" cy="1156.6" r="1.0" opacity="0.30"/><circle cx="521.7" cy="1152.9" r="1.0" opacity="0.20"/><circle cx="516.4" cy="1156.3" r="1.0" opacity="0.10"/><circle cx="532.5" cy="1152.8" r="1.0" opacity="0.10"/><circle cx="527.2" cy="1155.8" r="2.2" opacity="1.00"/><circle cx="543.0" cy="1152.8" r="1.7" opacity="0.50"/><circle cx="537.7" cy="1156.1" r="1.0" opacity="0.20"/><circle cx="554.0" cy="1152.8" r="1.0" opacity="0.30"/><circle cx="548.2" cy="1156.1" r="1.0" opacity="0.30"/><circle cx="565.3" cy="1152.9" r="1.0" opacity="0.30"/><circle cx="559.7" cy="1156.1" r="1.7" opacity="0.50"/><circle cx="576.0" cy="1152.8" r="1.9" opacity="0.50"/><circle cx="570.6" cy="1156.2" r="1.0" opacity="0.30"/><circle cx="587.0" cy="1152.8" r="1.0" opacity="0.30"/><circle cx="581.3" cy="1155.9" r="1.0" opacity="0.30"/><circle cx="598.4" cy="1153.2" r="1.0" opacity="0.10"/><circle cx="592.6" cy="1156.2" r="1.8" opacity="1.00"/><circle cx="608.7" cy="1153.2" r="2.1" opacity="0.70"/><circle cx="603.7" cy="1156.6" r="1.0" opacity="0.20"/><circle cx="619.3" cy="1153.1" r="1.0" opacity="0.20"/><circle cx="613.9" cy="1156.3" r="1.0" opacity="0.10"/><circle cx="630.6" cy="1153.5" r="1.0" opacity="0.10"/><circle cx="625.0" cy="1156.7" r="2.3" opacity="0.50"/><circle cx="641.7" cy="1153.0" r="2.1" opacity="1.00"/><circle cx="636.1" cy="1156.6" r="1.0" opacity="0.30"/><circle cx="652.8" cy="1153.1" r="1.0" opacity="0.10"/><circle cx="647.4" cy="1156.4" r="1.0" opacity="0.20"/><circle cx="663.2" cy="1152.9" r="1.0" opacity="0.20"/><circle cx="658.1" cy="1156.5" r="1.7" opacity="1.00"/><circle cx="673.8" cy="1153.0" r="2.2" opacity="0.90"/><circle cx="668.7" cy="1156.1" r="1.0" opacity="0.10"/><circle cx="684.9" cy="1153.6" r="1.0" opacity="0.30"/><circle cx="679.3" cy="1156.5" r="1.0" opacity="0.10"/><circle cx="696.6" cy="1153.2" r="1.0" opacity="0.30"/><circle cx="690.8" cy="1156.6" r="2.1" opacity="1.00"/><circle cx="707.6" cy="1153.1" r="2.2" opacity="1.00"/><circle cx="702.2" cy="1155.9" r="1.0" opacity="0.30"/><circle cx="717.6" cy="1153.5" r="1.0" opacity="0.20"/><circle cx="712.6" cy="1156.3" r="1.0" opacity="0.10"/><circle cx="728.6" cy="1153.5" r="1.0" opacity="0.20"/><circle cx="722.9" cy="1156.4" r="1.9" opacity="0.70"/><circle cx="740.2" cy="1153.1" r="2.0" opacity="0.90"/><circle cx="734.5" cy="1156.3" r="1.0" opacity="0.30"/><circle cx="750.7" cy="1152.7" r="1.0" opacity="0.20"/><circle cx="745.4" cy="1155.9" r="1.0" opacity="0.10"/><circle cx="761.6" cy="1152.8" r="1.0" opacity="0.20"/><circle cx="756.1" cy="1155.8" r="1.9" opacity="1.00"/><circle cx="771.9" cy="1153.1" r="2.2" opacity="0.90"/><circle cx="766.7" cy="1156.2" r="1.0" opacity="0.10"/><circle cx="782.9" cy="1153.0" r="1.0" opacity="0.20"/><circle cx="777.3" cy="1156.2" r="1.0" opacity="0.30"/><circle cx="794.0" cy="1153.1" r="1.0" opacity="0.20"/><circle cx="788.6" cy="1156.3" r="2.0" opacity="1.00"/><circle cx="805.0" cy="1153.1" r="2.3" opacity="1.00"/><circle cx="799.6" cy="1156.3" r="1.0" opacity="0.10"/><circle cx="815.8" cy="1153.5" r="1.0" opacity="0.10"/><circle cx="810.6" cy="1156.6" r="1.0" opacity="0.30"/><circle cx="483.6" cy="1162.3" r="2.1" opacity="0.70"/><circle cx="494.1" cy="1162.8" r="1.0" opacity="0.20"/><circle cx="489.1" cy="1165.9" r="1.0" opacity="0.20"/><circle cx="505.2" cy="1162.8" r="1.0" opacity="0.30"/><circle cx="499.5" cy="1166.2" r="1.8" opacity="0.50"/><circle cx="516.6" cy="1162.5" r="1.8" opacity="0.50"/><circle cx="510.9" cy="1166.0" r="1.0" opacity="0.30"/><circle cx="527.4" cy="1162.5" r="1.0" opacity="0.10"/><circle cx="522.2" cy="1165.8" r="1.0" opacity="0.10"/><circle cx="537.6" cy="1162.6" r="1.0" opacity="0.30"/><circle cx="532.6" cy="1166.0" r="1.8" opacity="1.00"/><circle cx="548.5" cy="1162.6" r="1.6" opacity="1.00"/><circle cx="543.1" cy="1165.8" r="1.0" opacity="0.10"/><circle cx="559.6" cy="1162.5" r="1.0" opacity="0.30"/><circle cx="554.1" cy="1165.7" r="1.0" opacity="0.10"/><circle cx="570.8" cy="1162.5" r="1.0" opacity="0.20"/><circle cx="565.4" cy="1165.7" r="1.9" opacity="0.50"/><circle cx="581.2" cy="1162.3" r="1.7" opacity="1.00"/><circle cx="576.1" cy="1165.5" r="1.0" opacity="0.30"/><circle cx="592.4" cy="1162.4" r="1.0" opacity="0.30"/><circle cx="586.6" cy="1165.4" r="1.0" opacity="0.30"/><circle cx="603.5" cy="1162.6" r="1.0" opacity="0.30"/><circle cx="598.1" cy="1165.5" r="2.3" opacity="1.00"/><circle cx="613.8" cy="1162.5" r="2.0" opacity="1.00"/><circle cx="608.5" cy="1165.4" r="1.0" opacity="0.10"/><circle cx="624.9" cy="1163.0" r="1.0" opacity="0.20"/><circle cx="619.2" cy="1165.6" r="1.0" opacity="0.10"/><circle cx="635.9" cy="1162.9" r="1.0" opacity="0.10"/><circle cx="630.3" cy="1166.1" r="2.0" opacity="1.00"/><circle cx="647.4" cy="1162.8" r="1.9" opacity="0.90"/><circle cx="641.5" cy="1165.8" r="1.0" opacity="0.20"/><circle cx="658.1" cy="1163.0" r="1.0" opacity="0.30"/><circle cx="652.7" cy="1166.1" r="1.0" opacity="0.30"/><circle cx="669.1" cy="1162.4" r="1.0" opacity="0.20"/><circle cx="663.5" cy="1165.8" r="1.7" opacity="1.00"/><circle cx="679.5" cy="1162.8" r="1.8" opacity="0.70"/><circle cx="674.3" cy="1165.5" r="1.0" opacity="0.30"/><circle cx="690.9" cy="1162.7" r="1.0" opacity="0.30"/><circle cx="685.1" cy="1165.9" r="1.0" opacity="0.30"/><circle cx="702.1" cy="1162.2" r="1.0" opacity="0.20"/><circle cx="696.6" cy="1165.5" r="2.2" opacity="1.00"/><circle cx="712.6" cy="1162.3" r="2.0" opacity="0.90"/><circle cx="707.4" cy="1165.3" r="1.0" opacity="0.20"/><circle cx="723.0" cy="1162.7" r="1.0" opacity="0.20"/><circle cx="717.7" cy="1165.8" r="1.0" opacity="0.10"/><circle cx="734.6" cy="1162.6" r="1.0" opacity="0.20"/><circle cx="728.8" cy="1166.0" r="1.8" opacity="0.70"/><circle cx="745.3" cy="1162.3" r="1.7" opacity="0.70"/><circle cx="740.2" cy="1165.7" r="1.0" opacity="0.10"/><circle cx="756.1" cy="1162.4" r="1.0" opacity="0.30"/><circle cx="750.6" cy="1165.7" r="1.0" opacity="0.30"/><circle cx="767.0" cy="1162.7" r="1.0" opacity="0.20"/><circle cx="761.9" cy="1165.9" r="2.1" opacity="1.00"/><circle cx="777.3" cy="1162.5" r="2.2" opacity="1.00"/><circle cx="772.1" cy="1165.9" r="1.0" opacity="0.20"/><circle cx="788.8" cy="1162.4" r="1.0" opacity="0.20"/><circle cx="783.1" cy="1165.4" r="1.0" opacity="0.20"/><circle cx="799.5" cy="1162.5" r="1.0" opacity="0.20"/><circle cx="794.1" cy="1165.5" r="2.3" opacity="0.70"/><circle cx="810.7" cy="1163.1" r="1.7" opacity="0.90"/><circle cx="805.0" cy="1165.8" r="1.0" opacity="0.20"/><circle cx="816.3" cy="1166.0" r="1.0" opacity="0.30"/><circle cx="489.2" cy="1172.1" r="1.0" opacity="0.10"/><circle cx="484.0" cy="1175.0" r="1.9" opacity="0.90"/><circle cx="499.9" cy="1172.7" r="1.9" opacity="0.70"/><circle cx="494.7" cy="1175.6" r="1.0" opacity="0.20"/><circle cx="510.6" cy="1172.4" r="1.0" opacity="0.10"/><circle cx="505.2" cy="1175.7" r="1.0" opacity="0.20"/><circle cx="521.8" cy="1172.1" r="1.0" opacity="0.20"/><circle cx="515.9" cy="1175.2" r="1.6" opacity="0.90"/><circle cx="532.6" cy="1172.4" r="1.6" opacity="0.90"/><circle cx="527.1" cy="1175.3" r="1.0" opacity="0.10"/><circle cx="543.6" cy="1172.0" r="1.0" opacity="0.30"/><circle cx="538.0" cy="1175.2" r="1.0" opacity="0.30"/><circle cx="554.2" cy="1171.7" r="1.0" opacity="0.10"/><circle cx="549.1" cy="1174.8" r="2.0" opacity="0.50"/><circle cx="565.4" cy="1172.0" r="1.9" opacity="0.70"/><circle cx="559.7" cy="1174.9" r="1.0" opacity="0.30"/><circle cx="576.1" cy="1171.9" r="1.0" opacity="0.30"/><circle cx="570.8" cy="1175.1" r="1.0" opacity="0.20"/><circle cx="587.0" cy="1172.0" r="1.0" opacity="0.10"/><circle cx="581.6" cy="1175.2" r="1.8" opacity="0.50"/><circle cx="597.8" cy="1171.7" r="2.0" opacity="0.70"/><circle cx="592.5" cy="1175.2" r="1.0" opacity="0.30"/><circle cx="608.7" cy="1171.8" r="1.0" opacity="0.20"/><circle cx="603.4" cy="1175.1" r="1.0" opacity="0.30"/><circle cx="619.6" cy="1171.9" r="1.0" opacity="0.10"/><circle cx="614.4" cy="1175.1" r="2.0" opacity="1.00"/><circle cx="630.4" cy="1172.2" r="1.7" opacity="1.00"/><circle cx="625.4" cy="1175.3" r="1.0" opacity="0.20"/><circle cx="641.7" cy="1171.9" r="1.0" opacity="0.20"/><circle cx="636.2" cy="1175.0" r="1.0" opacity="0.30"/><circle cx="652.3" cy="1172.1" r="1.0" opacity="0.30"/><circle cx="647.2" cy="1174.8" r="1.6" opacity="0.50"/><circle cx="663.6" cy="1171.9" r="1.7" opacity="0.50"/><circle cx="657.8" cy="1175.1" r="1.0" opacity="0.20"/><circle cx="674.4" cy="1171.6" r="1.0" opacity="0.20"/><circle cx="669.3" cy="1174.7" r="1.0" opacity="0.10"/><circle cx="685.1" cy="1171.8" r="1.0" opacity="0.10"/><circle cx="679.5" cy="1174.8" r="2.0" opacity="1.00"/><circle cx="696.4" cy="1171.7" r="1.8" opacity="0.70"/><circle cx="690.7" cy="1174.7" r="1.0" opacity="0.20"/><circle cx="707.3" cy="1171.7" r="1.0" opacity="0.10"/><circle cx="701.8" cy="1174.8" r="1.0" opacity="0.30"/><circle cx="717.8" cy="1172.1" r="1.0" opacity="0.30"/><circle cx="712.5" cy="1175.0" r="2.3" opacity="0.50"/><circle cx="728.8" cy="1172.3" r="2.0" opacity="0.50"/><circle cx="723.0" cy="1175.2" r="1.0" opacity="0.10"/><circle cx="739.7" cy="1172.0" r="1.0" opacity="0.20"/><circle cx="734.1" cy="1175.0" r="1.0" opacity="0.30"/><circle cx="751.0" cy="1172.0" r="1.0" opacity="0.20"/><circle cx="745.2" cy="1174.8" r="1.6" opacity="1.00"/><circle cx="761.6" cy="1172.1" r="2.0" opacity="0.70"/><circle cx="756.1" cy="1175.0" r="1.0" opacity="0.20"/><circle cx="772.4" cy="1172.4" r="1.0" opacity="0.20"/><circle cx="766.9" cy="1175.5" r="1.0" opacity="0.10"/><circle cx="783.0" cy="1172.1" r="1.0" opacity="0.10"/><circle cx="777.5" cy="1175.6" r="2.1" opacity="0.90"/><circle cx="794.1" cy="1171.6" r="1.6" opacity="0.70"/><circle cx="788.7" cy="1175.2" r="1.0" opacity="0.20"/><circle cx="805.1" cy="1172.0" r="1.0" opacity="0.30"/><circle cx="799.6" cy="1174.9" r="1.0" opacity="0.30"/><circle cx="816.1" cy="1172.1" r="1.0" opacity="0.30"/><circle cx="810.5" cy="1175.4" r="2.0" opacity="1.00"/><circle cx="483.8" cy="1181.5" r="1.0" opacity="0.30"/><circle cx="494.6" cy="1182.0" r="1.0" opacity="0.20"/><circle cx="489.0" cy="1184.9" r="1.9" opacity="0.50"/><circle cx="505.5" cy="1182.2" r="1.9" opacity="1.00"/><circle cx="500.2" cy="1185.4" r="1.0" opacity="0.20"/><circle cx="515.8" cy="1181.6" r="1.0" opacity="0.10"/><circle cx="510.7" cy="1185.2" r="1.0" opacity="0.10"/><circle cx="527.0" cy="1181.2" r="1.0" opacity="0.20"/><circle cx="521.6" cy="1184.4" r="1.8" opacity="0.50"/><circle cx="537.9" cy="1181.3" r="1.7" opacity="1.00"/><circle cx="532.4" cy="1184.4" r="1.0" opacity="0.10"/><circle cx="548.9" cy="1180.8" r="1.0" opacity="0.30"/><circle cx="543.3" cy="1184.1" r="1.0" opacity="0.20"/><circle cx="559.7" cy="1181.4" r="1.0" opacity="0.10"/><circle cx="554.0" cy="1184.3" r="2.0" opacity="0.70"/><circle cx="570.6" cy="1181.4" r="2.3" opacity="0.70"/><circle cx="565.1" cy="1184.8" r="1.0" opacity="0.20"/><circle cx="581.5" cy="1181.4" r="1.0" opacity="0.10"/><circle cx="575.8" cy="1184.4" r="1.0" opacity="0.30"/><circle cx="592.8" cy="1181.4" r="1.0" opacity="0.20"/><circle cx="587.2" cy="1184.4" r="2.0" opacity="0.70"/><circle cx="603.4" cy="1181.8" r="2.0" opacity="0.50"/><circle cx="598.1" cy="1184.5" r="1.0" opacity="0.30"/><circle cx="614.8" cy="1181.7" r="1.0" opacity="0.10"/><circle cx="609.1" cy="1185.1" r="1.0" opacity="0.10"/><circle cx="625.6" cy="1181.6" r="1.0" opacity="0.30"/><circle cx="620.2" cy="1184.9" r="1.6" opacity="0.70"/><circle cx="636.6" cy="1181.5" r="2.2" opacity="0.70"/><circle cx="630.9" cy="1185.0" r="1.0" opacity="0.20"/><circle cx="647.3" cy="1180.9" r="1.0" opacity="0.30"/><circle cx="642.2" cy="1184.4" r="1.0" opacity="0.30"/><circle cx="658.2" cy="1181.1" r="1.0" opacity="0.30"/><circle cx="652.8" cy="1184.2" r="2.0" opacity="0.90"/><circle cx="669.2" cy="1181.1" r="2.0" opacity="0.70"/><circle cx="664.0" cy="1184.3" r="1.0" opacity="0.20"/><circle cx="679.9" cy="1180.8" r="1.0" opacity="0.10"/><circle cx="674.6" cy="1184.1" r="1.0" opacity="0.20"/><circle cx="690.6" cy="1180.9" r="1.0" opacity="0.10"/><circle cx="685.4" cy="1184.0" r="1.8" opacity="0.90"/><circle cx="701.6" cy="1181.1" r="2.0" opacity="0.50"/><circle cx="696.1" cy="1184.3" r="1.0" opacity="0.30"/><circle cx="712.5" cy="1181.6" r="1.0" opacity="0.10"/><circle cx="707.1" cy="1184.6" r="1.0" opacity="0.20"/><circle cx="723.1" cy="1181.5" r="1.0" opacity="0.10"/><circle cx="717.8" cy="1184.9" r="1.9" opacity="1.00"/><circle cx="733.9" cy="1181.0" r="2.0" opacity="0.50"/><circle cx="728.6" cy="1184.5" r="1.0" opacity="0.20"/><circle cx="745.3" cy="1181.1" r="1.0" opacity="0.20"/><circle cx="739.6" cy="1184.2" r="1.0" opacity="0.20"/><circle cx="755.8" cy="1181.2" r="1.0" opacity="0.20"/><circle cx="750.8" cy="1184.4" r="1.7" opacity="0.50"/><circle cx="766.8" cy="1181.5" r="2.2" opacity="1.00"/><circle cx="761.2" cy="1184.3" r="1.0" opacity="0.10"/><circle cx="777.8" cy="1182.0" r="1.0" opacity="0.10"/><circle cx="772.6" cy="1184.8" r="1.0" opacity="0.20"/><circle cx="788.7" cy="1181.5" r="1.0" opacity="0.30"/><circle cx="783.4" cy="1184.7" r="1.9" opacity="0.70"/><circle cx="799.6" cy="1181.2" r="2.1" opacity="1.00"/><circle cx="794.1" cy="1184.3" r="1.0" opacity="0.10"/><circle cx="810.4" cy="1181.5" r="1.0" opacity="0.20"/><circle cx="805.0" cy="1184.4" r="1.0" opacity="0.20"/><circle cx="815.4" cy="1184.7" r="1.8" opacity="0.90"/><circle cx="489.0" cy="1191.5" r="2.1" opacity="0.90"/><circle cx="483.6" cy="1194.3" r="1.0" opacity="0.10"/><circle cx="499.8" cy="1191.7" r="1.0" opacity="0.30"/><circle cx="494.2" cy="1194.8" r="1.0" opacity="0.10"/><circle cx="510.9" cy="1191.5" r="1.0" opacity="0.20"/><circle cx="505.3" cy="1194.7" r="2.2" opacity="1.00"/><circle cx="521.6" cy="1191.2" r="1.9" opacity="0.90"/><circle cx="515.9" cy="1194.7" r="1.0" opacity="0.30"/><circle cx="532.4" cy="1190.9" r="1.0" opacity="0.10"/><circle cx="527.0" cy="1194.4" r="1.0" opacity="0.20"/><circle cx="542.9" cy="1190.5" r="1.0" opacity="0.20"/><circle cx="537.6" cy="1194.1" r="1.9" opacity="0.50"/><circle cx="554.2" cy="1190.7" r="2.0" opacity="0.50"/><circle cx="548.7" cy="1193.7" r="1.0" opacity="0.30"/><circle cx="565.0" cy="1191.2" r="1.0" opacity="0.20"/><circle cx="559.8" cy="1194.2" r="1.0" opacity="0.30"/><circle cx="576.1" cy="1190.7" r="1.0" opacity="0.20"/><circle cx="570.8" cy="1194.1" r="2.1" opacity="1.00"/><circle cx="586.9" cy="1190.5" r="2.2" opacity="1.00"/><circle cx="581.5" cy="1193.8" r="1.0" opacity="0.30"/><circle cx="598.5" cy="1190.7" r="1.0" opacity="0.30"/><circle cx="592.9" cy="1193.6" r="1.0" opacity="0.20"/><circle cx="609.1" cy="1191.2" r="1.0" opacity="0.30"/><circle cx="603.8" cy="1194.0" r="1.9" opacity="1.00"/><circle cx="620.0" cy="1191.1" r="1.8" opacity="0.70"/><circle cx="614.7" cy="1194.0" r="1.0" opacity="0.10"/><circle cx="630.9" cy="1191.5" r="1.0" opacity="0.30"/><circle cx="625.3" cy="1194.3" r="1.0" opacity="0.30"/><circle cx="642.2" cy="1191.0" r="1.0" opacity="0.20"/><circle cx="636.6" cy="1194.5" r="1.8" opacity="0.90"/><circle cx="653.0" cy="1190.7" r="2.0" opacity="0.50"/><circle cx="647.5" cy="1194.0" r="1.0" opacity="0.20"/><circle cx="663.5" cy="1191.0" r="1.0" opacity="0.10"/><circle cx="658.0" cy="1194.3" r="1.0" opacity="0.10"/><circle cx="674.7" cy="1190.5" r="1.0" opacity="0.30"/><circle cx="668.9" cy="1194.1" r="2.2" opacity="1.00"/><circle cx="685.5" cy="1190.5" r="2.1" opacity="1.00"/><circle cx="680.2" cy="1193.8" r="1.0" opacity="0.20"/><circle cx="696.0" cy="1190.6" r="1.0" opacity="0.10"/><circle cx="690.7" cy="1193.8" r="1.0" opacity="0.30"/><circle cx="707.1" cy="1191.1" r="1.0" opacity="0.20"/><circle cx="701.5" cy="1193.9" r="2.3" opacity="0.50"/><circle cx="717.9" cy="1190.9" r="2.0" opacity="1.00"/><circle cx="712.6" cy="1194.1" r="1.0" opacity="0.30"/><circle cx="728.7" cy="1190.9" r="1.0" opacity="0.30"/><circle cx="723.4" cy="1193.9" r="1.0" opacity="0.10"/><circle cx="739.9" cy="1190.8" r="1.0" opacity="0.30"/><circle cx="734.3" cy="1194.0" r="2.0" opacity="0.90"/><circle cx="750.8" cy="1190.6" r="2.3" opacity="1.00"/><circle cx="745.6" cy="1193.9" r="1.0" opacity="0.20"/><circle cx="761.4" cy="1191.0" r="1.0" opacity="0.30"/><circle cx="756.0" cy="1194.1" r="1.0" opacity="0.20"/><circle cx="772.8" cy="1190.7" r="1.0" opacity="0.10"/><circle cx="767.2" cy="1194.1" r="2.3" opacity="0.50"/><circle cx="783.7" cy="1191.1" r="1.8" opacity="1.00"/><circle cx="778.2" cy="1194.3" r="1.0" opacity="0.10"/><circle cx="794.0" cy="1190.8" r="1.0" opacity="0.30"/><circle cx="788.9" cy="1194.4" r="1.0" opacity="0.20"/><circle cx="804.6" cy="1191.0" r="1.0" opacity="0.10"/><circle cx="799.2" cy="1194.4" r="2.1" opacity="1.00"/><circle cx="815.7" cy="1190.8" r="2.2" opacity="0.50"/><circle cx="810.3" cy="1194.2" r="1.0" opacity="0.10"/><circle cx="483.7" cy="1200.6" r="1.0" opacity="0.10"/><circle cx="494.5" cy="1201.0" r="1.8" opacity="1.00"/><circle cx="489.4" cy="1204.0" r="1.0" opacity="0.10"/><circle cx="505.3" cy="1200.7" r="1.0" opacity="0.20"/><circle cx="500.1" cy="1203.9" r="1.0" opacity="0.20"/><circle cx="516.2" cy="1200.6" r="1.0" opacity="0.30"/><circle cx="511.1" cy="1203.5" r="1.8" opacity="0.70"/><circle cx="527.1" cy="1201.0" r="2.2" opacity="1.00"/><circle cx="522.0" cy="1203.7" r="1.0" opacity="0.10"/><circle cx="537.7" cy="1200.8" r="1.0" opacity="0.30"/><circle cx="532.6" cy="1204.1" r="1.0" opacity="0.20"/><circle cx="548.9" cy="1200.2" r="1.0" opacity="0.30"/><circle cx="543.2" cy="1203.7" r="1.8" opacity="1.00"/><circle cx="560.0" cy="1200.2" r="2.1" opacity="0.90"/><circle cx="554.7" cy="1203.2" r="1.0" opacity="0.20"/><circle cx="570.8" cy="1200.5" r="1.0" opacity="0.10"/><circle cx="565.3" cy="1203.6" r="1.0" opacity="0.10"/><circle cx="581.5" cy="1200.3" r="1.0" opacity="0.20"/><circle cx="576.1" cy="1203.6" r="1.8" opacity="1.00"/><circle cx="592.8" cy="1200.1" r="2.0" opacity="0.90"/><circle cx="586.9" cy="1203.5" r="1.0" opacity="0.10"/><circle cx="603.6" cy="1200.3" r="1.0" opacity="0.10"/><circle cx="598.3" cy="1203.5" r="1.0" opacity="0.10"/><circle cx="614.7" cy="1200.3" r="1.0" opacity="0.20"/><circle cx="609.0" cy="1203.8" r="2.1" opacity="0.70"/><circle cx="625.4" cy="1200.7" r="1.7" opacity="1.00"/><circle cx="620.1" cy="1203.8" r="1.0" opacity="0.10"/><circle cx="636.6" cy="1200.5" r="1.0" opacity="0.20"/><circle cx="630.9" cy="1203.8" r="1.0" opacity="0.20"/><circle cx="647.2" cy="1200.3" r="1.0" opacity="0.10"/><circle cx="641.9" cy="1203.2" r="2.0" opacity="0.50"/><circle cx="657.5" cy="1200.5" r="1.6" opacity="1.00"/><circle cx="652.2" cy="1203.3" r="1.0" opacity="0.30"/><circle cx="668.9" cy="1200.7" r="1.0" opacity="0.30"/><circle cx="663.1" cy="1203.8" r="1.0" opacity="0.20"/><circle cx="679.7" cy="1200.2" r="1.0" opacity="0.10"/><circle cx="674.4" cy="1203.5" r="1.9" opacity="1.00"/><circle cx="690.6" cy="1200.4" r="1.6" opacity="0.50"/><circle cx="685.0" cy="1203.5" r="1.0" opacity="0.30"/><circle cx="701.6" cy="1200.5" r="1.0" opacity="0.10"/><circle cx="696.0" cy="1203.8" r="1.0" opacity="0.30"/><circle cx="712.3" cy="1200.4" r="1.0" opacity="0.10"/><circle cx="706.9" cy="1204.1" r="2.3" opacity="0.50"/><circle cx="723.3" cy="1200.2" r="2.2" opacity="1.00"/><circle cx="717.5" cy="1203.6" r="1.0" opacity="0.20"/><circle cx="734.6" cy="1200.5" r="1.0" opacity="0.30"/><circle cx="728.9" cy="1203.7" r="1.0" opacity="0.30"/><circle cx="745.3" cy="1200.4" r="1.0" opacity="0.10"/><circle cx="739.8" cy="1203.8" r="2.0" opacity="0.50"/><circle cx="756.2" cy="1200.2" r="2.0" opacity="0.50"/><circle cx="750.6" cy="1203.2" r="1.0" opacity="0.10"/><circle cx="767.0" cy="1200.5" r="1.0" opacity="0.10"/><circle cx="761.4" cy="1203.5" r="1.0" opacity="0.20"/><circle cx="778.2" cy="1200.4" r="1.0" opacity="0.10"/><circle cx="772.5" cy="1203.2" r="1.9" opacity="0.90"/><circle cx="788.9" cy="1201.0" r="2.0" opacity="1.00"/><circle cx="783.6" cy="1203.8" r="1.0" opacity="0.10"/><circle cx="799.2" cy="1200.7" r="1.0" opacity="0.10"/><circle cx="794.0" cy="1203.6" r="1.0" opacity="0.30"/><circle cx="810.4" cy="1200.5" r="1.0" opacity="0.10"/><circle cx="804.8" cy="1203.6" r="2.3" opacity="1.00"/><circle cx="815.9" cy="1203.2" r="1.0" opacity="0.10"/><circle cx="489.3" cy="1209.9" r="1.0" opacity="0.30"/><circle cx="483.9" cy="1213.0" r="1.0" opacity="0.30"/><circle cx="500.6" cy="1210.1" r="1.0" opacity="0.30"/><circle cx="494.9" cy="1213.1" r="1.9" opacity="1.00"/><circle cx="511.3" cy="1209.5" r="2.2" opacity="0.70"/><circle cx="505.9" cy="1213.0" r="1.0" opacity="0.30"/><circle cx="522.1" cy="1209.7" r="1.0" opacity="0.10"/><circle cx="516.5" cy="1212.6" r="1.0" opacity="0.10"/><circle cx="532.5" cy="1210.2" r="1.0" opacity="0.20"/><circle cx="527.1" cy="1213.1" r="1.7" opacity="1.00"/><circle cx="543.3" cy="1210.2" r="2.3" opacity="0.50"/><circle cx="537.7" cy="1213.4" r="1.0" opacity="0.30"/><circle cx="554.5" cy="1209.7" r="1.0" opacity="0.20"/><circle cx="548.8" cy="1213.2" r="1.0" opacity="0.30"/><circle cx="565.4" cy="1210.0" r="1.0" opacity="0.10"/><circle cx="560.0" cy="1213.0" r="1.9" opacity="1.00"/><circle cx="575.8" cy="1210.1" r="1.7" opacity="0.90"/><circle cx="570.6" cy="1213.4" r="1.0" opacity="0.10"/><circle cx="586.9" cy="1209.9" r="1.0" opacity="0.30"/><circle cx="581.2" cy="1213.2" r="1.0" opacity="0.20"/><circle cx="597.9" cy="1210.2" r="1.0" opacity="0.10"/><circle cx="592.4" cy="1213.2" r="1.7" opacity="0.50"/><circle cx="608.8" cy="1210.3" r="2.3" opacity="1.00"/><circle cx="603.1" cy="1213.5" r="1.0" opacity="0.10"/><circle cx="620.1" cy="1210.2" r="1.0" opacity="0.10"/><circle cx="614.5" cy="1213.3" r="1.0" opacity="0.30"/><circle cx="631.1" cy="1209.8" r="1.0" opacity="0.30"/><circle cx="625.6" cy="1213.1" r="1.7" opacity="0.90"/><circle cx="641.8" cy="1209.5" r="2.2" opacity="1.00"/><circle cx="636.7" cy="1212.8" r="1.0" opacity="0.30"/><circle cx="652.2" cy="1209.3" r="1.0" opacity="0.20"/><circle cx="647.1" cy="1212.6" r="1.0" opacity="0.30"/><circle cx="663.3" cy="1209.8" r="1.0" opacity="0.20"/><circle cx="657.6" cy="1212.6" r="1.8" opacity="0.90"/><circle cx="674.3" cy="1210.1" r="2.0" opacity="0.70"/><circle cx="669.0" cy="1213.3" r="1.0" opacity="0.30"/><circle cx="684.8" cy="1210.0" r="1.0" opacity="0.20"/><circle cx="679.4" cy="1213.2" r="1.0" opacity="0.10"/><circle cx="696.2" cy="1210.1" r="1.0" opacity="0.10"/><circle cx="690.6" cy="1213.1" r="1.6" opacity="0.90"/><circle cx="706.8" cy="1210.1" r="1.9" opacity="1.00"/><circle cx="701.7" cy="1212.9" r="1.0" opacity="0.30"/><circle cx="717.7" cy="1210.0" r="1.0" opacity="0.10"/><circle cx="712.4" cy="1212.9" r="1.0" opacity="0.20"/><circle cx="728.8" cy="1209.9" r="1.0" opacity="0.10"/><circle cx="723.4" cy="1212.8" r="2.0" opacity="0.90"/><circle cx="739.9" cy="1210.2" r="2.2" opacity="1.00"/><circle cx="734.6" cy="1213.2" r="1.0" opacity="0.30"/><circle cx="750.4" cy="1209.7" r="1.0" opacity="0.20"/><circle cx="745.2" cy="1213.3" r="1.0" opacity="0.10"/><circle cx="761.2" cy="1209.7" r="1.0" opacity="0.30"/><circle cx="755.8" cy="1213.0" r="1.9" opacity="0.90"/><circle cx="772.2" cy="1209.5" r="1.7" opacity="0.50"/><circle cx="766.4" cy="1213.0" r="1.0" opacity="0.20"/><circle cx="783.4" cy="1209.9" r="1.0" opacity="0.10"/><circle cx="777.6" cy="1212.9" r="1.0" opacity="0.10"/><circle cx="794.2" cy="1209.7" r="1.0" opacity="0.20"/><circle cx="788.8" cy="1213.1" r="2.0" opacity="0.50"/><circle cx="805.2" cy="1209.9" r="1.8" opacity="0.90"/><circle cx="799.8" cy="1212.9" r="1.0" opacity="0.30"/><circle cx="815.7" cy="1209.7" r="1.0" opacity="0.10"/><circle cx="810.6" cy="1213.3" r="1.0" opacity="0.10"/><circle cx="483.7" cy="1219.1" r="2.1" opacity="0.50"/><circle cx="494.6" cy="1219.1" r="1.0" opacity="0.10"/><circle cx="488.9" cy="1222.1" r="1.0" opacity="0.10"/><circle cx="505.8" cy="1219.4" r="1.0" opacity="0.10"/><circle cx="500.2" cy="1222.5" r="1.6" opacity="1.00"/><circle cx="516.5" cy="1219.4" r="2.0" opacity="0.70"/><circle cx="511.3" cy="1222.7" r="1.0" opacity="0.10"/><circle cx="527.1" cy="1219.2" r="1.0" opacity="0.10"/><circle cx="522.1" cy="1222.6" r="1.0" opacity="0.10"/><circle cx="538.0" cy="1219.6" r="1.0" opacity="0.10"/><circle cx="532.8" cy="1222.5" r="2.3" opacity="0.70"/><circle cx="549.0" cy="1219.7" r="1.9" opacity="0.50"/><circle cx="543.7" cy="1222.9" r="1.0" opacity="0.20"/><circle cx="559.6" cy="1219.5" r="1.0" opacity="0.20"/><circle cx="554.2" cy="1222.6" r="1.0" opacity="0.30"/><circle cx="570.6" cy="1219.7" r="1.0" opacity="0.10"/><circle cx="565.0" cy="1222.7" r="1.6" opacity="1.00"/><circle cx="581.3" cy="1219.7" r="1.7" opacity="0.90"/><circle cx="575.9" cy="1222.9" r="1.0" opacity="0.10"/><circle cx="592.1" cy="1219.4" r="1.0" opacity="0.10"/><circle cx="586.7" cy="1222.7" r="1.0" opacity="0.30"/><circle cx="603.0" cy="1219.6" r="1.0" opacity="0.20"/><circle cx="597.5" cy="1222.5" r="1.7" opacity="1.00"/><circle cx="614.5" cy="1219.2" r="1.8" opacity="0.70"/><circle cx="608.7" cy="1222.3" r="1.0" opacity="0.10"/><circle cx="625.4" cy="1219.3" r="1.0" opacity="0.10"/><circle cx="619.8" cy="1222.3" r="1.0" opacity="0.30"/><circle cx="636.6" cy="1219.4" r="1.0" opacity="0.20"/><circle cx="630.8" cy="1222.6" r="2.1" opacity="0.90"/><circle cx="647.0" cy="1219.3" r="1.6" opacity="1.00"/><circle cx="641.7" cy="1222.8" r="1.0" opacity="0.30"/><circle cx="658.0" cy="1219.1" r="1.0" opacity="0.10"/><circle cx="652.5" cy="1222.5" r="1.0" opacity="0.30"/><circle cx="668.6" cy="1219.4" r="1.0" opacity="0.10"/><circle cx="663.3" cy="1222.4" r="1.9" opacity="0.50"/><circle cx="679.3" cy="1219.8" r="1.9" opacity="0.70"/><circle cx="673.8" cy="1222.8" r="1.0" opacity="0.30"/><circle cx="690.9" cy="1219.5" r="1.0" opacity="0.30"/><circle cx="685.1" cy="1222.9" r="1.0" opacity="0.10"/><circle cx="701.3" cy="1218.9" r="1.0" opacity="0.10"/><circle cx="696.2" cy="1222.4" r="2.3" opacity="1.00"/><circle cx="712.6" cy="1219.0" r="1.7" opacity="0.70"/><circle cx="706.7" cy="1222.2" r="1.0" opacity="0.30"/><circle cx="723.3" cy="1219.2" r="1.0" opacity="0.30"/><circle cx="717.9" cy="1222.5" r="1.0" opacity="0.30"/><circle cx="734.3" cy="1219.4" r="1.0" opacity="0.20"/><circle cx="728.4" cy="1222.5" r="2.1" opacity="0.50"/><circle cx="745.2" cy="1219.5" r="2.3" opacity="0.90"/><circle cx="739.6" cy="1222.7" r="1.0" opacity="0.20"/><circle cx="755.7" cy="1219.3" r="1.0" opacity="0.30"/><circle cx="750.3" cy="1222.3" r="1.0" opacity="0.30"/><circle cx="766.5" cy="1219.3" r="1.0" opacity="0.20"/><circle cx="761.1" cy="1222.3" r="1.9" opacity="1.00"/><circle cx="777.7" cy="1219.2" r="2.2" opacity="0.50"/><circle cx="772.3" cy="1222.1" r="1.0" opacity="0.20"/><circle cx="788.7" cy="1219.1" r="1.0" opacity="0.30"/><circle cx="783.3" cy="1222.2" r="1.0" opacity="0.10"/><circle cx="799.8" cy="1219.4" r="1.0" opacity="0.10"/><circle cx="794.1" cy="1222.1" r="2.2" opacity="0.90"/><circle cx="810.5" cy="1219.6" r="2.1" opacity="1.00"/><circle cx="805.2" cy="1222.6" r="1.0" opacity="0.30"/><circle cx="816.0" cy="1222.3" r="1.0" opacity="0.10"/><circle cx="489.2" cy="1228.6" r="1.0" opacity="0.30"/><circle cx="484.0" cy="1231.6" r="2.3" opacity="1.00"/><circle cx="499.9" cy="1228.7" r="1.7" opacity="0.90"/><circle cx="494.6" cy="1231.8" r="1.0" opacity="0.20"/><circle cx="511.3" cy="1229.3" r="1.0" opacity="0.10"/><circle cx="505.6" cy="1232.2" r="1.0" opacity="0.20"/><circle cx="522.2" cy="1228.7" r="1.0" opacity="0.20"/><circle cx="516.6" cy="1232.1" r="2.3" opacity="1.00"/><circle cx="532.9" cy="1228.9" r="1.7" opacity="1.00"/><circle cx="527.2" cy="1231.7" r="1.0" opacity="0.30"/><circle cx="543.9" cy="1229.2" r="1.0" opacity="0.20"/><circle cx="538.2" cy="1232.2" r="1.0" opacity="0.30"/><circle cx="554.1" cy="1229.0" r="1.0" opacity="0.20"/><circle cx="549.0" cy="1232.3" r="1.9" opacity="0.90"/><circle cx="564.8" cy="1228.6" r="2.1" opacity="1.00"/><circle cx="559.2" cy="1231.7" r="1.0" opacity="0.10"/><circle cx="575.9" cy="1229.3" r="1.0" opacity="0.20"/><circle cx="570.3" cy="1232.0" r="1.0" opacity="0.30"/><circle cx="586.9" cy="1229.1" r="1.0" opacity="0.10"/><circle cx="581.5" cy="1232.6" r="1.8" opacity="1.00"/><circle cx="597.4" cy="1228.5" r="2.2" opacity="0.70"/><circle cx="592.2" cy="1231.9" r="1.0" opacity="0.20"/><circle cx="608.6" cy="1228.3" r="1.0" opacity="0.30"/><circle cx="602.8" cy="1231.6" r="1.0" opacity="0.20"/><circle cx="619.5" cy="1228.8" r="1.0" opacity="0.20"/><circle cx="614.0" cy="1231.7" r="2.2" opacity="1.00"/><circle cx="630.5" cy="1228.9" r="2.0" opacity="0.90"/><circle cx="624.8" cy="1232.2" r="1.0" opacity="0.20"/><circle cx="641.6" cy="1229.2" r="1.0" opacity="0.20"/><circle cx="636.2" cy="1232.2" r="1.0" opacity="0.10"/><circle cx="652.7" cy="1229.1" r="1.0" opacity="0.10"/><circle cx="647.2" cy="1232.3" r="2.3" opacity="0.70"/><circle cx="663.3" cy="1229.1" r="2.1" opacity="0.70"/><circle cx="658.3" cy="1232.3" r="1.0" opacity="0.10"/><circle cx="673.8" cy="1228.8" r="1.0" opacity="0.10"/><circle cx="668.6" cy="1232.0" r="1.0" opacity="0.10"/><circle cx="685.3" cy="1229.0" r="1.0" opacity="0.20"/><circle cx="679.6" cy="1231.8" r="2.1" opacity="0.90"/><circle cx="696.0" cy="1228.8" r="2.0" opacity="0.50"/><circle cx="690.9" cy="1231.9" r="1.0" opacity="0.10"/><circle cx="706.8" cy="1228.6" r="1.0" opacity="0.30"/><circle cx="701.2" cy="1231.7" r="1.0" opacity="0.20"/><circle cx="717.7" cy="1228.9" r="1.0" opacity="0.30"/><circle cx="712.4" cy="1231.8" r="1.9" opacity="0.90"/><circle cx="728.2" cy="1229.1" r="2.0" opacity="1.00"/><circle cx="722.9" cy="1232.2" r="1.0" opacity="0.10"/><circle cx="739.2" cy="1228.8" r="1.0" opacity="0.10"/><circle cx="733.7" cy="1232.1" r="1.0" opacity="0.20"/><circle cx="750.2" cy="1228.5" r="1.0" opacity="0.10"/><circle cx="744.7" cy="1231.9" r="1.8" opacity="1.00"/><circle cx="761.2" cy="1228.2" r="2.1" opacity="1.00"/><circle cx="755.7" cy="1231.4" r="1.0" opacity="0.30"/><circle cx="772.5" cy="1228.4" r="1.0" opacity="0.10"/><circle cx="766.7" cy="1231.4" r="1.0" opacity="0.20"/><circle cx="783.4" cy="1228.2" r="1.0" opacity="0.30"/><circle cx="777.9" cy="1231.5" r="1.9" opacity="0.50"/><circle cx="794.1" cy="1228.4" r="2.1" opacity="0.50"/><circle cx="788.8" cy="1231.5" r="1.0" opacity="0.20"/><circle cx="804.7" cy="1228.6" r="1.0" opacity="0.10"/><circle cx="799.4" cy="1231.8" r="1.0" opacity="0.10"/><circle cx="816.5" cy="1228.2" r="1.0" opacity="0.20"/><circle cx="810.6" cy="1231.5" r="1.7" opacity="0.50"/><circle cx="484.0" cy="1238.2" r="1.0" opacity="0.10"/><circle cx="494.6" cy="1238.3" r="1.0" opacity="0.30"/><circle cx="489.2" cy="1241.6" r="1.7" opacity="0.90"/><circle cx="505.4" cy="1238.4" r="2.3" opacity="0.70"/><circle cx="499.7" cy="1241.3" r="1.0" opacity="0.20"/><circle cx="516.5" cy="1238.2" r="1.0" opacity="0.10"/><circle cx="511.0" cy="1241.5" r="1.0" opacity="0.20"/><circle cx="526.8" cy="1238.1" r="1.0" opacity="0.10"/><circle cx="521.6" cy="1241.1" r="1.7" opacity="0.90"/><circle cx="538.0" cy="1238.6" r="2.0" opacity="1.00"/><circle cx="532.3" cy="1241.6" r="1.0" opacity="0.10"/><circle cx="548.7" cy="1238.1" r="1.0" opacity="0.30"/><circle cx="543.4" cy="1241.3" r="1.0" opacity="0.10"/><circle cx="559.3" cy="1237.8" r="1.0" opacity="0.20"/><circle cx="553.8" cy="1241.0" r="1.8" opacity="1.00"/><circle cx="570.5" cy="1238.2" r="1.6" opacity="0.70"/><circle cx="565.1" cy="1240.9" r="1.0" opacity="0.20"/><circle cx="581.8" cy="1238.5" r="1.0" opacity="0.20"/><circle cx="576.4" cy="1241.5" r="1.0" opacity="0.20"/><circle cx="592.3" cy="1238.4" r="1.0" opacity="0.10"/><circle cx="587.3" cy="1241.5" r="1.9" opacity="0.90"/><circle cx="602.8" cy="1238.2" r="2.0" opacity="0.50"/><circle cx="597.4" cy="1241.6" r="1.0" opacity="0.20"/><circle cx="614.1" cy="1238.2" r="1.0" opacity="0.30"/><circle cx="608.6" cy="1241.3" r="1.0" opacity="0.10"/><circle cx="624.9" cy="1238.5" r="1.0" opacity="0.30"/><circle cx="619.7" cy="1241.6" r="2.2" opacity="0.70"/><circle cx="636.3" cy="1238.4" r="1.8" opacity="1.00"/><circle cx="630.7" cy="1241.5" r="1.0" opacity="0.30"/><circle cx="647.1" cy="1238.5" r="1.0" opacity="0.10"/><circle cx="641.6" cy="1241.7" r="1.0" opacity="0.10"/><circle cx="657.9" cy="1238.5" r="1.0" opacity="0.20"/><circle cx="652.3" cy="1241.5" r="1.7" opacity="1.00"/><circle cx="668.8" cy="1238.5" r="2.0" opacity="1.00"/><circle cx="663.2" cy="1241.8" r="1.0" opacity="0.30"/><circle cx="679.9" cy="1237.7" r="1.0" opacity="0.10"/><circle cx="674.3" cy="1241.2" r="1.0" opacity="0.20"/><circle cx="690.9" cy="1238.1" r="1.0" opacity="0.30"/><circle cx="685.6" cy="1241.1" r="2.3" opacity="0.90"/><circle cx="701.5" cy="1237.8" r="2.2" opacity="1.00"/><circle cx="696.3" cy="1241.1" r="1.0" opacity="0.30"/><circle cx="712.5" cy="1238.0" r="1.0" opacity="0.10"/><circle cx="707.2" cy="1240.9" r="1.0" opacity="0.10"/><circle cx="723.2" cy="1238.6" r="1.0" opacity="0.10"/><circle cx="718.1" cy="1241.5" r="1.7" opacity="1.00"/><circle cx="734.0" cy="1238.1" r="2.1" opacity="1.00"/><circle cx="728.9" cy="1241.5" r="1.0" opacity="0.20"/><circle cx="745.1" cy="1238.1" r="1.0" opacity="0.30"/><circle cx="739.8" cy="1241.1" r="1.0" opacity="0.30"/><circle cx="756.1" cy="1237.8" r="1.0" opacity="0.30"/><circle cx="750.9" cy="1241.2" r="2.2" opacity="0.90"/><circle cx="766.7" cy="1237.8" r="2.0" opacity="0.50"/><circle cx="761.5" cy="1241.0" r="1.0" opacity="0.20"/><circle cx="777.6" cy="1237.8" r="1.0" opacity="0.30"/><circle cx="772.1" cy="1241.1" r="1.0" opacity="0.30"/><circle cx="789.0" cy="1237.8" r="1.0" opacity="0.20"/><circle cx="783.2" cy="1240.8" r="2.0" opacity="0.90"/><circle cx="799.3" cy="1238.3" r="2.2" opacity="0.90"/><circle cx="794.3" cy="1241.2" r="1.0" opacity="0.10"/><circle cx="810.6" cy="1237.9" r="1.0" opacity="0.10"/><circle cx="804.7" cy="1241.5" r="1.0" opacity="0.30"/><circle cx="816.1" cy="1240.9" r="2.0" opacity="0.90"/><circle cx="489.0" cy="1248.1" r="2.0" opacity="0.50"/><circle cx="483.5" cy="1251.5" r="1.0" opacity="0.10"/><circle cx="499.6" cy="1247.5" r="1.0" opacity="0.10"/><circle cx="494.3" cy="1251.0" r="1.0" opacity="0.30"/><circle cx="510.8" cy="1247.7" r="1.0" opacity="0.10"/><circle cx="505.1" cy="1250.8" r="1.7" opacity="0.70"/><circle cx="521.5" cy="1247.8" r="2.2" opacity="1.00"/><circle cx="516.1" cy="1251.2" r="1.0" opacity="0.30"/><circle cx="532.5" cy="1247.5" r="1.0" opacity="0.30"/><circle cx="526.8" cy="1250.7" r="1.0" opacity="0.10"/><circle cx="543.2" cy="1247.5" r="1.0" opacity="0.20"/><circle cx="538.0" cy="1250.6" r="1.7" opacity="0.90"/><circle cx="554.1" cy="1247.5" r="1.8" opacity="0.90"/><circle cx="548.8" cy="1250.7" r="1.0" opacity="0.30"/><circle cx="565.3" cy="1247.5" r="1.0" opacity="0.30"/><circle cx="559.8" cy="1251.0" r="1.0" opacity="0.10"/><circle cx="576.5" cy="1247.7" r="1.0" opacity="0.10"/><circle cx="570.8" cy="1251.0" r="2.1" opacity="0.50"/><circle cx="587.0" cy="1247.8" r="2.3" opacity="1.00"/><circle cx="581.6" cy="1251.0" r="1.0" opacity="0.20"/><circle cx="597.5" cy="1248.0" r="1.0" opacity="0.30"/><circle cx="592.0" cy="1251.0" r="1.0" opacity="0.30"/><circle cx="608.7" cy="1247.7" r="1.0" opacity="0.30"/><circle cx="602.9" cy="1251.0" r="2.2" opacity="0.50"/><circle cx="619.7" cy="1247.6" r="1.9" opacity="1.00"/><circle cx="614.2" cy="1250.5" r="1.0" opacity="0.20"/><circle cx="630.8" cy="1247.9" r="1.0" opacity="0.20"/><circle cx="625.0" cy="1250.8" r="1.0" opacity="0.20"/><circle cx="641.5" cy="1247.9" r="1.0" opacity="0.20"/><circle cx="636.3" cy="1250.9" r="2.2" opacity="0.70"/><circle cx="652.2" cy="1247.7" r="2.2" opacity="0.90"/><circle cx="646.9" cy="1250.8" r="1.0" opacity="0.10"/><circle cx="663.2" cy="1247.9" r="1.0" opacity="0.20"/><circle cx="657.9" cy="1250.7" r="1.0" opacity="0.10"/><circle cx="674.7" cy="1247.5" r="1.0" opacity="0.30"/><circle cx="669.2" cy="1250.9" r="1.9" opacity="1.00"/><circle cx="685.6" cy="1247.3" r="2.1" opacity="1.00"/><circle cx="680.2" cy="1250.3" r="1.0" opacity="0.10"/><circle cx="696.2" cy="1247.6" r="1.0" opacity="0.30"/><circle cx="690.9" cy="1250.9" r="1.0" opacity="0.10"/><circle cx="707.2" cy="1247.2" r="1.0" opacity="0.10"/><circle cx="701.5" cy="1250.5" r="2.2" opacity="0.50"/><circle cx="717.9" cy="1248.0" r="2.2" opacity="1.00"/><circle cx="712.4" cy="1250.7" r="1.0" opacity="0.10"/><circle cx="729.1" cy="1247.7" r="1.0" opacity="0.10"/><circle cx="723.1" cy="1251.3" r="1.0" opacity="0.20"/><circle cx="740.0" cy="1247.4" r="1.0" opacity="0.30"/><circle cx="734.4" cy="1250.7" r="1.9" opacity="0.70"/><circle cx="750.9" cy="1247.8" r="2.0" opacity="0.50"/><circle cx="745.3" cy="1251.0" r="1.0" opacity="0.10"/><circle cx="761.8" cy="1247.5" r="1.0" opacity="0.10"/><circle cx="756.4" cy="1250.9" r="1.0" opacity="0.10"/><circle cx="772.2" cy="1247.3" r="1.0" opacity="0.30"/><circle cx="767.1" cy="1250.5" r="2.2" opacity="0.70"/><circle cx="783.4" cy="1247.1" r="2.0" opacity="0.50"/><circle cx="777.8" cy="1250.3" r="1.0" opacity="0.10"/><circle cx="794.0" cy="1247.7" r="1.0" opacity="0.10"/><circle cx="788.9" cy="1250.5" r="1.0" opacity="0.30"/><circle cx="804.7" cy="1247.9" r="1.0" opacity="0.10"/><circle cx="799.1" cy="1251.2" r="1.9" opacity="1.00"/><circle cx="815.9" cy="1247.4" r="2.3" opacity="1.00"/><circle cx="810.4" cy="1250.9" r="1.0" opacity="0.20"/><circle cx="483.4" cy="1257.3" r="1.0" opacity="0.10"/><circle cx="494.6" cy="1257.4" r="2.1" opacity="0.90"/><circle cx="489.2" cy="1260.4" r="1.0" opacity="0.10"/><circle cx="505.4" cy="1257.0" r="1.0" opacity="0.30"/><circle cx="500.1" cy="1260.1" r="1.0" opacity="0.30"/><circle cx="516.2" cy="1257.3" r="1.0" opacity="0.30"/><circle cx="511.1" cy="1260.0" r="2.1" opacity="1.00"/><circle cx="526.8" cy="1257.0" r="2.1" opacity="1.00"/><circle cx="521.5" cy="1260.3" r="1.0" opacity="0.30"/><circle cx="538.1" cy="1256.5" r="1.0" opacity="0.10"/><circle cx="532.5" cy="1259.7" r="1.0" opacity="0.10"/><circle cx="549.1" cy="1257.2" r="1.0" opacity="0.10"/><circle cx="543.7" cy="1260.0" r="1.9" opacity="0.90"/><circle cx="560.2" cy="1257.6" r="1.9" opacity="1.00"/><circle cx="554.8" cy="1260.7" r="1.0" opacity="0.10"/><circle cx="570.8" cy="1257.2" r="1.0" opacity="0.30"/><circle cx="565.6" cy="1260.4" r="1.0" opacity="0.10"/><circle cx="581.6" cy="1257.4" r="1.0" opacity="0.20"/><circle cx="576.5" cy="1260.4" r="2.3" opacity="1.00"/><circle cx="592.1" cy="1257.4" r="1.7" opacity="0.50"/><circle cx="587.0" cy="1260.6" r="1.0" opacity="0.10"/><circle cx="603.2" cy="1256.9" r="1.0" opacity="0.10"/><circle cx="597.8" cy="1260.3" r="1.0" opacity="0.20"/><circle cx="613.9" cy="1256.6" r="1.0" opacity="0.30"/><circle cx="608.7" cy="1259.7" r="1.8" opacity="0.70"/><circle cx="625.1" cy="1256.8" r="2.0" opacity="0.70"/><circle cx="619.5" cy="1259.7" r="1.0" opacity="0.30"/><circle cx="636.0" cy="1257.0" r="1.0" opacity="0.10"/><circle cx="630.7" cy="1259.9" r="1.0" opacity="0.30"/><circle cx="647.0" cy="1257.0" r="1.0" opacity="0.10"/><circle cx="641.2" cy="1260.1" r="2.2" opacity="1.00"/><circle cx="658.1" cy="1256.8" r="2.0" opacity="1.00"/><circle cx="652.4" cy="1260.0" r="1.0" opacity="0.10"/><circle cx="669.0" cy="1256.9" r="1.0" opacity="0.30"/><circle cx="663.2" cy="1260.1" r="1.0" opacity="0.30"/><circle cx="680.3" cy="1256.6" r="1.0" opacity="0.20"/><circle cx="674.6" cy="1259.9" r="2.1" opacity="1.00"/><circle cx="690.8" cy="1257.2" r="2.1" opacity="0.50"/><circle cx="685.7" cy="1260.0" r="1.0" opacity="0.20"/><circle cx="701.5" cy="1257.1" r="1.0" opacity="0.10"/><circle cx="696.2" cy="1260.5" r="1.0" opacity="0.10"/><circle cx="712.4" cy="1257.1" r="1.0" opacity="0.30"/><circle cx="707.2" cy="1260.1" r="2.1" opacity="0.70"/><circle cx="723.1" cy="1257.5" r="1.7" opacity="0.90"/><circle cx="717.9" cy="1260.6" r="1.0" opacity="0.10"/><circle cx="734.3" cy="1257.1" r="1.0" opacity="0.30"/><circle cx="729.0" cy="1260.4" r="1.0" opacity="0.10"/><circle cx="744.9" cy="1257.6" r="1.0" opacity="0.30"/><circle cx="739.6" cy="1260.4" r="1.9" opacity="0.70"/><circle cx="756.2" cy="1257.4" r="1.9" opacity="0.70"/><circle cx="750.3" cy="1260.8" r="1.0" opacity="0.20"/><circle cx="767.0" cy="1256.8" r="1.0" opacity="0.30"/><circle cx="761.5" cy="1260.3" r="1.0" opacity="0.10"/><circle cx="777.9" cy="1256.8" r="1.0" opacity="0.10"/><circle cx="772.2" cy="1260.1" r="1.9" opacity="1.00"/><circle cx="789.0" cy="1257.0" r="2.0" opacity="0.50"/><circle cx="783.6" cy="1260.1" r="1.0" opacity="0.20"/><circle cx="799.3" cy="1257.2" r="1.0" opacity="0.30"/><circle cx="794.4" cy="1260.3" r="1.0" opacity="0.20"/><circle cx="810.2" cy="1257.4" r="1.0" opacity="0.10"/><circle cx="804.7" cy="1260.4" r="2.2" opacity="0.50"/><circle cx="815.7" cy="1260.7" r="1.0" opacity="0.20"/><circle cx="489.4" cy="1266.2" r="1.0" opacity="0.30"/><circle cx="483.8" cy="1269.0" r="1.0" opacity="0.30"/><circle cx="500.3" cy="1266.2" r="1.0" opacity="0.10"/><circle cx="494.9" cy="1269.3" r="2.2" opacity="0.50"/><circle cx="511.4" cy="1266.0" r="1.6" opacity="0.50"/><circle cx="505.8" cy="1269.1" r="1.0" opacity="0.20"/><circle cx="521.9" cy="1266.1" r="1.0" opacity="0.20"/><circle cx="516.9" cy="1269.1" r="1.0" opacity="0.30"/><circle cx="532.6" cy="1266.1" r="1.0" opacity="0.30"/><circle cx="527.3" cy="1269.2" r="1.9" opacity="0.50"/><circle cx="543.4" cy="1266.4" r="2.0" opacity="1.00"/><circle cx="537.9" cy="1269.2" r="1.0" opacity="0.20"/><circle cx="555.0" cy="1266.8" r="1.0" opacity="0.20"/><circle cx="549.1" cy="1269.8" r="1.0" opacity="0.10"/><circle cx="565.8" cy="1266.8" r="1.0" opacity="0.20"/><circle cx="560.5" cy="1270.1" r="1.7" opacity="0.70"/><circle cx="576.6" cy="1266.3" r="1.6" opacity="0.70"/><circle cx="571.1" cy="1269.5" r="1.0" opacity="0.10"/><circle cx="587.2" cy="1266.6" r="1.0" opacity="0.20"/><circle cx="581.9" cy="1269.3" r="1.0" opacity="0.10"/><circle cx="598.0" cy="1266.5" r="1.0" opacity="0.20"/><circle cx="592.5" cy="1269.6" r="1.9" opacity="1.00"/><circle cx="608.9" cy="1265.9" r="2.0" opacity="0.50"/><circle cx="603.6" cy="1269.3" r="1.0" opacity="0.10"/><circle cx="619.8" cy="1266.0" r="1.0" opacity="0.10"/><circle cx="614.3" cy="1269.2" r="1.0" opacity="0.30"/><circle cx="630.6" cy="1266.0" r="1.0" opacity="0.30"/><circle cx="625.4" cy="1269.2" r="2.0" opacity="1.00"/><circle cx="641.3" cy="1266.4" r="2.1" opacity="0.50"/><circle cx="636.0" cy="1269.3" r="1.0" opacity="0.10"/><circle cx="652.4" cy="1266.4" r="1.0" opacity="0.20"/><circle cx="647.1" cy="1269.7" r="1.0" opacity="0.30"/><circle cx="663.0" cy="1266.3" r="1.0" opacity="0.20"/><circle cx="657.9" cy="1269.4" r="2.1" opacity="0.90"/><circle cx="674.3" cy="1266.4" r="2.0" opacity="0.90"/><circle cx="668.4" cy="1269.6" r="1.0" opacity="0.20"/><circle cx="685.8" cy="1266.7" r="1.0" opacity="0.30"/><circle cx="680.1" cy="1269.8" r="1.0" opacity="0.20"/><circle cx="696.6" cy="1266.9" r="1.0" opacity="0.10"/><circle cx="691.3" cy="1270.3" r="2.1" opacity="0.70"/><circle cx="707.4" cy="1266.8" r="1.9" opacity="0.50"/><circle cx="702.0" cy="1270.1" r="1.0" opacity="0.20"/><circle cx="717.9" cy="1266.7" r="1.0" opacity="0.10"/><circle cx="712.5" cy="1269.9" r="1.0" opacity="0.20"/><circle cx="729.1" cy="1266.7" r="1.0" opacity="0.30"/><circle cx="723.2" cy="1269.9" r="2.2" opacity="1.00"/><circle cx="739.7" cy="1266.6" r="2.1" opacity="0.90"/><circle cx="734.5" cy="1269.7" r="1.0" opacity="0.10"/><circle cx="750.5" cy="1266.6" r="1.0" opacity="0.30"/><circle cx="745.2" cy="1269.7" r="1.0" opacity="0.20"/><circle cx="761.3" cy="1266.8" r="1.0" opacity="0.30"/><circle cx="756.2" cy="1269.8" r="2.1" opacity="1.00"/><circle cx="771.9" cy="1266.4" r="2.0" opacity="0.70"/><circle cx="766.6" cy="1269.6" r="1.0" opacity="0.30"/><circle cx="783.7" cy="1266.8" r="1.0" opacity="0.10"/><circle cx="777.7" cy="1269.8" r="1.0" opacity="0.20"/><circle cx="794.2" cy="1266.1" r="1.0" opacity="0.30"/><circle cx="788.9" cy="1269.6" r="2.1" opacity="0.70"/><circle cx="805.2" cy="1266.7" r="2.2" opacity="0.50"/><circle cx="799.6" cy="1269.4" r="1.0" opacity="0.20"/><circle cx="815.7" cy="1267.0" r="1.0" opacity="0.30"/><circle cx="810.6" cy="1270.0" r="1.0" opacity="0.20"/><circle cx="484.0" cy="1275.6" r="1.8" opacity="0.90"/><circle cx="494.4" cy="1275.3" r="1.0" opacity="0.10"/><circle cx="489.1" cy="1278.8" r="1.0" opacity="0.10"/><circle cx="505.8" cy="1275.9" r="1.0" opacity="0.30"/><circle cx="499.8" cy="1278.9" r="1.8" opacity="1.00"/><circle cx="516.9" cy="1275.5" r="1.9" opacity="0.50"/><circle cx="511.4" cy="1279.2" r="1.0" opacity="0.20"/><circle cx="527.3" cy="1275.4" r="1.0" opacity="0.20"/><circle cx="522.0" cy="1278.7" r="1.0" opacity="0.10"/><circle cx="537.6" cy="1275.9" r="1.0" opacity="0.20"/><circle cx="532.3" cy="1278.9" r="2.1" opacity="1.00"/><circle cx="548.8" cy="1276.1" r="2.3" opacity="1.00"/><circle cx="542.9" cy="1279.3" r="1.0" opacity="0.10"/><circle cx="560.3" cy="1276.1" r="1.0" opacity="0.10"/><circle cx="554.5" cy="1279.1" r="1.0" opacity="0.20"/><circle cx="571.0" cy="1275.8" r="1.0" opacity="0.10"/><circle cx="565.6" cy="1279.1" r="2.1" opacity="1.00"/><circle cx="581.5" cy="1275.7" r="2.2" opacity="1.00"/><circle cx="576.2" cy="1279.0" r="1.0" opacity="0.20"/><circle cx="592.4" cy="1275.5" r="1.0" opacity="0.30"/><circle cx="586.8" cy="1278.9" r="1.0" opacity="0.30"/><circle cx="603.3" cy="1275.7" r="1.0" opacity="0.20"/><circle cx="597.7" cy="1278.8" r="2.0" opacity="0.50"/><circle cx="614.6" cy="1275.6" r="1.7" opacity="1.00"/><circle cx="608.9" cy="1278.8" r="1.0" opacity="0.20"/><circle cx="625.2" cy="1275.7" r="1.0" opacity="0.30"/><circle cx="619.9" cy="1279.0" r="1.0" opacity="0.10"/><circle cx="636.0" cy="1275.7" r="1.0" opacity="0.20"/><circle cx="630.4" cy="1278.9" r="2.1" opacity="1.00"/><circle cx="647.2" cy="1276.2" r="2.3" opacity="1.00"/><circle cx="641.3" cy="1279.3" r="1.0" opacity="0.20"/><circle cx="657.8" cy="1275.7" r="1.0" opacity="0.30"/><circle cx="652.5" cy="1279.2" r="1.0" opacity="0.10"/><circle cx="668.5" cy="1275.8" r="1.0" opacity="0.10"/><circle cx="662.9" cy="1278.7" r="2.0" opacity="1.00"/><circle cx="680.0" cy="1276.4" r="1.7" opacity="1.00"/><circle cx="674.2" cy="1279.2" r="1.0" opacity="0.20"/><circle cx="691.3" cy="1276.4" r="1.0" opacity="0.30"/><circle cx="685.7" cy="1279.4" r="1.0" opacity="0.10"/><circle cx="701.8" cy="1276.5" r="1.0" opacity="0.20"/><circle cx="696.3" cy="1279.5" r="1.6" opacity="1.00"/><circle cx="712.2" cy="1276.0" r="2.0" opacity="1.00"/><circle cx="706.8" cy="1279.3" r="1.0" opacity="0.10"/><circle cx="723.1" cy="1276.3" r="1.0" opacity="0.20"/><circle cx="717.5" cy="1279.2" r="1.0" opacity="0.20"/><circle cx="734.3" cy="1276.0" r="1.0" opacity="0.20"/><circle cx="728.7" cy="1279.3" r="1.8" opacity="1.00"/><circle cx="745.7" cy="1276.0" r="1.7" opacity="1.00"/><circle cx="739.9" cy="1279.3" r="1.0" opacity="0.20"/><circle cx="756.2" cy="1275.7" r="1.0" opacity="0.20"/><circle cx="751.0" cy="1278.9" r="1.0" opacity="0.10"/><circle cx="766.9" cy="1276.1" r="1.0" opacity="0.20"/><circle cx="761.6" cy="1279.3" r="2.0" opacity="1.00"/><circle cx="777.7" cy="1276.1" r="2.0" opacity="0.70"/><circle cx="772.2" cy="1279.2" r="1.0" opacity="0.20"/><circle cx="788.6" cy="1275.8" r="1.0" opacity="0.10"/><circle cx="783.3" cy="1279.3" r="1.0" opacity="0.20"/><circle cx="799.6" cy="1275.9" r="1.0" opacity="0.30"/><circle cx="793.9" cy="1278.8" r="2.1" opacity="0.50"/><circle cx="810.7" cy="1276.2" r="2.2" opacity="1.00"/><circle cx="805.3" cy="1279.5" r="1.0" opacity="0.30"/><circle cx="815.7" cy="1279.3" r="1.0" opacity="0.30"/><circle cx="489.1" cy="1285.1" r="1.0" opacity="0.30"/><circle cx="483.8" cy="1288.2" r="1.8" opacity="0.70"/><circle cx="499.6" cy="1285.6" r="1.7" opacity="0.90"/><circle cx="494.2" cy="1288.3" r="1.0" opacity="0.20"/><circle cx="511.4" cy="1285.8" r="1.0" opacity="0.30"/><circle cx="505.6" cy="1289.2" r="1.0" opacity="0.10"/><circle cx="521.7" cy="1285.5" r="1.0" opacity="0.30"/><circle cx="516.6" cy="1288.9" r="1.8" opacity="1.00"/><circle cx="532.1" cy="1285.5" r="1.9" opacity="0.70"/><circle cx="526.8" cy="1288.8" r="1.0" opacity="0.30"/><circle cx="543.4" cy="1285.4" r="1.0" opacity="0.20"/><circle cx="537.8" cy="1288.6" r="1.0" opacity="0.20"/><circle cx="554.1" cy="1285.4" r="1.0" opacity="0.30"/><circle cx="548.9" cy="1288.5" r="2.1" opacity="1.00"/><circle cx="565.6" cy="1285.4" r="1.9" opacity="1.00"/><circle cx="559.9" cy="1288.6" r="1.0" opacity="0.30"/><circle cx="576.4" cy="1285.5" r="1.0" opacity="0.30"/><circle cx="571.3" cy="1288.6" r="1.0" opacity="0.20"/><circle cx="586.7" cy="1285.2" r="1.0" opacity="0.20"/><circle cx="581.7" cy="1288.5" r="2.2" opacity="1.00"/><circle cx="597.6" cy="1285.4" r="1.9" opacity="0.50"/><circle cx="592.2" cy="1288.3" r="1.0" opacity="0.30"/><circle cx="608.7" cy="1285.1" r="1.0" opacity="0.30"/><circle cx="603.0" cy="1288.6" r="1.0" opacity="0.10"/><circle cx="619.7" cy="1285.1" r="1.0" opacity="0.10"/><circle cx="614.2" cy="1288.0" r="2.0" opacity="0.90"/><circle cx="630.3" cy="1285.3" r="1.9" opacity="0.50"/><circle cx="624.9" cy="1288.2" r="1.0" opacity="0.10"/><circle cx="641.1" cy="1285.6" r="1.0" opacity="0.30"/><circle cx="635.7" cy="1288.4" r="1.0" opacity="0.20"/><circle cx="652.2" cy="1285.5" r="1.0" opacity="0.20"/><circle cx="646.7" cy="1288.8" r="1.7" opacity="1.00"/><circle cx="663.3" cy="1285.1" r="2.0" opacity="0.90"/><circle cx="657.9" cy="1288.4" r="1.0" opacity="0.30"/><circle cx="674.6" cy="1285.1" r="1.0" opacity="0.10"/><circle cx="669.1" cy="1288.2" r="1.0" opacity="0.30"/><circle cx="685.3" cy="1285.2" r="1.0" opacity="0.30"/><circle cx="680.0" cy="1288.1" r="2.1" opacity="1.00"/><circle cx="695.9" cy="1285.7" r="1.9" opacity="0.50"/><circle cx="690.6" cy="1288.4" r="1.0" opacity="0.10"/><circle cx="706.9" cy="1285.3" r="1.0" opacity="0.10"/><circle cx="701.4" cy="1288.8" r="1.0" opacity="0.30"/><circle cx="717.5" cy="1285.4" r="1.0" opacity="0.10"/><circle cx="712.4" cy="1288.3" r="2.2" opacity="0.50"/><circle cx="728.7" cy="1285.4" r="2.1" opacity="1.00"/><circle cx="723.2" cy="1288.6" r="1.0" opacity="0.10"/><circle cx="740.0" cy="1285.8" r="1.0" opacity="0.30"/><circle cx="734.4" cy="1288.6" r="1.0" opacity="0.10"/><circle cx="750.7" cy="1285.5" r="1.0" opacity="0.30"/><circle cx="745.5" cy="1289.1" r="2.0" opacity="0.90"/><circle cx="761.8" cy="1285.3" r="1.8" opacity="0.50"/><circle cx="756.2" cy="1288.3" r="1.0" opacity="0.30"/><circle cx="772.3" cy="1285.9" r="1.0" opacity="0.30"/><circle cx="767.1" cy="1288.9" r="1.0" opacity="0.20"/><circle cx="783.4" cy="1285.1" r="1.0" opacity="0.30"/><circle cx="777.9" cy="1288.6" r="2.3" opacity="0.70"/><circle cx="794.3" cy="1285.3" r="2.0" opacity="1.00"/><circle cx="789.1" cy="1288.1" r="1.0" opacity="0.30"/><circle cx="804.9" cy="1285.5" r="1.0" opacity="0.30"/><circle cx="799.6" cy="1288.4" r="1.0" opacity="0.30"/><circle cx="815.6" cy="1285.7" r="1.0" opacity="0.20"/><circle cx="810.1" cy="1288.6" r="1.8" opacity="0.90"/></g>
<g filter="url(#b25)" fill="#282828" opacity="0.72">
<path d="M585 1050 L600 1044 L614 1050 L618 1070 L612 1092 L622 1100 L636 1108 L642 1125 L636 1145 L620 1152 L600 1148 L590 1132 L592 1112 L582 1098 L578 1075 Z"/>
<path d="M655 1028 L672 1022 L692 1025 L703 1036 L700 1052 L688 1060 L668 1060 L654 1050 Z"/>
<path d="M754 1036 L770 1031 L784 1036 L786 1050 L772 1057 L756 1052 Z"/>
<path d="M487 1198 L505 1195 L522 1205 L527 1225 L520 1244 L505 1249 L487 1246 Z"/>
<ellipse cx="535" cy="1051" rx="9" ry="9"/>
<ellipse cx="493" cy="1048" rx="6" ry="9"/>
<ellipse cx="524" cy="1106" rx="8" ry="8"/>
<ellipse cx="674" cy="1099" rx="12" ry="9"/>
<ellipse cx="643" cy="1181" rx="11" ry="9"/>
<ellipse cx="575" cy="1238" rx="10" ry="8"/>
<ellipse cx="760" cy="1245" rx="10" ry="8"/>
<ellipse cx="700" cy="1180" rx="8" ry="7"/>
<ellipse cx="730" cy="1120" rx="9" ry="8"/>
</g>
<g filter="url(#b15)" fill="none" stroke="#cfcfcf" stroke-width="2.5" opacity="0.4">
<path d="M560 1080 L575 1110 L600 1160 L620 1210 L640 1250"/>
<path d="M540 1095 L555 1140 L575 1190 L590 1240"/>
<path d="M620 1020 L640 1050 L660 1080"/>
<path d="M630 1100 L650 1130"/>
<path d="M600 1000 L640 1050 L690 1100"/>
<path d="M690 1105 L740 1080 L800 1070"/>
<path d="M500 1130 L540 1180 L560 1260"/>
</g>
<rect x="487.0" y="968.7" width="313.8" height="311.3" filter="url(#grain)" opacity="0.3"/>
</g>
<text x="431.40" y="993.60" font-size="33.00" text-anchor="start" fill="#1a1a1a" font-weight="normal" >(f)</text>
<text transform="translate(510.70,1006.10) scale(0.910,1)" font-size="31.00" text-anchor="start" fill="#fff" font-weight="bold" >IO</text>
<rect x="658.9" y="1262.0" width="128.3" height="8.6" fill="#fff"/>
<text transform="translate(700.35,1250.00) scale(1.050,1)" font-size="31.00" text-anchor="start" fill="#fff" font-weight="normal" >2 μm</text>
</svg></body></html>
